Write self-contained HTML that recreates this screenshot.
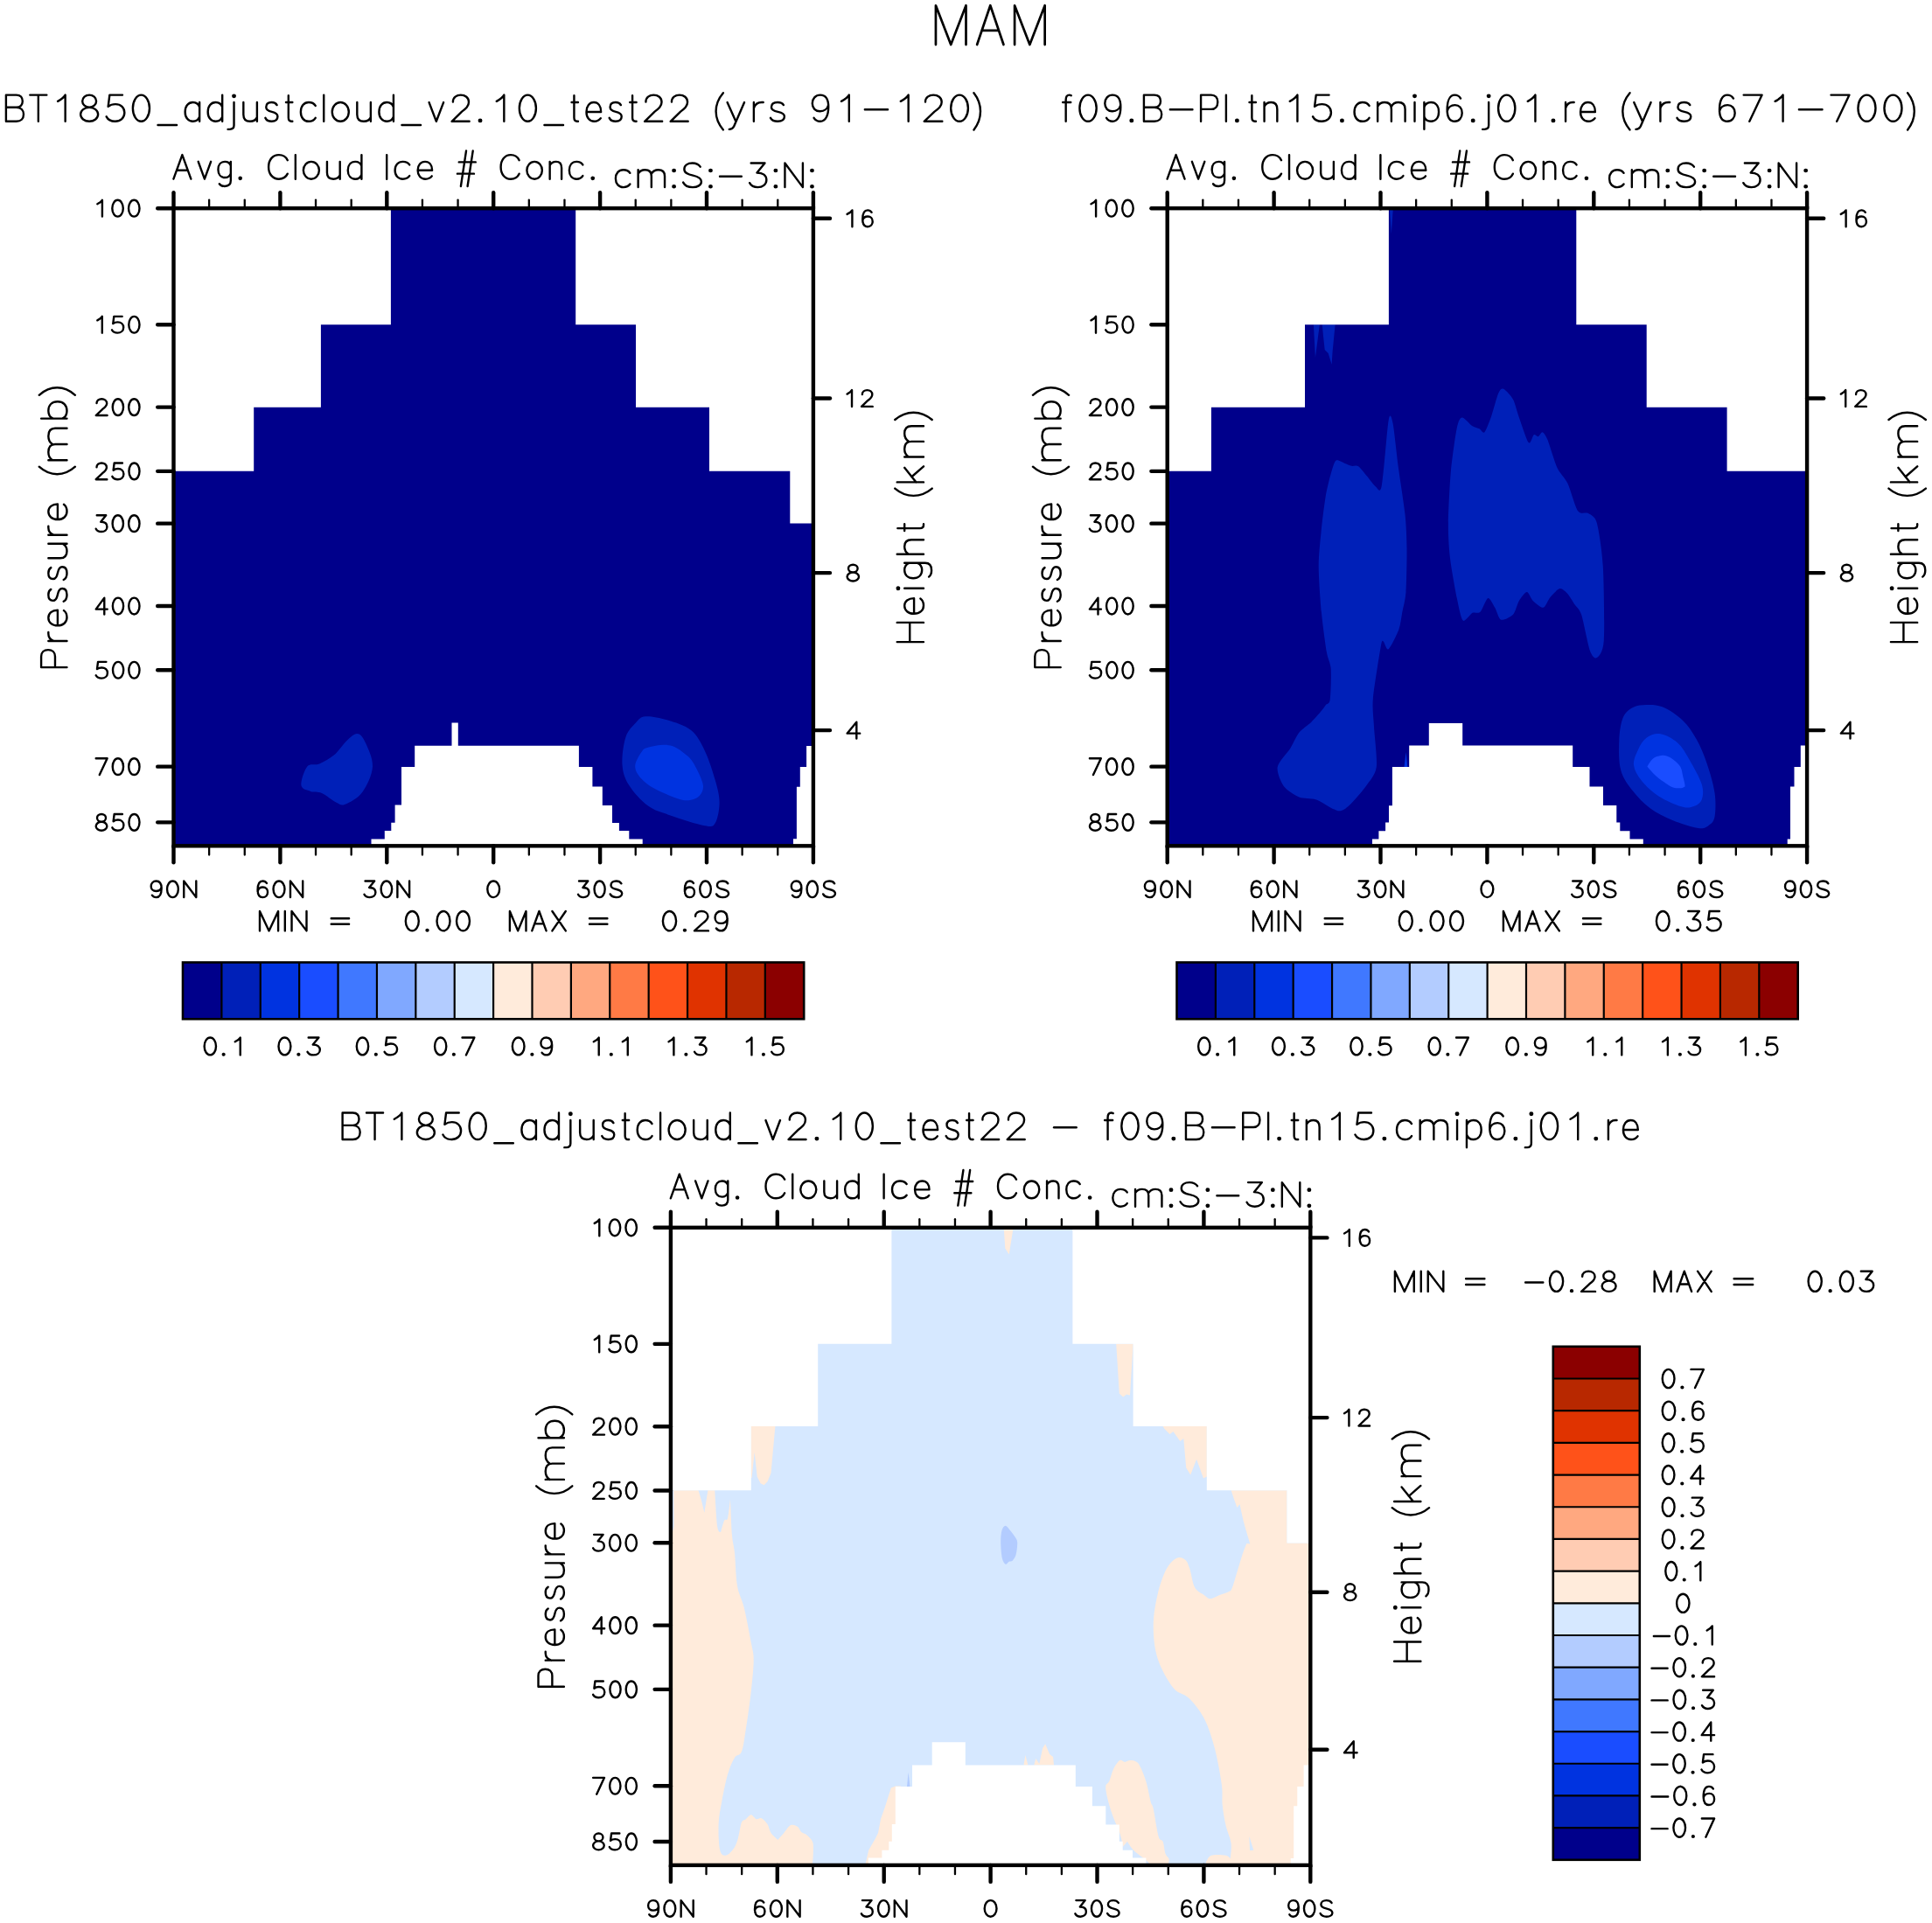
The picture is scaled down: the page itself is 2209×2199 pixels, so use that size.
<!DOCTYPE html>
<html><head><meta charset="utf-8"><style>
html,body{margin:0;padding:0;background:#fff;overflow:hidden}
svg{display:block}
path[stroke-width]{fill:none;stroke:#000;stroke-linecap:round;stroke-linejoin:round}
text{font-family:"Liberation Sans",sans-serif;font-kerning:none;fill:#000;stroke:#fff;stroke-linejoin:round;paint-order:normal}
</style></head><body>
<svg width="2209" height="2199" viewBox="0 0 2209 2199">
<rect width="2209" height="2199" fill="#fff"/>
<rect x="198.5" y="238.2" width="731.4" height="729.1" fill="#00008B"/>
<path d="M344.4 898 C343.75 893.25 347.85 880.5 351.3 876.4 C354.75 872.3 360.02 875.53 365.1 873.4 C370.18 871.27 376.57 868.02 381.8 863.6 C387.03 859.18 392.08 851 396.5 846.9 C400.92 842.8 404.85 838.83 408.3 839 C411.75 839.17 414.25 841.67 417.2 847.9 C420.15 854.13 426.5 866.73 426 876.4 C425.5 886.07 419.43 898.68 414.2 905.9 C408.97 913.12 399.52 917.73 394.6 919.7 C389.68 921.67 389.13 919.83 384.7 917.7 C380.27 915.57 372.92 909.03 368 906.9 C363.08 904.77 359.13 906.38 355.2 904.9 C351.27 903.42 345.05 902.75 344.4 898 Z" fill="#0020B8"/>
<path d="M738 819.3 C743.9 818.82 753.92 820.67 762.6 823.3 C771.28 825.93 782.88 829.2 790.1 835.1 C797.32 841 801.3 849.2 805.9 858.7 C810.5 868.2 814.92 882.27 817.7 892.1 C820.48 901.93 822.6 909.5 822.6 917.7 C822.6 925.9 820.48 936.88 817.7 941.3 C814.92 945.72 814.43 945.68 805.9 944.2 C797.37 942.72 777.32 936.17 766.5 932.4 C755.68 928.63 748.87 927.33 741 921.6 C733.13 915.87 724.22 905.87 719.3 898 C714.38 890.13 712.15 883.58 711.5 874.4 C710.85 865.22 712.78 850.93 715.4 842.9 C718.02 834.87 723.43 830.13 727.2 826.2 C730.97 822.27 732.1 819.78 738 819.3 Z" fill="#0020B8"/>
<path d="M741 854.7 C746.57 853.33 758.97 850.75 766.5 852.4 C774.03 854.05 781.28 860.28 786.2 864.6 C791.12 868.92 793.05 872.73 796 878.3 C798.95 883.87 803.23 892.75 803.9 898 C804.57 903.25 802.3 907.02 800 909.8 C797.7 912.58 794.03 914.03 790.1 914.7 C786.17 915.37 783.28 915.92 776.4 913.8 C769.52 911.68 756.02 905.93 748.8 902 C741.58 898.07 736.87 894.47 733.1 890.2 C729.33 885.93 726.2 881.33 726.2 876.4 C726.2 871.47 730.63 864.22 733.1 860.6 C735.57 856.98 735.43 856.07 741 854.7 Z" fill="#0033E0"/>
<path d="M198.5 238.2 L446.9 238.2 L446.9 371.3 L366.9 371.3 L366.9 465.8 L290.2 465.8 L290.2 538.7 L198.5 538.7Z" fill="#FFFFFF"/>
<path d="M658.2 238.2 L929.9 238.2 L929.9 598.6 L903.3 598.6 L903.3 538.7 L811 538.7 L811 465.8 L727 465.8 L727 371.3 L658.2 371.3Z" fill="#FFFFFF"/>
<path d="M424.5 967.3 L424.5 959.4 L439.8 959.4 L439.8 950.1 L447.3 950.1 L447.3 940.7 L451.6 940.7 L451.6 920.6 L459 920.6 L459 877 L474.2 877 L474.2 852.8 L516.5 852.8 L516.5 826.6 L523.8 826.6 L523.8 852.8 L661.9 852.8 L661.9 877 L677.4 877 L677.4 899.6 L688.8 899.6 L688.8 921 L700 921 L700 940.9 L707.9 940.9 L707.9 950.1 L719.3 950.1 L719.3 959.4 L734.7 959.4 L734.7 967.3Z" fill="#FFFFFF"/>
<path d="M922.1 852.9 L929.9 852.9 L929.9 967.3 L907 967.3 L907 959.2 L910.9 959.2 L910.9 899.7 L914.8 899.7 L914.8 877 L922.1 877Z" fill="#FFFFFF"/>
<g stroke="#000" stroke-linecap="round" fill="none">
<rect x="198.5" y="238.2" width="731.4" height="729.1" stroke-width="4.4" stroke-linejoin="miter"/>
<line x1="198.5" y1="238.2" x2="198.5" y2="220.2" stroke-width="4.4"/>
<line x1="198.5" y1="967.3" x2="198.5" y2="986.3" stroke-width="4.4"/>
<line x1="239.13" y1="238.2" x2="239.13" y2="228.6" stroke-width="2.3"/>
<line x1="239.13" y1="967.3" x2="239.13" y2="977.6" stroke-width="2.3"/>
<line x1="279.77" y1="238.2" x2="279.77" y2="228.6" stroke-width="2.3"/>
<line x1="279.77" y1="967.3" x2="279.77" y2="977.6" stroke-width="2.3"/>
<line x1="320.4" y1="238.2" x2="320.4" y2="220.2" stroke-width="4.4"/>
<line x1="320.4" y1="967.3" x2="320.4" y2="986.3" stroke-width="4.4"/>
<line x1="361.03" y1="238.2" x2="361.03" y2="228.6" stroke-width="2.3"/>
<line x1="361.03" y1="967.3" x2="361.03" y2="977.6" stroke-width="2.3"/>
<line x1="401.67" y1="238.2" x2="401.67" y2="228.6" stroke-width="2.3"/>
<line x1="401.67" y1="967.3" x2="401.67" y2="977.6" stroke-width="2.3"/>
<line x1="442.3" y1="238.2" x2="442.3" y2="220.2" stroke-width="4.4"/>
<line x1="442.3" y1="967.3" x2="442.3" y2="986.3" stroke-width="4.4"/>
<line x1="482.93" y1="238.2" x2="482.93" y2="228.6" stroke-width="2.3"/>
<line x1="482.93" y1="967.3" x2="482.93" y2="977.6" stroke-width="2.3"/>
<line x1="523.57" y1="238.2" x2="523.57" y2="228.6" stroke-width="2.3"/>
<line x1="523.57" y1="967.3" x2="523.57" y2="977.6" stroke-width="2.3"/>
<line x1="564.2" y1="238.2" x2="564.2" y2="220.2" stroke-width="4.4"/>
<line x1="564.2" y1="967.3" x2="564.2" y2="986.3" stroke-width="4.4"/>
<line x1="604.83" y1="238.2" x2="604.83" y2="228.6" stroke-width="2.3"/>
<line x1="604.83" y1="967.3" x2="604.83" y2="977.6" stroke-width="2.3"/>
<line x1="645.47" y1="238.2" x2="645.47" y2="228.6" stroke-width="2.3"/>
<line x1="645.47" y1="967.3" x2="645.47" y2="977.6" stroke-width="2.3"/>
<line x1="686.1" y1="238.2" x2="686.1" y2="220.2" stroke-width="4.4"/>
<line x1="686.1" y1="967.3" x2="686.1" y2="986.3" stroke-width="4.4"/>
<line x1="726.73" y1="238.2" x2="726.73" y2="228.6" stroke-width="2.3"/>
<line x1="726.73" y1="967.3" x2="726.73" y2="977.6" stroke-width="2.3"/>
<line x1="767.37" y1="238.2" x2="767.37" y2="228.6" stroke-width="2.3"/>
<line x1="767.37" y1="967.3" x2="767.37" y2="977.6" stroke-width="2.3"/>
<line x1="808" y1="238.2" x2="808" y2="220.2" stroke-width="4.4"/>
<line x1="808" y1="967.3" x2="808" y2="986.3" stroke-width="4.4"/>
<line x1="848.63" y1="238.2" x2="848.63" y2="228.6" stroke-width="2.3"/>
<line x1="848.63" y1="967.3" x2="848.63" y2="977.6" stroke-width="2.3"/>
<line x1="889.27" y1="238.2" x2="889.27" y2="228.6" stroke-width="2.3"/>
<line x1="889.27" y1="967.3" x2="889.27" y2="977.6" stroke-width="2.3"/>
<line x1="929.9" y1="238.2" x2="929.9" y2="220.2" stroke-width="4.4"/>
<line x1="929.9" y1="967.3" x2="929.9" y2="986.3" stroke-width="4.4"/>
<line x1="198.5" y1="238.2" x2="180.2" y2="238.2" stroke-width="4.4"/>
<line x1="198.5" y1="371.23" x2="180.2" y2="371.23" stroke-width="4.4"/>
<line x1="198.5" y1="465.62" x2="180.2" y2="465.62" stroke-width="4.4"/>
<line x1="198.5" y1="538.83" x2="180.2" y2="538.83" stroke-width="4.4"/>
<line x1="198.5" y1="598.65" x2="180.2" y2="598.65" stroke-width="4.4"/>
<line x1="198.5" y1="693.04" x2="180.2" y2="693.04" stroke-width="4.4"/>
<line x1="198.5" y1="766.26" x2="180.2" y2="766.26" stroke-width="4.4"/>
<line x1="198.5" y1="876.65" x2="180.2" y2="876.65" stroke-width="4.4"/>
<line x1="198.5" y1="940.36" x2="180.2" y2="940.36" stroke-width="4.4"/>
<line x1="929.9" y1="249.8" x2="949" y2="249.8" stroke-width="4.4"/>
<line x1="929.9" y1="455.5" x2="949" y2="455.5" stroke-width="4.4"/>
<line x1="929.9" y1="655.1" x2="949" y2="655.1" stroke-width="4.4"/>
<line x1="929.9" y1="835.1" x2="949" y2="835.1" stroke-width="4.4"/>
</g>
<path d="M111.3 233.31 C113.79 232 115.87 230.68 116.9 228.8 L116.9 247.6 M134.56 228.8 C138 228.8 140.8 233.01 140.8 238.2 C140.8 243.39 138 247.6 134.56 247.6 C131.11 247.6 128.32 243.39 128.32 238.2 C128.32 233.01 131.11 228.8 134.56 228.8 M153.26 228.8 C156.71 228.8 159.5 233.01 159.5 238.2 C159.5 243.39 156.71 247.6 153.26 247.6 C149.81 247.6 147.02 243.39 147.02 238.2 C147.02 233.01 149.81 228.8 153.26 228.8" stroke-width="2.4"/>
<path d="M111.3 366.35 C113.74 365.03 115.77 363.71 116.79 361.83 L116.79 380.63 M139.69 361.83 L130.31 361.83 L129.24 370.11 C130.95 368.79 132.65 368.41 134.57 368.41 C138.63 368.41 141.19 371.05 141.19 374.43 C141.19 378.19 138.2 380.63 134.36 380.63 C131.37 380.63 129.03 379.32 127.96 377.25 M153.39 361.83 C156.76 361.83 159.5 366.04 159.5 371.23 C159.5 376.42 156.76 380.63 153.39 380.63 C150.02 380.63 147.28 376.42 147.28 371.23 C147.28 366.04 150.02 361.83 153.39 361.83" stroke-width="2.4"/>
<path d="M110.52 461.11 C110.52 457.91 113.18 456.22 116.25 456.22 C119.53 456.22 122.19 458.1 122.19 461.3 C122.19 464.31 119.94 466 117.07 468.07 L109.7 475.02 L122.6 475.02 M134.89 456.22 C138.29 456.22 141.05 460.43 141.05 465.62 C141.05 470.81 138.29 475.02 134.89 475.02 C131.49 475.02 128.74 470.81 128.74 465.62 C128.74 460.43 131.49 456.22 134.89 456.22 M153.34 456.22 C156.74 456.22 159.5 460.43 159.5 465.62 C159.5 470.81 156.74 475.02 153.34 475.02 C149.94 475.02 147.19 470.81 147.19 465.62 C147.19 460.43 149.94 456.22 153.34 456.22" stroke-width="2.4"/>
<path d="M110.5 534.32 C110.5 531.13 113.11 529.43 116.12 529.43 C119.33 529.43 121.94 531.31 121.94 534.51 C121.94 537.52 119.73 539.21 116.92 541.28 L109.7 548.23 L122.34 548.23 M139.94 529.43 L130.67 529.43 L129.62 537.71 C131.31 536.39 132.99 536.01 134.89 536.01 C138.89 536.01 141.42 538.65 141.42 542.03 C141.42 545.79 138.47 548.23 134.68 548.23 C131.73 548.23 129.41 546.92 128.36 544.85 M153.47 529.43 C156.8 529.43 159.5 533.64 159.5 538.83 C159.5 544.03 156.8 548.23 153.47 548.23 C150.14 548.23 147.44 544.03 147.44 538.83 C147.44 533.64 150.14 529.43 153.47 529.43" stroke-width="2.4"/>
<path d="M110.73 589.25 L121.21 589.25 L115.25 596.77 C119.77 596.77 122.44 599.03 122.44 602.41 C122.44 605.8 119.57 608.05 115.87 608.05 C112.99 608.05 110.73 606.74 109.7 604.67 M134.79 589.25 C138.2 589.25 140.97 593.46 140.97 598.65 C140.97 603.85 138.2 608.05 134.79 608.05 C131.38 608.05 128.61 603.85 128.61 598.65 C128.61 593.46 131.38 589.25 134.79 589.25 M153.32 589.25 C156.73 589.25 159.5 593.46 159.5 598.65 C159.5 603.85 156.73 608.05 153.32 608.05 C149.91 608.05 147.14 603.85 147.14 598.65 C147.14 593.46 149.91 589.25 153.32 589.25" stroke-width="2.4"/>
<path d="M119.28 702.44 L119.28 683.64 L109.7 696.62 L122.75 696.62 M134.99 683.64 C138.38 683.64 141.12 687.85 141.12 693.04 C141.12 698.23 138.38 702.44 134.99 702.44 C131.61 702.44 128.86 698.23 128.86 693.04 C128.86 687.85 131.61 683.64 134.99 683.64 M153.37 683.64 C156.76 683.64 159.5 687.85 159.5 693.04 C159.5 698.23 156.76 702.44 153.37 702.44 C149.98 702.44 147.24 698.23 147.24 693.04 C147.24 687.85 149.98 683.64 153.37 683.64" stroke-width="2.4"/>
<path d="M121.42 756.86 L112.04 756.86 L110.98 765.13 C112.68 763.81 114.39 763.44 116.31 763.44 C120.35 763.44 122.91 766.07 122.91 769.45 C122.91 773.21 119.93 775.66 116.09 775.66 C113.11 775.66 110.77 774.34 109.7 772.27 M135.1 756.86 C138.47 756.86 141.21 761.06 141.21 766.26 C141.21 771.45 138.47 775.66 135.1 775.66 C131.73 775.66 129 771.45 129 766.26 C129 761.06 131.73 756.86 135.1 756.86 M153.4 756.86 C156.77 756.86 159.5 761.06 159.5 766.26 C159.5 771.45 156.77 775.66 153.4 775.66 C150.03 775.66 147.29 771.45 147.29 766.26 C147.29 761.06 150.03 756.86 153.4 756.86" stroke-width="2.4"/>
<path d="M109.7 867.25 L122.6 867.25 L113.79 886.05 M134.89 867.25 C138.29 867.25 141.05 871.46 141.05 876.65 C141.05 881.84 138.29 886.05 134.89 886.05 C131.49 886.05 128.74 881.84 128.74 876.65 C128.74 871.46 131.49 867.25 134.89 867.25 M153.34 867.25 C156.74 867.25 159.5 871.46 159.5 876.65 C159.5 881.84 156.74 886.05 153.34 886.05 C149.94 886.05 147.19 881.84 147.19 876.65 C147.19 871.46 149.94 867.25 153.34 867.25" stroke-width="2.4"/>
<path d="M116.02 930.96 C118.79 930.96 121.03 932.93 121.03 935.37 C121.03 937.81 118.79 939.79 116.02 939.79 C113.25 939.79 111 937.81 111 935.37 C111 932.93 113.25 930.96 116.02 930.96 M116.02 939.79 C119.51 939.79 122.34 942.02 122.34 944.77 C122.34 947.53 119.51 949.76 116.02 949.76 C112.53 949.76 109.7 947.53 109.7 944.77 C109.7 942.02 112.53 939.79 116.02 939.79 M139.94 930.96 L130.67 930.96 L129.62 939.23 C131.31 937.91 132.99 937.54 134.89 937.54 C138.89 937.54 141.42 940.17 141.42 943.55 C141.42 947.31 138.47 949.76 134.68 949.76 C131.73 949.76 129.41 948.44 128.36 946.37 M153.47 930.96 C156.8 930.96 159.5 935.16 159.5 940.36 C159.5 945.55 156.8 949.76 153.47 949.76 C150.14 949.76 147.44 945.55 147.44 940.36 C147.44 935.16 150.14 930.96 153.47 930.96" stroke-width="2.4"/>
<path d="M968.6 244.91 C971.19 243.6 973.34 242.28 974.42 240.4 L974.42 259.2 M996.58 242.84 C995.64 241.34 993.95 240.4 992.08 240.4 C988.14 240.4 986.27 244.91 986.27 250.74 C986.27 256.38 988.52 259.2 992.08 259.2 C995.45 259.2 997.7 256.57 997.7 253.18 C997.7 249.8 995.45 247.54 992.26 247.54 C989.08 247.54 986.83 249.61 986.27 252.06" stroke-width="2.4"/>
<path d="M968.6 450.61 C971.01 449.3 973.02 447.98 974.02 446.1 L974.02 464.9 M985.86 450.99 C985.86 447.79 988.47 446.1 991.48 446.1 C994.69 446.1 997.3 447.98 997.3 451.18 C997.3 454.18 995.09 455.88 992.28 457.94 L985.06 464.9 L997.7 464.9" stroke-width="2.4"/>
<path d="M975.3 645.7 C978.24 645.7 980.62 647.68 980.62 650.12 C980.62 652.56 978.24 654.54 975.3 654.54 C972.36 654.54 969.98 652.56 969.98 650.12 C969.98 647.68 972.36 645.7 975.3 645.7 M975.3 654.54 C979 654.54 982 656.77 982 659.52 C982 662.27 979 664.5 975.3 664.5 C971.6 664.5 968.6 662.27 968.6 659.52 C968.6 656.77 971.6 654.54 975.3 654.54" stroke-width="2.4"/>
<path d="M979.32 844.5 L979.32 825.7 L968.6 838.67 L983.2 838.67" stroke-width="2.4"/>
<path d="M173.88 1023.68 C174.86 1025.17 176.62 1026.1 178.58 1026.1 C182.69 1026.1 184.65 1021.64 184.65 1015.87 C184.65 1010.29 182.3 1007.5 178.58 1007.5 C175.05 1007.5 172.7 1010.1 172.7 1013.45 C172.7 1016.8 175.05 1019.03 178.38 1019.03 C181.71 1019.03 184.07 1016.99 184.65 1014.57 M197.45 1007.5 C200.99 1007.5 203.85 1011.66 203.85 1016.8 C203.85 1021.94 200.99 1026.1 197.45 1026.1 C193.91 1026.1 191.04 1021.94 191.04 1016.8 C191.04 1011.66 193.91 1007.5 197.45 1007.5 M210.24 1026.1 L210.24 1007.5 L224.3 1026.1 L224.3 1007.5" stroke-width="2.4"/>
<path d="M304.92 1009.92 C303.98 1008.43 302.29 1007.5 300.42 1007.5 C296.48 1007.5 294.6 1011.96 294.6 1017.73 C294.6 1023.31 296.85 1026.1 300.42 1026.1 C303.8 1026.1 306.05 1023.5 306.05 1020.15 C306.05 1016.8 303.8 1014.57 300.61 1014.57 C297.42 1014.57 295.16 1016.61 294.6 1019.03 M319.01 1007.5 C322.59 1007.5 325.49 1011.66 325.49 1016.8 C325.49 1021.94 322.59 1026.1 319.01 1026.1 C315.42 1026.1 312.52 1021.94 312.52 1016.8 C312.52 1011.66 315.42 1007.5 319.01 1007.5 M331.96 1026.1 L331.96 1007.5 L346.2 1026.1 L346.2 1007.5" stroke-width="2.4"/>
<path d="M417.54 1007.5 L428.15 1007.5 L422.11 1014.94 C426.69 1014.94 429.39 1017.17 429.39 1020.52 C429.39 1023.87 426.48 1026.1 422.74 1026.1 C419.83 1026.1 417.54 1024.8 416.5 1022.75 M441.88 1007.5 C445.34 1007.5 448.14 1011.66 448.14 1016.8 C448.14 1021.94 445.34 1026.1 441.88 1026.1 C438.43 1026.1 435.63 1021.94 435.63 1016.8 C435.63 1011.66 438.43 1007.5 441.88 1007.5 M454.38 1026.1 L454.38 1007.5 L468.1 1026.1 L468.1 1007.5" stroke-width="2.4"/>
<path d="M564.2 1007.5 C568.01 1007.5 571.1 1011.66 571.1 1016.8 C571.1 1021.94 568.01 1026.1 564.2 1026.1 C560.39 1026.1 557.3 1021.94 557.3 1016.8 C557.3 1011.66 560.39 1007.5 564.2 1007.5" stroke-width="2.4"/>
<path d="M662.01 1007.5 L672.28 1007.5 L666.44 1014.94 C670.87 1014.94 673.49 1017.17 673.49 1020.52 C673.49 1023.87 670.67 1026.1 667.04 1026.1 C664.22 1026.1 662.01 1024.8 661 1022.75 M685.6 1007.5 C688.94 1007.5 691.66 1011.66 691.66 1016.8 C691.66 1021.94 688.94 1026.1 685.6 1026.1 C682.25 1026.1 679.54 1021.94 679.54 1016.8 C679.54 1011.66 682.25 1007.5 685.6 1007.5 M710.39 1010.29 C709.19 1008.43 707.17 1007.5 704.55 1007.5 C700.92 1007.5 698.51 1009.36 698.51 1012.15 C698.51 1015.31 701.53 1016.24 704.95 1016.99 C708.98 1017.92 711.2 1019.03 711.2 1021.82 C711.2 1024.43 708.38 1026.1 704.75 1026.1 C701.53 1026.1 698.91 1024.8 697.7 1022.38" stroke-width="2.4"/>
<path d="M792.9 1009.92 C791.99 1008.43 790.35 1007.5 788.54 1007.5 C784.72 1007.5 782.9 1011.96 782.9 1017.73 C782.9 1023.31 785.08 1026.1 788.54 1026.1 C791.81 1026.1 793.99 1023.5 793.99 1020.15 C793.99 1016.8 791.81 1014.57 788.72 1014.57 C785.63 1014.57 783.45 1016.61 782.9 1019.03 M806.54 1007.5 C810.02 1007.5 812.83 1011.66 812.83 1016.8 C812.83 1021.94 810.02 1026.1 806.54 1026.1 C803.07 1026.1 800.26 1021.94 800.26 1016.8 C800.26 1011.66 803.07 1007.5 806.54 1007.5 M832.26 1010.29 C831.01 1008.43 828.92 1007.5 826.2 1007.5 C822.44 1007.5 819.93 1009.36 819.93 1012.15 C819.93 1015.31 823.07 1016.24 826.62 1016.99 C830.8 1017.92 833.1 1019.03 833.1 1021.82 C833.1 1024.43 830.17 1026.1 826.41 1026.1 C823.07 1026.1 820.35 1024.8 819.1 1022.38" stroke-width="2.4"/>
<path d="M905.94 1023.68 C906.89 1025.17 908.6 1026.1 910.5 1026.1 C914.48 1026.1 916.38 1021.64 916.38 1015.87 C916.38 1010.29 914.1 1007.5 910.5 1007.5 C907.08 1007.5 904.8 1010.1 904.8 1013.45 C904.8 1016.8 907.08 1019.03 910.31 1019.03 C913.53 1019.03 915.81 1016.99 916.38 1014.57 M928.78 1007.5 C932.2 1007.5 934.98 1011.66 934.98 1016.8 C934.98 1021.94 932.2 1026.1 928.78 1026.1 C925.35 1026.1 922.57 1021.94 922.57 1016.8 C922.57 1011.66 925.35 1007.5 928.78 1007.5 M954.17 1010.29 C952.94 1008.43 950.87 1007.5 948.19 1007.5 C944.48 1007.5 942 1009.36 942 1012.15 C942 1015.31 945.09 1016.24 948.6 1016.99 C952.73 1017.92 955 1019.03 955 1021.82 C955 1024.43 952.11 1026.1 948.4 1026.1 C945.09 1026.1 942.41 1024.8 941.17 1022.38" stroke-width="2.4"/>
<path d="M76.5 763.1 L47.1 763.1 L47.1 750.74 C47.1 745.74 50.33 743.09 55.04 743.09 C59.74 743.09 62.98 745.74 62.98 750.74 L62.98 763.1 M55.33 733.06 L76.5 733.06 M61.8 733.06 C57.68 731.72 55.33 728.72 55.33 724.7 L55.33 723.03 M65.92 715 L65.92 697.78 C59.45 697.78 55.33 701.22 55.33 706.39 C55.33 711.55 59.45 715.34 65.92 715.34 C72.38 715.34 76.5 711.55 76.5 706.04 C76.5 702.6 75.32 699.84 72.97 698.12 M58.27 673.91 C56.21 675.11 55.33 677.22 55.33 680.22 C55.33 684.14 57.1 686.85 60.62 686.85 C63.86 686.85 65.03 684.14 65.92 679.92 C66.8 675.41 68.27 673 71.21 673 C74.74 673 76.5 676.01 76.5 680.22 C76.5 683.84 75.03 686.54 72.68 687.75 M58.27 649.13 C56.21 650.33 55.33 652.44 55.33 655.45 C55.33 659.36 57.1 662.07 60.62 662.07 C63.86 662.07 65.03 659.36 65.92 655.15 C66.8 650.64 68.27 648.23 71.21 648.23 C74.74 648.23 76.5 651.24 76.5 655.45 C76.5 659.06 75.03 661.77 72.68 662.97 M55.33 638.2 L68.86 638.2 C73.85 638.2 76.5 635.19 76.5 630.17 C76.5 626.16 74.74 623.15 71.8 621.81 M55.33 621.81 L76.5 621.81 M55.33 611.78 L76.5 611.78 M61.8 611.78 C57.68 610.45 55.33 607.44 55.33 603.43 L55.33 601.75 M65.92 593.72 L65.92 576.5 C59.45 576.5 55.33 579.94 55.33 585.11 C55.33 590.28 59.45 594.06 65.92 594.06 C72.38 594.06 76.5 590.28 76.5 584.77 C76.5 581.32 75.32 578.57 72.97 576.84" stroke-width="2.4"/>
<path d="M44.75 533.73 C50.92 539.32 57.98 542.3 65.33 542.3 C72.68 542.3 79.73 539.32 85.91 533.73 M55.33 526.28 L76.5 526.28 M60.04 526.28 C57.1 524.42 55.33 521.44 55.33 516.97 C55.33 511.01 57.98 508.02 62.98 508.02 L76.5 508.02 M60.04 508.02 C57.1 506.16 55.33 503.18 55.33 498.71 C55.33 492.75 57.98 489.77 62.98 489.77 L76.5 489.77 M47.1 478.59 L76.5 478.59 M60.62 478.59 C57.1 477.1 55.33 474.12 55.33 469.65 C55.33 463.32 59.45 459.22 65.92 459.22 C72.38 459.22 76.5 463.32 76.5 469.65 C76.5 474.12 74.74 477.1 71.21 478.59 M44.75 451.77 C50.92 446.18 57.98 443.2 65.33 443.2 C72.68 443.2 79.73 446.18 85.91 451.77" stroke-width="2.4"/>
<path d="M1025.7 734.1 L1056 734.1 M1025.7 711.9 L1056 711.9 M1040.24 734.1 L1040.24 711.9 M1045.09 701.46 L1045.09 684.14 C1038.43 684.14 1034.18 687.61 1034.18 692.8 C1034.18 698 1038.43 701.81 1045.09 701.81 C1051.76 701.81 1056 698 1056 692.46 C1056 688.99 1054.79 686.22 1052.36 684.49 M1034.18 672.71 L1056 672.71 M1025.7 672.71 C1025.7 671.96 1026.24 671.36 1026.91 671.36 C1027.58 671.36 1028.12 671.96 1028.12 672.71 C1028.12 673.45 1027.58 674.05 1026.91 674.05 C1026.24 674.05 1025.7 673.45 1025.7 672.71 M1034.18 643.78 L1057.82 643.78 C1062.67 643.78 1065.09 646.81 1065.09 652.19 C1065.09 655.55 1063.88 658.24 1062.06 659.59 M1039.34 643.78 C1036 645.13 1034.18 647.82 1034.18 651.85 C1034.18 657.57 1038.12 661.27 1044.18 661.27 C1050.24 661.27 1054.18 657.57 1054.18 651.85 C1054.18 647.82 1052.36 645.13 1049.03 643.78 M1025.7 633.69 L1056 633.69 M1039.03 633.69 C1036 632.01 1034.18 628.98 1034.18 624.95 C1034.18 619.9 1036.91 617.21 1042.06 617.21 L1056 617.21 M1026.31 604.09 L1051.76 604.09 C1054.79 604.09 1056 602.83 1056 600.56 L1056 599.3 M1034.18 607.12 L1034.18 599.3" stroke-width="2.4"/>
<path d="M1023.28 558.61 C1029.64 564.02 1036.91 566.9 1044.49 566.9 C1052.06 566.9 1059.33 564.02 1065.7 558.61 M1025.7 551.39 L1056 551.39 M1034.18 534.81 L1047.52 551.39 M1042.37 545.26 L1056 533.36 M1034.18 522.55 L1056 522.55 M1039.03 522.55 C1036 520.74 1034.18 517.86 1034.18 513.53 C1034.18 507.76 1036.91 504.88 1042.06 504.88 L1056 504.88 M1039.03 504.88 C1036 503.07 1034.18 500.19 1034.18 495.86 C1034.18 490.09 1036.91 487.21 1042.06 487.21 L1056 487.21 M1023.28 479.99 C1029.64 474.58 1036.91 471.7 1044.49 471.7 C1052.06 471.7 1059.33 474.58 1065.7 479.99" stroke-width="2.4"/>
<path d="M198.4 204.7 L208.39 177.1 L218.37 204.7 M202.01 194.76 L214.77 194.76 M226.7 184.83 L233.91 204.7 L241.12 184.83 M263.87 184.83 L263.87 206.36 C263.87 210.77 261.37 212.98 256.94 212.98 C254.16 212.98 251.94 211.88 250.83 210.22 M263.87 189.52 C262.76 186.48 260.54 184.83 257.21 184.83 C252.5 184.83 249.45 188.42 249.45 193.94 C249.45 199.46 252.5 203.04 257.21 203.04 C260.54 203.04 262.76 201.39 263.87 198.35 M274.69 202.77 C275.3 202.77 275.8 203.26 275.8 203.87 C275.8 204.48 275.3 204.98 274.69 204.98 C274.08 204.98 273.58 204.48 273.58 203.87 C273.58 203.26 274.08 202.77 274.69 202.77" stroke-width="2.4"/>
<path d="M328.79 183.17 C326.98 179.31 323.37 177.1 318.85 177.1 C311.92 177.1 307.1 182.62 307.1 190.9 C307.1 199.18 311.92 204.7 318.85 204.7 C323.37 204.7 326.98 202.49 328.79 198.63 M337.83 177.1 L337.83 204.7 M355.88 184.83 C360.86 184.83 364.9 189.28 364.9 194.76 C364.9 200.25 360.86 204.7 355.88 204.7 C350.9 204.7 346.86 200.25 346.86 194.76 C346.86 189.28 350.9 184.83 355.88 184.83 M373.94 184.83 L373.94 197.52 C373.94 202.22 376.65 204.7 381.17 204.7 C384.78 204.7 387.49 203.04 388.7 200.28 M388.7 184.83 L388.7 204.7 M413.4 177.1 L413.4 204.7 M413.4 189.8 C412.2 186.48 409.79 184.83 406.19 184.83 C401.18 184.83 397.74 188.69 397.74 194.76 C397.74 200.84 401.18 204.7 406.19 204.7 C409.79 204.7 412.2 203.04 413.4 199.73" stroke-width="2.4"/>
<path d="M442.2 177.1 L442.2 204.7 M468.22 188.42 C466.56 185.93 463.9 184.83 460.58 184.83 C455.26 184.83 451.61 188.69 451.61 194.76 C451.61 200.84 455.26 204.7 460.58 204.7 C463.9 204.7 466.56 203.6 468.22 201.11 M477.95 194.76 L494.1 194.76 C494.1 188.69 490.87 184.83 486.03 184.83 C481.18 184.83 477.63 188.69 477.63 194.76 C477.63 200.84 481.18 204.7 486.35 204.7 C489.58 204.7 492.16 203.6 493.78 201.39" stroke-width="2.4"/>
<path d="M533.04 172.41 L526.9 212.98 M540.73 172.41 L534.58 212.98 M524.74 185.38 L543.8 185.38 M522.9 198.63 L541.96 198.63" stroke-width="2.4"/>
<path d="M593.63 183.17 C591.88 179.31 588.37 177.1 583.99 177.1 C577.27 177.1 572.6 182.62 572.6 190.9 C572.6 199.18 577.27 204.7 583.99 204.7 C588.37 204.7 591.88 202.49 593.63 198.63 M611.14 184.83 C615.97 184.83 619.88 189.28 619.88 194.76 C619.88 200.25 615.97 204.7 611.14 204.7 C606.31 204.7 602.39 200.25 602.39 194.76 C602.39 189.28 606.31 184.83 611.14 184.83 M628.65 184.83 L628.65 204.7 M628.65 189.24 C630.02 186.48 632.49 184.83 635.78 184.83 C639.9 184.83 642.1 187.31 642.1 192 L642.1 204.7 M666.34 188.42 C664.79 185.93 662.32 184.83 659.22 184.83 C654.27 184.83 650.86 188.69 650.86 194.76 C650.86 200.84 654.27 204.7 659.22 204.7 C662.32 204.7 664.79 203.6 666.34 201.11 M677.73 202.77 C678.38 202.77 678.9 203.26 678.9 203.87 C678.9 204.48 678.38 204.98 677.73 204.98 C677.09 204.98 676.56 204.48 676.56 203.87 C676.56 203.26 677.09 202.77 677.73 202.77" stroke-width="2.4"/>
<path d="M720.34 197.82 C718.69 195.33 716.06 194.23 712.78 194.23 C707.52 194.23 703.9 198.09 703.9 204.16 C703.9 210.24 707.52 214.1 712.78 214.1 C716.06 214.1 718.69 213 720.34 210.51 M729.64 194.23 L729.64 214.1 M729.64 198.64 C731.19 195.88 733.68 194.23 737.4 194.23 C742.36 194.23 744.84 196.71 744.84 201.4 L744.84 214.1 M744.84 198.64 C746.39 195.88 748.87 194.23 752.6 194.23 C757.56 194.23 760.04 196.71 760.04 201.4 L760.04 214.1 M770.59 193.95 C771.27 193.95 771.83 194.45 771.83 195.06 C771.83 195.67 771.27 196.16 770.59 196.16 C769.9 196.16 769.34 195.67 769.34 195.06 C769.34 194.45 769.9 193.95 770.59 193.95 M770.59 212.17 C771.27 212.17 771.83 212.66 771.83 213.27 C771.83 213.88 771.27 214.38 770.59 214.38 C769.9 214.38 769.34 213.88 769.34 213.27 C769.34 212.66 769.9 212.17 770.59 212.17 M800.67 190.64 C798.81 187.88 795.71 186.5 791.68 186.5 C786.09 186.5 782.37 189.26 782.37 193.4 C782.37 198.09 787.02 199.47 792.3 200.58 C798.5 201.96 801.91 203.61 801.91 207.75 C801.91 211.62 797.57 214.1 791.99 214.1 C787.02 214.1 782.99 212.17 781.13 208.58 M812.46 193.95 C813.14 193.95 813.7 194.45 813.7 195.06 C813.7 195.67 813.14 196.16 812.46 196.16 C811.77 196.16 811.22 195.67 811.22 195.06 C811.22 194.45 811.77 193.95 812.46 193.95 M812.46 212.17 C813.14 212.17 813.7 212.66 813.7 213.27 C813.7 213.88 813.14 214.38 812.46 214.38 C811.77 214.38 811.22 213.88 811.22 213.27 C811.22 212.66 811.77 212.17 812.46 212.17 M823 201.68 L847.82 201.68 M858.67 186.5 L874.49 186.5 L865.5 197.54 C872.32 197.54 876.35 200.85 876.35 205.82 C876.35 210.79 872.01 214.1 866.43 214.1 C862.08 214.1 858.67 212.17 857.12 209.13 M886.9 193.95 C887.58 193.95 888.14 194.45 888.14 195.06 C888.14 195.67 887.58 196.16 886.9 196.16 C886.21 196.16 885.66 195.67 885.66 195.06 C885.66 194.45 886.21 193.95 886.9 193.95 M886.9 212.17 C887.58 212.17 888.14 212.66 888.14 213.27 C888.14 213.88 887.58 214.38 886.9 214.38 C886.21 214.38 885.66 213.88 885.66 213.27 C885.66 212.66 886.21 212.17 886.9 212.17 M897.44 214.1 L897.44 186.5 L917.91 214.1 L917.91 186.5 M928.46 193.95 C929.14 193.95 929.7 194.45 929.7 195.06 C929.7 195.67 929.14 196.16 928.46 196.16 C927.77 196.16 927.22 195.67 927.22 195.06 C927.22 194.45 927.77 193.95 928.46 193.95 M928.46 212.17 C929.14 212.17 929.7 212.66 929.7 213.27 C929.7 213.88 929.14 214.38 928.46 214.38 C927.77 214.38 927.22 213.88 927.22 213.27 C927.22 212.66 927.77 212.17 928.46 212.17" stroke-width="2.4"/>
<rect x="1334.7" y="238.2" width="731.4" height="729.1" fill="#00008B"/>
<path d="M1527.4 526.8 C1529.51 525.09 1534.93 529 1537.3 529.8 C1539.67 530.6 1543.09 532.35 1545.2 532.8 C1547.31 533.25 1550.73 531.63 1553.1 533.2 C1555.47 534.77 1560.36 541.49 1563 544.6 C1565.64 547.71 1570.66 555.05 1572.9 556.5 C1575.14 557.95 1577.83 565.65 1579.8 555.5 C1581.77 545.35 1585.99 489.89 1587.7 480.4 C1589.41 470.91 1591.15 477.31 1592.6 484.3 C1594.05 491.29 1596.75 518.96 1598.6 532.8 C1600.45 546.64 1605.18 575.46 1606.5 588.1 C1607.82 600.74 1608.37 615.75 1608.5 627.6 C1608.63 639.45 1608.19 667.35 1607.5 677 C1606.81 686.65 1604.38 694.31 1603.3 700 C1602.22 705.69 1601.49 714.06 1599.4 719.7 C1597.31 725.34 1589.96 740.47 1587.6 742.3 C1585.24 744.13 1582.87 733.8 1581.7 733.4 C1580.53 733 1580.37 730.65 1578.8 739.3 C1577.23 747.95 1570.95 786.23 1569.9 798.3 C1568.85 810.37 1570.38 819.31 1570.9 829.8 C1571.42 840.29 1574.99 867.81 1573.8 877 C1572.61 886.19 1566.19 892.79 1562 898.7 C1557.81 904.61 1546.72 917.5 1542.4 921.3 C1538.08 925.1 1534.59 928.12 1529.6 927.2 C1524.61 926.28 1510.91 916.51 1505 914.4 C1499.09 912.29 1490.29 913.49 1485.3 911.4 C1480.31 909.31 1470.88 903.29 1467.6 898.7 C1464.32 894.11 1459.65 882.77 1460.7 877 C1461.75 871.23 1472.22 860.64 1475.5 855.4 C1478.78 850.16 1482.15 841.63 1485.3 837.7 C1488.45 833.77 1495.82 829.05 1499.1 825.9 C1502.38 822.75 1507.67 816.73 1509.9 814.1 C1512.13 811.47 1514.36 808.04 1515.8 806.2 C1517.24 804.36 1519.91 805.81 1520.7 800.3 C1521.49 794.79 1522.22 772.25 1521.7 764.9 C1521.18 757.55 1518.24 753.85 1516.8 745.2 C1515.36 736.55 1512.11 713.04 1510.9 700 C1509.69 686.96 1507.74 659.68 1507.7 647.4 C1507.66 635.12 1509.55 618.45 1510.6 607.9 C1511.65 597.35 1514.15 577.01 1515.6 568.3 C1517.05 559.59 1519.93 548.13 1521.5 542.6 C1523.07 537.07 1525.29 528.51 1527.4 526.8 Z" fill="#0020B8"/>
<path d="M1671.7 477.4 C1674.07 477.13 1680.96 485.58 1683.6 487.3 C1686.24 489.02 1689.66 489.38 1691.5 490.3 C1693.34 491.22 1695.56 496.17 1697.4 494.2 C1699.24 492.23 1703.19 481.42 1705.3 475.5 C1707.41 469.58 1711.36 453.89 1713.2 449.8 C1715.04 445.71 1716.86 443.88 1719.1 444.8 C1721.34 445.72 1727.63 452.35 1730 456.7 C1732.37 461.05 1734.53 470.81 1736.9 477.4 C1739.27 483.99 1745.56 503.46 1747.8 506.1 C1750.04 508.74 1752.25 498.12 1753.7 497.2 C1755.15 496.28 1757.38 499.6 1758.7 499.2 C1760.02 498.8 1762.16 493.68 1763.6 494.2 C1765.04 494.72 1767.26 497.7 1769.5 503.1 C1771.74 508.5 1777.36 528.11 1780.4 534.7 C1783.44 541.29 1789.14 545.9 1792.3 552.5 C1795.46 559.1 1800.94 579.59 1804.1 584.2 C1807.26 588.81 1813.11 585.26 1816 587.1 C1818.89 588.94 1823.56 589.96 1825.8 598 C1828.04 606.04 1831.73 629.48 1832.8 647.4 C1833.87 665.32 1834.73 718.44 1833.8 732.4 C1832.87 746.36 1827.91 750.53 1825.8 752.1 C1823.69 753.67 1820.36 750.79 1818 744.2 C1815.64 737.61 1810.47 709.81 1808.1 702.7 C1805.73 695.59 1802.31 694.06 1800.2 690.9 C1798.09 687.74 1794.54 681.37 1792.3 679 C1790.06 676.63 1786.04 672.57 1783.4 673.1 C1780.76 673.63 1775.01 680.11 1772.5 683 C1769.99 685.89 1767.24 694.28 1764.6 694.8 C1761.96 695.32 1755.21 689.27 1752.7 686.9 C1750.19 684.53 1747.91 677 1745.8 677 C1743.69 677 1739.01 683.47 1736.9 686.9 C1734.79 690.33 1732.76 699.79 1730 702.7 C1727.24 705.61 1718.97 709.75 1716.2 708.7 C1713.43 707.65 1711.19 698.09 1709.2 694.8 C1707.21 691.51 1703.53 683.33 1701.3 684 C1699.07 684.67 1694.86 697.56 1692.5 699.8 C1690.14 702.04 1686.24 699.49 1683.6 700.8 C1680.96 702.11 1675.07 711.84 1672.7 709.6 C1670.33 707.36 1667.77 693.61 1665.8 684 C1663.83 674.39 1659.22 648.97 1657.9 637.5 C1656.58 626.03 1655.77 611.17 1655.9 598 C1656.03 584.83 1657.58 553.19 1658.9 538.7 C1660.22 524.21 1664.09 497.47 1665.8 489.3 C1667.51 481.13 1669.33 477.67 1671.7 477.4 Z" fill="#0020B8"/>
<path d="M1501.9 371.3 L1508.8 371.3 L1503.9 408.9Z" fill="#0020B8"/>
<path d="M1511.8 371.3 L1526.6 371.3 L1523.6 401.9 L1522.6 416.8 L1518.7 403.9 L1514.7 400 L1512.8 382.2Z" fill="#0020B8"/>
<path d="M1588.8 238.2 L1592.8 238.2 L1590.8 267.5Z" fill="#0020B8"/>
<path d="M1605.5 877 L1609.3 877 L1607.6 860Z" fill="#0033E0"/>
<path d="M1878.8 806.2 C1884.7 805.88 1892.95 805.25 1900.5 808.2 C1908.05 811.15 1917.55 817.67 1924.1 823.9 C1930.65 830.13 1935.22 837.4 1939.8 845.6 C1944.38 853.8 1948.15 862.95 1951.6 873.1 C1955.05 883.25 1959.02 896.33 1960.5 906.5 C1961.98 916.67 1961.65 927.87 1960.5 934.1 C1959.35 940.33 1956.72 941.77 1953.6 943.9 C1950.48 946.03 1948.68 947.88 1941.8 946.9 C1934.92 945.92 1921.48 941.78 1912.3 938 C1903.12 934.22 1894.25 929.77 1886.7 924.2 C1879.15 918.63 1872.57 911.8 1867 904.6 C1861.43 897.4 1855.92 890.52 1853.3 881 C1850.68 871.48 1850.98 857.33 1851.3 847.5 C1851.62 837.67 1852.9 828.23 1855.2 822 C1857.5 815.77 1861.17 812.73 1865.1 810.1 C1869.03 807.47 1872.9 806.52 1878.8 806.2 Z" fill="#0020B8"/>
<path d="M1898.5 839.3 C1904.4 840.28 1912.63 844.52 1918.2 849.5 C1923.77 854.48 1927.32 861.33 1931.9 869.2 C1936.48 877.07 1943.4 889.17 1945.7 896.7 C1948 904.23 1947.33 910.13 1945.7 914.4 C1944.07 918.67 1939.83 920.98 1935.9 922.3 C1931.97 923.62 1928.67 924.27 1922.1 922.3 C1915.53 920.33 1904.03 915.42 1896.5 910.5 C1888.97 905.58 1881.65 898.7 1876.9 892.8 C1872.15 886.9 1868.67 881 1868 875.1 C1867.33 869.2 1870.43 862.65 1872.9 857.4 C1875.37 852.15 1878.53 846.62 1882.8 843.6 C1887.07 840.58 1892.6 838.32 1898.5 839.3 Z" fill="#0033E0"/>
<path d="M1883.4 876.5 C1883.4 876.5 1887.4 869.57 1890 867.5 C1892.6 865.43 1896.5 864.63 1899 864.1 C1901.5 863.57 1902.67 863.57 1905 864.3 C1907.33 865.03 1910.28 866.42 1913 868.5 C1915.72 870.58 1919.42 873.55 1921.3 876.8 C1923.18 880.05 1923.47 884.72 1924.3 888 C1925.13 891.28 1925.93 894.58 1926.3 896.5 C1926.67 898.42 1926.5 899.5 1926.5 899.5 C1926.5 899.5 1924.25 901.13 1922 901.3 C1919.75 901.47 1915.83 901.38 1913 900.5 C1910.17 899.62 1908.33 898.25 1905 896 C1901.67 893.75 1896.6 890.25 1893 887 C1889.4 883.75 1883.4 876.5 1883.4 876.5 Z" fill="#1A4DFF"/>
<path d="M1334.7 238.2 L1587.9 238.2 L1587.9 371.3 L1492 371.3 L1492 465.8 L1384.9 465.8 L1384.9 538.7 L1334.7 538.7Z" fill="#FFFFFF"/>
<path d="M1802.3 238.2 L2066.1 238.2 L2066.1 538.7 L1974.6 538.7 L1974.6 465.8 L1882.7 465.8 L1882.7 371.3 L1802.3 371.3Z" fill="#FFFFFF"/>
<path d="M1569 967.3 L1569 959.6 L1576.4 959.6 L1576.4 950.2 L1584.1 950.2 L1584.1 940.4 L1588 940.4 L1588 921.3 L1591.9 921.3 L1591.9 877 L1611.2 877 L1611.2 852.4 L1633.8 852.4 L1633.8 826.9 L1672.2 826.9 L1672.2 852.4 L1798.2 852.4 L1798.2 877 L1817.5 877 L1817.5 899.6 L1833 899.6 L1833 920.9 L1848.3 920.9 L1848.3 940.4 L1852.3 940.4 L1852.3 950.2 L1863.5 950.2 L1863.5 959.6 L1878.8 959.6 L1878.8 967.3Z" fill="#FFFFFF"/>
<path d="M2058.8 852.4 L2066.1 852.4 L2066.1 967.3 L2043.7 967.3 L2043.7 959.6 L2047 959.6 L2047 899.6 L2051.5 899.6 L2051.5 877 L2058.8 877Z" fill="#FFFFFF"/>
<g stroke="#000" stroke-linecap="round" fill="none">
<rect x="1334.7" y="238.2" width="731.4" height="729.1" stroke-width="4.4" stroke-linejoin="miter"/>
<line x1="1334.7" y1="238.2" x2="1334.7" y2="220.2" stroke-width="4.4"/>
<line x1="1334.7" y1="967.3" x2="1334.7" y2="986.3" stroke-width="4.4"/>
<line x1="1375.33" y1="238.2" x2="1375.33" y2="228.6" stroke-width="2.3"/>
<line x1="1375.33" y1="967.3" x2="1375.33" y2="977.6" stroke-width="2.3"/>
<line x1="1415.97" y1="238.2" x2="1415.97" y2="228.6" stroke-width="2.3"/>
<line x1="1415.97" y1="967.3" x2="1415.97" y2="977.6" stroke-width="2.3"/>
<line x1="1456.6" y1="238.2" x2="1456.6" y2="220.2" stroke-width="4.4"/>
<line x1="1456.6" y1="967.3" x2="1456.6" y2="986.3" stroke-width="4.4"/>
<line x1="1497.23" y1="238.2" x2="1497.23" y2="228.6" stroke-width="2.3"/>
<line x1="1497.23" y1="967.3" x2="1497.23" y2="977.6" stroke-width="2.3"/>
<line x1="1537.87" y1="238.2" x2="1537.87" y2="228.6" stroke-width="2.3"/>
<line x1="1537.87" y1="967.3" x2="1537.87" y2="977.6" stroke-width="2.3"/>
<line x1="1578.5" y1="238.2" x2="1578.5" y2="220.2" stroke-width="4.4"/>
<line x1="1578.5" y1="967.3" x2="1578.5" y2="986.3" stroke-width="4.4"/>
<line x1="1619.13" y1="238.2" x2="1619.13" y2="228.6" stroke-width="2.3"/>
<line x1="1619.13" y1="967.3" x2="1619.13" y2="977.6" stroke-width="2.3"/>
<line x1="1659.77" y1="238.2" x2="1659.77" y2="228.6" stroke-width="2.3"/>
<line x1="1659.77" y1="967.3" x2="1659.77" y2="977.6" stroke-width="2.3"/>
<line x1="1700.4" y1="238.2" x2="1700.4" y2="220.2" stroke-width="4.4"/>
<line x1="1700.4" y1="967.3" x2="1700.4" y2="986.3" stroke-width="4.4"/>
<line x1="1741.03" y1="238.2" x2="1741.03" y2="228.6" stroke-width="2.3"/>
<line x1="1741.03" y1="967.3" x2="1741.03" y2="977.6" stroke-width="2.3"/>
<line x1="1781.67" y1="238.2" x2="1781.67" y2="228.6" stroke-width="2.3"/>
<line x1="1781.67" y1="967.3" x2="1781.67" y2="977.6" stroke-width="2.3"/>
<line x1="1822.3" y1="238.2" x2="1822.3" y2="220.2" stroke-width="4.4"/>
<line x1="1822.3" y1="967.3" x2="1822.3" y2="986.3" stroke-width="4.4"/>
<line x1="1862.93" y1="238.2" x2="1862.93" y2="228.6" stroke-width="2.3"/>
<line x1="1862.93" y1="967.3" x2="1862.93" y2="977.6" stroke-width="2.3"/>
<line x1="1903.57" y1="238.2" x2="1903.57" y2="228.6" stroke-width="2.3"/>
<line x1="1903.57" y1="967.3" x2="1903.57" y2="977.6" stroke-width="2.3"/>
<line x1="1944.2" y1="238.2" x2="1944.2" y2="220.2" stroke-width="4.4"/>
<line x1="1944.2" y1="967.3" x2="1944.2" y2="986.3" stroke-width="4.4"/>
<line x1="1984.83" y1="238.2" x2="1984.83" y2="228.6" stroke-width="2.3"/>
<line x1="1984.83" y1="967.3" x2="1984.83" y2="977.6" stroke-width="2.3"/>
<line x1="2025.47" y1="238.2" x2="2025.47" y2="228.6" stroke-width="2.3"/>
<line x1="2025.47" y1="967.3" x2="2025.47" y2="977.6" stroke-width="2.3"/>
<line x1="2066.1" y1="238.2" x2="2066.1" y2="220.2" stroke-width="4.4"/>
<line x1="2066.1" y1="967.3" x2="2066.1" y2="986.3" stroke-width="4.4"/>
<line x1="1334.7" y1="238.2" x2="1316.4" y2="238.2" stroke-width="4.4"/>
<line x1="1334.7" y1="371.23" x2="1316.4" y2="371.23" stroke-width="4.4"/>
<line x1="1334.7" y1="465.62" x2="1316.4" y2="465.62" stroke-width="4.4"/>
<line x1="1334.7" y1="538.83" x2="1316.4" y2="538.83" stroke-width="4.4"/>
<line x1="1334.7" y1="598.65" x2="1316.4" y2="598.65" stroke-width="4.4"/>
<line x1="1334.7" y1="693.04" x2="1316.4" y2="693.04" stroke-width="4.4"/>
<line x1="1334.7" y1="766.26" x2="1316.4" y2="766.26" stroke-width="4.4"/>
<line x1="1334.7" y1="876.65" x2="1316.4" y2="876.65" stroke-width="4.4"/>
<line x1="1334.7" y1="940.36" x2="1316.4" y2="940.36" stroke-width="4.4"/>
<line x1="2066.1" y1="249.8" x2="2085.2" y2="249.8" stroke-width="4.4"/>
<line x1="2066.1" y1="455.5" x2="2085.2" y2="455.5" stroke-width="4.4"/>
<line x1="2066.1" y1="655.1" x2="2085.2" y2="655.1" stroke-width="4.4"/>
<line x1="2066.1" y1="835.1" x2="2085.2" y2="835.1" stroke-width="4.4"/>
</g>
<path d="M1247.5 233.31 C1249.99 232 1252.07 230.68 1253.1 228.8 L1253.1 247.6 M1270.76 228.8 C1274.2 228.8 1277 233.01 1277 238.2 C1277 243.39 1274.2 247.6 1270.76 247.6 C1267.31 247.6 1264.52 243.39 1264.52 238.2 C1264.52 233.01 1267.31 228.8 1270.76 228.8 M1289.46 228.8 C1292.91 228.8 1295.7 233.01 1295.7 238.2 C1295.7 243.39 1292.91 247.6 1289.46 247.6 C1286.01 247.6 1283.22 243.39 1283.22 238.2 C1283.22 233.01 1286.01 228.8 1289.46 228.8" stroke-width="2.4"/>
<path d="M1247.5 366.35 C1249.94 365.03 1251.97 363.71 1252.99 361.83 L1252.99 380.63 M1275.89 361.83 L1266.51 361.83 L1265.44 370.11 C1267.15 368.79 1268.85 368.41 1270.77 368.41 C1274.83 368.41 1277.39 371.05 1277.39 374.43 C1277.39 378.19 1274.4 380.63 1270.56 380.63 C1267.57 380.63 1265.23 379.32 1264.16 377.25 M1289.59 361.83 C1292.96 361.83 1295.7 366.04 1295.7 371.23 C1295.7 376.42 1292.96 380.63 1289.59 380.63 C1286.22 380.63 1283.48 376.42 1283.48 371.23 C1283.48 366.04 1286.22 361.83 1289.59 361.83" stroke-width="2.4"/>
<path d="M1246.72 461.11 C1246.72 457.91 1249.38 456.22 1252.45 456.22 C1255.73 456.22 1258.39 458.1 1258.39 461.3 C1258.39 464.31 1256.14 466 1253.27 468.07 L1245.9 475.02 L1258.8 475.02 M1271.09 456.22 C1274.49 456.22 1277.25 460.43 1277.25 465.62 C1277.25 470.81 1274.49 475.02 1271.09 475.02 C1267.69 475.02 1264.94 470.81 1264.94 465.62 C1264.94 460.43 1267.69 456.22 1271.09 456.22 M1289.54 456.22 C1292.94 456.22 1295.7 460.43 1295.7 465.62 C1295.7 470.81 1292.94 475.02 1289.54 475.02 C1286.14 475.02 1283.39 470.81 1283.39 465.62 C1283.39 460.43 1286.14 456.22 1289.54 456.22" stroke-width="2.4"/>
<path d="M1246.7 534.32 C1246.7 531.13 1249.31 529.43 1252.32 529.43 C1255.53 529.43 1258.14 531.31 1258.14 534.51 C1258.14 537.52 1255.93 539.21 1253.12 541.28 L1245.9 548.23 L1258.54 548.23 M1276.14 529.43 L1266.87 529.43 L1265.82 537.71 C1267.51 536.39 1269.19 536.01 1271.09 536.01 C1275.09 536.01 1277.62 538.65 1277.62 542.03 C1277.62 545.79 1274.67 548.23 1270.88 548.23 C1267.93 548.23 1265.61 546.92 1264.56 544.85 M1289.67 529.43 C1293 529.43 1295.7 533.64 1295.7 538.83 C1295.7 544.03 1293 548.23 1289.67 548.23 C1286.34 548.23 1283.64 544.03 1283.64 538.83 C1283.64 533.64 1286.34 529.43 1289.67 529.43" stroke-width="2.4"/>
<path d="M1246.93 589.25 L1257.41 589.25 L1251.45 596.77 C1255.97 596.77 1258.64 599.03 1258.64 602.41 C1258.64 605.8 1255.77 608.05 1252.07 608.05 C1249.19 608.05 1246.93 606.74 1245.9 604.67 M1270.99 589.25 C1274.4 589.25 1277.17 593.46 1277.17 598.65 C1277.17 603.85 1274.4 608.05 1270.99 608.05 C1267.58 608.05 1264.81 603.85 1264.81 598.65 C1264.81 593.46 1267.58 589.25 1270.99 589.25 M1289.52 589.25 C1292.93 589.25 1295.7 593.46 1295.7 598.65 C1295.7 603.85 1292.93 608.05 1289.52 608.05 C1286.11 608.05 1283.34 603.85 1283.34 598.65 C1283.34 593.46 1286.11 589.25 1289.52 589.25" stroke-width="2.4"/>
<path d="M1255.48 702.44 L1255.48 683.64 L1245.9 696.62 L1258.95 696.62 M1271.19 683.64 C1274.58 683.64 1277.32 687.85 1277.32 693.04 C1277.32 698.23 1274.58 702.44 1271.19 702.44 C1267.81 702.44 1265.06 698.23 1265.06 693.04 C1265.06 687.85 1267.81 683.64 1271.19 683.64 M1289.57 683.64 C1292.96 683.64 1295.7 687.85 1295.7 693.04 C1295.7 698.23 1292.96 702.44 1289.57 702.44 C1286.18 702.44 1283.44 698.23 1283.44 693.04 C1283.44 687.85 1286.18 683.64 1289.57 683.64" stroke-width="2.4"/>
<path d="M1257.62 756.86 L1248.24 756.86 L1247.18 765.13 C1248.88 763.81 1250.59 763.44 1252.51 763.44 C1256.55 763.44 1259.11 766.07 1259.11 769.45 C1259.11 773.21 1256.13 775.66 1252.29 775.66 C1249.31 775.66 1246.97 774.34 1245.9 772.27 M1271.3 756.86 C1274.67 756.86 1277.41 761.06 1277.41 766.26 C1277.41 771.45 1274.67 775.66 1271.3 775.66 C1267.93 775.66 1265.2 771.45 1265.2 766.26 C1265.2 761.06 1267.93 756.86 1271.3 756.86 M1289.6 756.86 C1292.97 756.86 1295.7 761.06 1295.7 766.26 C1295.7 771.45 1292.97 775.66 1289.6 775.66 C1286.23 775.66 1283.49 771.45 1283.49 766.26 C1283.49 761.06 1286.23 756.86 1289.6 756.86" stroke-width="2.4"/>
<path d="M1245.9 867.25 L1258.8 867.25 L1249.99 886.05 M1271.09 867.25 C1274.49 867.25 1277.25 871.46 1277.25 876.65 C1277.25 881.84 1274.49 886.05 1271.09 886.05 C1267.69 886.05 1264.94 881.84 1264.94 876.65 C1264.94 871.46 1267.69 867.25 1271.09 867.25 M1289.54 867.25 C1292.94 867.25 1295.7 871.46 1295.7 876.65 C1295.7 881.84 1292.94 886.05 1289.54 886.05 C1286.14 886.05 1283.39 881.84 1283.39 876.65 C1283.39 871.46 1286.14 867.25 1289.54 867.25" stroke-width="2.4"/>
<path d="M1252.22 930.96 C1254.99 930.96 1257.23 932.93 1257.23 935.37 C1257.23 937.81 1254.99 939.79 1252.22 939.79 C1249.45 939.79 1247.2 937.81 1247.2 935.37 C1247.2 932.93 1249.45 930.96 1252.22 930.96 M1252.22 939.79 C1255.71 939.79 1258.54 942.02 1258.54 944.77 C1258.54 947.53 1255.71 949.76 1252.22 949.76 C1248.73 949.76 1245.9 947.53 1245.9 944.77 C1245.9 942.02 1248.73 939.79 1252.22 939.79 M1276.14 930.96 L1266.87 930.96 L1265.82 939.23 C1267.51 937.91 1269.19 937.54 1271.09 937.54 C1275.09 937.54 1277.62 940.17 1277.62 943.55 C1277.62 947.31 1274.67 949.76 1270.88 949.76 C1267.93 949.76 1265.61 948.44 1264.56 946.37 M1289.67 930.96 C1293 930.96 1295.7 935.16 1295.7 940.36 C1295.7 945.55 1293 949.76 1289.67 949.76 C1286.34 949.76 1283.64 945.55 1283.64 940.36 C1283.64 935.16 1286.34 930.96 1289.67 930.96" stroke-width="2.4"/>
<path d="M2104.8 244.91 C2107.39 243.6 2109.54 242.28 2110.62 240.4 L2110.62 259.2 M2132.78 242.84 C2131.84 241.34 2130.15 240.4 2128.28 240.4 C2124.34 240.4 2122.47 244.91 2122.47 250.74 C2122.47 256.38 2124.72 259.2 2128.28 259.2 C2131.65 259.2 2133.9 256.57 2133.9 253.18 C2133.9 249.8 2131.65 247.54 2128.46 247.54 C2125.28 247.54 2123.03 249.61 2122.47 252.06" stroke-width="2.4"/>
<path d="M2104.8 450.61 C2107.21 449.3 2109.22 447.98 2110.22 446.1 L2110.22 464.9 M2122.06 450.99 C2122.06 447.79 2124.67 446.1 2127.68 446.1 C2130.89 446.1 2133.5 447.98 2133.5 451.18 C2133.5 454.18 2131.29 455.88 2128.48 457.94 L2121.26 464.9 L2133.9 464.9" stroke-width="2.4"/>
<path d="M2111.5 645.7 C2114.44 645.7 2116.82 647.68 2116.82 650.12 C2116.82 652.56 2114.44 654.54 2111.5 654.54 C2108.56 654.54 2106.18 652.56 2106.18 650.12 C2106.18 647.68 2108.56 645.7 2111.5 645.7 M2111.5 654.54 C2115.2 654.54 2118.2 656.77 2118.2 659.52 C2118.2 662.27 2115.2 664.5 2111.5 664.5 C2107.8 664.5 2104.8 662.27 2104.8 659.52 C2104.8 656.77 2107.8 654.54 2111.5 654.54" stroke-width="2.4"/>
<path d="M2115.52 844.5 L2115.52 825.7 L2104.8 838.67 L2119.4 838.67" stroke-width="2.4"/>
<path d="M1310.08 1023.68 C1311.06 1025.17 1312.82 1026.1 1314.78 1026.1 C1318.89 1026.1 1320.85 1021.64 1320.85 1015.87 C1320.85 1010.29 1318.5 1007.5 1314.78 1007.5 C1311.25 1007.5 1308.9 1010.1 1308.9 1013.45 C1308.9 1016.8 1311.25 1019.03 1314.58 1019.03 C1317.91 1019.03 1320.27 1016.99 1320.85 1014.57 M1333.65 1007.5 C1337.19 1007.5 1340.05 1011.66 1340.05 1016.8 C1340.05 1021.94 1337.19 1026.1 1333.65 1026.1 C1330.11 1026.1 1327.24 1021.94 1327.24 1016.8 C1327.24 1011.66 1330.11 1007.5 1333.65 1007.5 M1346.44 1026.1 L1346.44 1007.5 L1360.5 1026.1 L1360.5 1007.5" stroke-width="2.4"/>
<path d="M1441.12 1009.92 C1440.18 1008.43 1438.49 1007.5 1436.62 1007.5 C1432.68 1007.5 1430.8 1011.96 1430.8 1017.73 C1430.8 1023.31 1433.05 1026.1 1436.62 1026.1 C1440 1026.1 1442.25 1023.5 1442.25 1020.15 C1442.25 1016.8 1440 1014.57 1436.81 1014.57 C1433.62 1014.57 1431.36 1016.61 1430.8 1019.03 M1455.21 1007.5 C1458.79 1007.5 1461.69 1011.66 1461.69 1016.8 C1461.69 1021.94 1458.79 1026.1 1455.21 1026.1 C1451.62 1026.1 1448.72 1021.94 1448.72 1016.8 C1448.72 1011.66 1451.62 1007.5 1455.21 1007.5 M1468.16 1026.1 L1468.16 1007.5 L1482.4 1026.1 L1482.4 1007.5" stroke-width="2.4"/>
<path d="M1553.74 1007.5 L1564.35 1007.5 L1558.31 1014.94 C1562.89 1014.94 1565.59 1017.17 1565.59 1020.52 C1565.59 1023.87 1562.68 1026.1 1558.94 1026.1 C1556.03 1026.1 1553.74 1024.8 1552.7 1022.75 M1578.08 1007.5 C1581.54 1007.5 1584.34 1011.66 1584.34 1016.8 C1584.34 1021.94 1581.54 1026.1 1578.08 1026.1 C1574.63 1026.1 1571.83 1021.94 1571.83 1016.8 C1571.83 1011.66 1574.63 1007.5 1578.08 1007.5 M1590.58 1026.1 L1590.58 1007.5 L1604.3 1026.1 L1604.3 1007.5" stroke-width="2.4"/>
<path d="M1700.4 1007.5 C1704.21 1007.5 1707.3 1011.66 1707.3 1016.8 C1707.3 1021.94 1704.21 1026.1 1700.4 1026.1 C1696.59 1026.1 1693.5 1021.94 1693.5 1016.8 C1693.5 1011.66 1696.59 1007.5 1700.4 1007.5" stroke-width="2.4"/>
<path d="M1798.21 1007.5 L1808.48 1007.5 L1802.64 1014.94 C1807.07 1014.94 1809.69 1017.17 1809.69 1020.52 C1809.69 1023.87 1806.87 1026.1 1803.24 1026.1 C1800.42 1026.1 1798.21 1024.8 1797.2 1022.75 M1821.8 1007.5 C1825.14 1007.5 1827.86 1011.66 1827.86 1016.8 C1827.86 1021.94 1825.14 1026.1 1821.8 1026.1 C1818.45 1026.1 1815.74 1021.94 1815.74 1016.8 C1815.74 1011.66 1818.45 1007.5 1821.8 1007.5 M1846.59 1010.29 C1845.39 1008.43 1843.37 1007.5 1840.75 1007.5 C1837.12 1007.5 1834.71 1009.36 1834.71 1012.15 C1834.71 1015.31 1837.73 1016.24 1841.15 1016.99 C1845.18 1017.92 1847.4 1019.03 1847.4 1021.82 C1847.4 1024.43 1844.58 1026.1 1840.95 1026.1 C1837.73 1026.1 1835.11 1024.8 1833.9 1022.38" stroke-width="2.4"/>
<path d="M1929.1 1009.92 C1928.19 1008.43 1926.55 1007.5 1924.74 1007.5 C1920.92 1007.5 1919.1 1011.96 1919.1 1017.73 C1919.1 1023.31 1921.28 1026.1 1924.74 1026.1 C1928.01 1026.1 1930.19 1023.5 1930.19 1020.15 C1930.19 1016.8 1928.01 1014.57 1924.92 1014.57 C1921.83 1014.57 1919.65 1016.61 1919.1 1019.03 M1942.74 1007.5 C1946.22 1007.5 1949.03 1011.66 1949.03 1016.8 C1949.03 1021.94 1946.22 1026.1 1942.74 1026.1 C1939.27 1026.1 1936.46 1021.94 1936.46 1016.8 C1936.46 1011.66 1939.27 1007.5 1942.74 1007.5 M1968.46 1010.29 C1967.21 1008.43 1965.12 1007.5 1962.4 1007.5 C1958.64 1007.5 1956.13 1009.36 1956.13 1012.15 C1956.13 1015.31 1959.27 1016.24 1962.82 1016.99 C1967 1017.92 1969.3 1019.03 1969.3 1021.82 C1969.3 1024.43 1966.37 1026.1 1962.61 1026.1 C1959.27 1026.1 1956.55 1024.8 1955.3 1022.38" stroke-width="2.4"/>
<path d="M2042.14 1023.68 C2043.09 1025.17 2044.8 1026.1 2046.7 1026.1 C2050.68 1026.1 2052.58 1021.64 2052.58 1015.87 C2052.58 1010.29 2050.3 1007.5 2046.7 1007.5 C2043.28 1007.5 2041 1010.1 2041 1013.45 C2041 1016.8 2043.28 1019.03 2046.51 1019.03 C2049.73 1019.03 2052.01 1016.99 2052.58 1014.57 M2064.98 1007.5 C2068.4 1007.5 2071.18 1011.66 2071.18 1016.8 C2071.18 1021.94 2068.4 1026.1 2064.98 1026.1 C2061.55 1026.1 2058.77 1021.94 2058.77 1016.8 C2058.77 1011.66 2061.55 1007.5 2064.98 1007.5 M2090.37 1010.29 C2089.14 1008.43 2087.07 1007.5 2084.39 1007.5 C2080.68 1007.5 2078.2 1009.36 2078.2 1012.15 C2078.2 1015.31 2081.29 1016.24 2084.8 1016.99 C2088.93 1017.92 2091.2 1019.03 2091.2 1021.82 C2091.2 1024.43 2088.31 1026.1 2084.6 1026.1 C2081.29 1026.1 2078.61 1024.8 2077.37 1022.38" stroke-width="2.4"/>
<path d="M1212.7 763.1 L1183.3 763.1 L1183.3 750.74 C1183.3 745.74 1186.53 743.09 1191.24 743.09 C1195.94 743.09 1199.18 745.74 1199.18 750.74 L1199.18 763.1 M1191.53 733.06 L1212.7 733.06 M1198 733.06 C1193.88 731.72 1191.53 728.72 1191.53 724.7 L1191.53 723.03 M1202.12 715 L1202.12 697.78 C1195.65 697.78 1191.53 701.22 1191.53 706.39 C1191.53 711.55 1195.65 715.34 1202.12 715.34 C1208.58 715.34 1212.7 711.55 1212.7 706.04 C1212.7 702.6 1211.52 699.84 1209.17 698.12 M1194.47 673.91 C1192.41 675.11 1191.53 677.22 1191.53 680.22 C1191.53 684.14 1193.3 686.85 1196.82 686.85 C1200.06 686.85 1201.23 684.14 1202.12 679.92 C1203 675.41 1204.47 673 1207.41 673 C1210.94 673 1212.7 676.01 1212.7 680.22 C1212.7 683.84 1211.23 686.54 1208.88 687.75 M1194.47 649.13 C1192.41 650.33 1191.53 652.44 1191.53 655.45 C1191.53 659.36 1193.3 662.07 1196.82 662.07 C1200.06 662.07 1201.23 659.36 1202.12 655.15 C1203 650.64 1204.47 648.23 1207.41 648.23 C1210.94 648.23 1212.7 651.24 1212.7 655.45 C1212.7 659.06 1211.23 661.77 1208.88 662.97 M1191.53 638.2 L1205.06 638.2 C1210.05 638.2 1212.7 635.19 1212.7 630.17 C1212.7 626.16 1210.94 623.15 1208 621.81 M1191.53 621.81 L1212.7 621.81 M1191.53 611.78 L1212.7 611.78 M1198 611.78 C1193.88 610.45 1191.53 607.44 1191.53 603.43 L1191.53 601.75 M1202.12 593.72 L1202.12 576.5 C1195.65 576.5 1191.53 579.94 1191.53 585.11 C1191.53 590.28 1195.65 594.06 1202.12 594.06 C1208.58 594.06 1212.7 590.28 1212.7 584.77 C1212.7 581.32 1211.52 578.57 1209.17 576.84" stroke-width="2.4"/>
<path d="M1180.95 533.73 C1187.12 539.32 1194.18 542.3 1201.53 542.3 C1208.88 542.3 1215.93 539.32 1222.11 533.73 M1191.53 526.28 L1212.7 526.28 M1196.24 526.28 C1193.3 524.42 1191.53 521.44 1191.53 516.97 C1191.53 511.01 1194.18 508.02 1199.18 508.02 L1212.7 508.02 M1196.24 508.02 C1193.3 506.16 1191.53 503.18 1191.53 498.71 C1191.53 492.75 1194.18 489.77 1199.18 489.77 L1212.7 489.77 M1183.3 478.59 L1212.7 478.59 M1196.82 478.59 C1193.3 477.1 1191.53 474.12 1191.53 469.65 C1191.53 463.32 1195.65 459.22 1202.12 459.22 C1208.58 459.22 1212.7 463.32 1212.7 469.65 C1212.7 474.12 1210.94 477.1 1207.41 478.59 M1180.95 451.77 C1187.12 446.18 1194.18 443.2 1201.53 443.2 C1208.88 443.2 1215.93 446.18 1222.11 451.77" stroke-width="2.4"/>
<path d="M2161.9 734.1 L2192.2 734.1 M2161.9 711.9 L2192.2 711.9 M2176.44 734.1 L2176.44 711.9 M2181.29 701.46 L2181.29 684.14 C2174.63 684.14 2170.38 687.61 2170.38 692.8 C2170.38 698 2174.63 701.81 2181.29 701.81 C2187.96 701.81 2192.2 698 2192.2 692.46 C2192.2 688.99 2190.99 686.22 2188.56 684.49 M2170.38 672.71 L2192.2 672.71 M2161.9 672.71 C2161.9 671.96 2162.44 671.36 2163.11 671.36 C2163.78 671.36 2164.32 671.96 2164.32 672.71 C2164.32 673.45 2163.78 674.05 2163.11 674.05 C2162.44 674.05 2161.9 673.45 2161.9 672.71 M2170.38 643.78 L2194.02 643.78 C2198.87 643.78 2201.29 646.81 2201.29 652.19 C2201.29 655.55 2200.08 658.24 2198.26 659.59 M2175.53 643.78 C2172.2 645.13 2170.38 647.82 2170.38 651.85 C2170.38 657.57 2174.32 661.27 2180.38 661.27 C2186.44 661.27 2190.38 657.57 2190.38 651.85 C2190.38 647.82 2188.56 645.13 2185.23 643.78 M2161.9 633.69 L2192.2 633.69 M2175.23 633.69 C2172.2 632.01 2170.38 628.98 2170.38 624.95 C2170.38 619.9 2173.11 617.21 2178.26 617.21 L2192.2 617.21 M2162.51 604.09 L2187.96 604.09 C2190.99 604.09 2192.2 602.83 2192.2 600.56 L2192.2 599.3 M2170.38 607.12 L2170.38 599.3" stroke-width="2.4"/>
<path d="M2159.48 558.61 C2165.84 564.02 2173.11 566.9 2180.69 566.9 C2188.26 566.9 2195.53 564.02 2201.9 558.61 M2161.9 551.39 L2192.2 551.39 M2170.38 534.81 L2183.72 551.39 M2178.57 545.26 L2192.2 533.36 M2170.38 522.55 L2192.2 522.55 M2175.23 522.55 C2172.2 520.74 2170.38 517.86 2170.38 513.53 C2170.38 507.76 2173.11 504.88 2178.26 504.88 L2192.2 504.88 M2175.23 504.88 C2172.2 503.07 2170.38 500.19 2170.38 495.86 C2170.38 490.09 2173.11 487.21 2178.26 487.21 L2192.2 487.21 M2159.48 479.99 C2165.84 474.58 2173.11 471.7 2180.69 471.7 C2188.26 471.7 2195.53 474.58 2201.9 479.99" stroke-width="2.4"/>
<path d="M1334.6 204.7 L1344.59 177.1 L1354.57 204.7 M1338.21 194.76 L1350.97 194.76 M1362.9 184.83 L1370.11 204.7 L1377.32 184.83 M1400.07 184.83 L1400.07 206.36 C1400.07 210.77 1397.57 212.98 1393.14 212.98 C1390.36 212.98 1388.14 211.88 1387.03 210.22 M1400.07 189.52 C1398.96 186.48 1396.74 184.83 1393.41 184.83 C1388.7 184.83 1385.65 188.42 1385.65 193.94 C1385.65 199.46 1388.7 203.04 1393.41 203.04 C1396.74 203.04 1398.96 201.39 1400.07 198.35 M1410.89 202.77 C1411.5 202.77 1412 203.26 1412 203.87 C1412 204.48 1411.5 204.98 1410.89 204.98 C1410.28 204.98 1409.78 204.48 1409.78 203.87 C1409.78 203.26 1410.28 202.77 1410.89 202.77" stroke-width="2.4"/>
<path d="M1464.99 183.17 C1463.18 179.31 1459.57 177.1 1455.05 177.1 C1448.12 177.1 1443.3 182.62 1443.3 190.9 C1443.3 199.18 1448.12 204.7 1455.05 204.7 C1459.57 204.7 1463.18 202.49 1464.99 198.63 M1474.03 177.1 L1474.03 204.7 M1492.08 184.83 C1497.06 184.83 1501.1 189.28 1501.1 194.76 C1501.1 200.25 1497.06 204.7 1492.08 204.7 C1487.1 204.7 1483.06 200.25 1483.06 194.76 C1483.06 189.28 1487.1 184.83 1492.08 184.83 M1510.14 184.83 L1510.14 197.52 C1510.14 202.22 1512.85 204.7 1517.37 204.7 C1520.98 204.7 1523.69 203.04 1524.9 200.28 M1524.9 184.83 L1524.9 204.7 M1549.6 177.1 L1549.6 204.7 M1549.6 189.8 C1548.4 186.48 1545.99 184.83 1542.39 184.83 C1537.38 184.83 1533.94 188.69 1533.94 194.76 C1533.94 200.84 1537.38 204.7 1542.39 204.7 C1545.99 204.7 1548.4 203.04 1549.6 199.73" stroke-width="2.4"/>
<path d="M1578.4 177.1 L1578.4 204.7 M1604.42 188.42 C1602.76 185.93 1600.1 184.83 1596.78 184.83 C1591.46 184.83 1587.81 188.69 1587.81 194.76 C1587.81 200.84 1591.46 204.7 1596.78 204.7 C1600.1 204.7 1602.76 203.6 1604.42 201.11 M1614.15 194.76 L1630.3 194.76 C1630.3 188.69 1627.07 184.83 1622.23 184.83 C1617.38 184.83 1613.83 188.69 1613.83 194.76 C1613.83 200.84 1617.38 204.7 1622.55 204.7 C1625.78 204.7 1628.36 203.6 1629.98 201.39" stroke-width="2.4"/>
<path d="M1669.24 172.41 L1663.1 212.98 M1676.93 172.41 L1670.78 212.98 M1660.94 185.38 L1680 185.38 M1659.1 198.63 L1678.16 198.63" stroke-width="2.4"/>
<path d="M1729.83 183.17 C1728.08 179.31 1724.57 177.1 1720.19 177.1 C1713.47 177.1 1708.8 182.62 1708.8 190.9 C1708.8 199.18 1713.47 204.7 1720.19 204.7 C1724.57 204.7 1728.08 202.49 1729.83 198.63 M1747.34 184.83 C1752.17 184.83 1756.08 189.28 1756.08 194.76 C1756.08 200.25 1752.17 204.7 1747.34 204.7 C1742.51 204.7 1738.59 200.25 1738.59 194.76 C1738.59 189.28 1742.51 184.83 1747.34 184.83 M1764.85 184.83 L1764.85 204.7 M1764.85 189.24 C1766.22 186.48 1768.69 184.83 1771.98 184.83 C1776.1 184.83 1778.3 187.31 1778.3 192 L1778.3 204.7 M1802.54 188.42 C1800.99 185.93 1798.52 184.83 1795.42 184.83 C1790.47 184.83 1787.06 188.69 1787.06 194.76 C1787.06 200.84 1790.47 204.7 1795.42 204.7 C1798.52 204.7 1800.99 203.6 1802.54 201.11 M1813.93 202.77 C1814.58 202.77 1815.1 203.26 1815.1 203.87 C1815.1 204.48 1814.58 204.98 1813.93 204.98 C1813.29 204.98 1812.76 204.48 1812.76 203.87 C1812.76 203.26 1813.29 202.77 1813.93 202.77" stroke-width="2.4"/>
<path d="M1856.54 197.82 C1854.89 195.33 1852.26 194.23 1848.98 194.23 C1843.72 194.23 1840.1 198.09 1840.1 204.16 C1840.1 210.24 1843.72 214.1 1848.98 214.1 C1852.26 214.1 1854.89 213 1856.54 210.51 M1865.84 194.23 L1865.84 214.1 M1865.84 198.64 C1867.39 195.88 1869.88 194.23 1873.6 194.23 C1878.56 194.23 1881.04 196.71 1881.04 201.4 L1881.04 214.1 M1881.04 198.64 C1882.59 195.88 1885.07 194.23 1888.8 194.23 C1893.76 194.23 1896.24 196.71 1896.24 201.4 L1896.24 214.1 M1906.79 193.95 C1907.47 193.95 1908.03 194.45 1908.03 195.06 C1908.03 195.67 1907.47 196.16 1906.79 196.16 C1906.1 196.16 1905.54 195.67 1905.54 195.06 C1905.54 194.45 1906.1 193.95 1906.79 193.95 M1906.79 212.17 C1907.47 212.17 1908.03 212.66 1908.03 213.27 C1908.03 213.88 1907.47 214.38 1906.79 214.38 C1906.1 214.38 1905.54 213.88 1905.54 213.27 C1905.54 212.66 1906.1 212.17 1906.79 212.17 M1936.87 190.64 C1935.01 187.88 1931.91 186.5 1927.88 186.5 C1922.29 186.5 1918.57 189.26 1918.57 193.4 C1918.57 198.09 1923.22 199.47 1928.5 200.58 C1934.7 201.96 1938.11 203.61 1938.11 207.75 C1938.11 211.62 1933.77 214.1 1928.19 214.1 C1923.22 214.1 1919.19 212.17 1917.33 208.58 M1948.66 193.95 C1949.34 193.95 1949.9 194.45 1949.9 195.06 C1949.9 195.67 1949.34 196.16 1948.66 196.16 C1947.97 196.16 1947.42 195.67 1947.42 195.06 C1947.42 194.45 1947.97 193.95 1948.66 193.95 M1948.66 212.17 C1949.34 212.17 1949.9 212.66 1949.9 213.27 C1949.9 213.88 1949.34 214.38 1948.66 214.38 C1947.97 214.38 1947.42 213.88 1947.42 213.27 C1947.42 212.66 1947.97 212.17 1948.66 212.17 M1959.2 201.68 L1984.02 201.68 M1994.87 186.5 L2010.69 186.5 L2001.7 197.54 C2008.52 197.54 2012.55 200.85 2012.55 205.82 C2012.55 210.79 2008.21 214.1 2002.63 214.1 C1998.28 214.1 1994.87 212.17 1993.32 209.13 M2023.1 193.95 C2023.78 193.95 2024.34 194.45 2024.34 195.06 C2024.34 195.67 2023.78 196.16 2023.1 196.16 C2022.41 196.16 2021.86 195.67 2021.86 195.06 C2021.86 194.45 2022.41 193.95 2023.1 193.95 M2023.1 212.17 C2023.78 212.17 2024.34 212.66 2024.34 213.27 C2024.34 213.88 2023.78 214.38 2023.1 214.38 C2022.41 214.38 2021.86 213.88 2021.86 213.27 C2021.86 212.66 2022.41 212.17 2023.1 212.17 M2033.64 214.1 L2033.64 186.5 L2054.11 214.1 L2054.11 186.5 M2064.66 193.95 C2065.34 193.95 2065.9 194.45 2065.9 195.06 C2065.9 195.67 2065.34 196.16 2064.66 196.16 C2063.97 196.16 2063.42 195.67 2063.42 195.06 C2063.42 194.45 2063.97 193.95 2064.66 193.95 M2064.66 212.17 C2065.34 212.17 2065.9 212.66 2065.9 213.27 C2065.9 213.88 2065.34 214.38 2064.66 214.38 C2063.97 214.38 2063.42 213.88 2063.42 213.27 C2063.42 212.66 2063.97 212.17 2064.66 212.17" stroke-width="2.4"/>
<rect x="766.9" y="1403.8" width="731.4" height="729.1" fill="#D6E8FF"/>
<path d="M858.8 1631.1 L886.4 1631.1 L883.5 1662.7 L881.5 1684.5 L877.5 1694.3 L873.6 1698.3 L869.6 1696.3 L865.7 1688.4 L862.7 1660.7 L859.5 1690 L858.8 1690Z" fill="#FFEBDB"/>
<path d="M766.9 1704.2 C766.9 1704.2 798.5 1704.2 798.5 1704.2 C798.5 1704.2 800.35 1709.8 801.5 1714.1 C802.65 1718.4 805.4 1730 805.4 1730 C805.4 1730 809.4 1704.2 809.4 1704.2 C809.4 1704.2 817.3 1704.2 817.3 1704.2 C817.3 1704.2 819.05 1737.78 820.2 1745.7 C821.35 1753.62 824.2 1751.7 824.2 1751.7 C824.2 1751.7 826.78 1741.43 828.1 1738.8 C829.42 1736.17 830.95 1740.02 832.1 1735.9 C833.25 1731.78 835 1714.1 835 1714.1 C835 1714.1 836.17 1745.32 837 1755.6 C837.83 1765.88 839 1766.17 840 1775.8 C841 1785.43 841.18 1802.87 843 1813.4 C844.82 1823.93 848.27 1828.13 850.9 1839 C853.53 1849.87 857 1868.72 858.8 1878.6 C860.6 1888.48 861.7 1889.08 861.7 1898.3 C861.7 1907.52 860.28 1920.72 858.8 1933.9 C857.32 1947.08 854.62 1965.87 852.8 1977.4 C850.98 1988.93 850.03 1997.67 847.9 2003.1 C845.77 2008.53 842.63 2005.72 840 2010 C837.37 2014.28 834.57 2020.4 832.1 2028.8 C829.63 2037.2 826.95 2050.85 825.2 2060.4 C823.45 2069.95 821.93 2076.88 821.6 2086.1 C821.27 2095.32 821.78 2109.77 823.2 2115.7 C824.62 2121.63 827.47 2122.02 830.1 2121.7 C832.73 2121.38 836.7 2117.1 839 2113.8 C841.3 2110.5 842.42 2106.85 843.9 2101.9 C845.38 2096.95 846.42 2087.72 847.9 2084.1 C849.38 2080.48 850.98 2081.68 852.8 2080.2 C854.62 2078.72 856.82 2075.2 858.8 2075.2 C860.78 2075.2 862.73 2079.53 864.7 2080.2 C866.67 2080.87 868.47 2078.22 870.6 2079.2 C872.73 2080.18 875.68 2083.3 877.5 2086.1 C879.32 2088.9 879.52 2093.03 881.5 2096 C883.48 2098.97 889.4 2103.9 889.4 2103.9 C889.4 2103.9 893.83 2098.8 896.3 2096 C898.77 2093.2 901.57 2088.27 904.2 2087.1 C906.83 2085.93 910.12 2087.68 912.1 2089 C914.08 2090.32 914.45 2093.5 916.1 2095 C917.75 2096.5 919.87 2096.2 922 2098 C924.13 2099.8 927.58 2102.85 928.9 2105.8 C930.22 2108.75 929.88 2111.18 929.9 2115.7 C929.92 2120.22 929 2132.9 929 2132.9 C929 2132.9 766.9 2132.9 766.9 2132.9 C766.9 2132.9 766.9 1704.2 766.9 1704.2 Z" fill="#FFEBDB"/>
<path d="M766.9 1704.2 L770.2 1704.2 L770.6 1745 L766.9 1760Z" fill="#D6E8FF"/>
<path d="M1037 2043 C1037 2043 1038.6 2026.8 1038.6 2026.8 C1038.6 2026.8 1040.5 2043 1040.5 2043 C1040.5 2043 1037 2043 1037 2043 Z" fill="#B3CCFF"/>
<path d="M989.2 2132.9 L993.2 2115.7 L1001.1 2101.9 L1004 2096 L1007 2080.2 L1011.9 2066.3 L1018.8 2044.6 L1023.8 2042.6 L1030 2042.6 L1030 2132.9Z" fill="#FFEBDB"/>
<path d="M1147.7 1403.8 L1158.6 1403.8 L1153.7 1434.5 L1149.3 1427.5Z" fill="#FFEBDB"/>
<path d="M1276.2 1536.8 L1295.6 1536.8 L1292 1595.5 L1288 1594.5 L1284.1 1597.5 L1279.8 1593.6 L1278.2 1567.9Z" fill="#FFEBDB"/>
<path d="M1329.6 1631.1 L1379.8 1631.1 L1379.8 1688.4 L1376 1690.4 L1368.1 1668.7 L1361.2 1686.4 L1356.2 1678.5 L1353.3 1644.9 L1349.3 1647.9 L1341.4 1637 L1337.5 1640 L1331.5 1634.1Z" fill="#FFEBDB"/>
<path d="M1407.6 1704.2 C1407.6 1704.2 1471.5 1704.2 1471.5 1704.2 C1471.5 1704.2 1471.5 1764.5 1471.5 1764.5 C1471.5 1764.5 1498.3 1764.5 1498.3 1764.5 C1498.3 1764.5 1498.3 2132.9 1498.3 2132.9 C1498.3 2132.9 1379 2132.9 1379 2132.9 C1379 2132.9 1379 2129.6 1379 2129.6 C1379 2129.6 1381.12 2123.02 1384.9 2121.7 C1388.68 2120.38 1398.08 2121.05 1401.7 2121.7 C1405.32 2122.35 1406.6 2125.6 1406.6 2125.6 C1406.6 2125.6 1408.42 2114.05 1407.6 2107.8 C1406.78 2101.55 1403.35 2095.35 1401.7 2088.1 C1400.05 2080.85 1398.52 2072.22 1397.7 2064.3 C1396.88 2056.38 1398.28 2051.47 1396.8 2040.6 C1395.32 2029.73 1392.1 2011.62 1388.8 1999.1 C1385.5 1986.58 1381.93 1975.05 1377 1965.5 C1372.07 1955.95 1365.13 1947.72 1359.2 1941.8 C1353.27 1935.88 1347.33 1937.57 1341.4 1930 C1335.47 1922.43 1327.38 1908.27 1323.6 1896.4 C1319.82 1884.53 1318.7 1871 1318.7 1858.8 C1318.7 1846.6 1321.13 1833.9 1323.6 1823.2 C1326.07 1812.5 1329.87 1801.52 1333.5 1794.6 C1337.13 1787.68 1341.78 1783.52 1345.4 1781.7 C1349.02 1779.88 1352.73 1781.72 1355.2 1783.7 C1357.67 1785.68 1358.38 1788.33 1360.2 1793.6 C1362.02 1798.87 1363.3 1810.2 1366.1 1815.3 C1368.9 1820.4 1374.03 1822.05 1377 1824.2 C1379.97 1826.35 1381.1 1828.2 1383.9 1828.2 C1386.7 1828.2 1390.33 1825.52 1393.8 1824.2 C1397.27 1822.88 1402.23 1821.62 1404.7 1820.3 C1407.17 1818.98 1406.97 1820.1 1408.6 1816.3 C1410.23 1812.5 1412.52 1803.92 1414.5 1797.5 C1416.48 1791.08 1418.68 1783.22 1420.5 1777.8 C1422.32 1772.38 1425.4 1765 1425.4 1765 C1425.4 1765 1429.4 1765.5 1429.4 1765.5 C1429.4 1765.5 1424.38 1749.38 1422.4 1741.8 C1420.42 1734.22 1417.5 1720 1417.5 1720 C1417.5 1720 1414.5 1724 1414.5 1724 C1414.5 1724 1411.6 1716.1 1411.6 1716.1 C1411.6 1716.1 1407.6 1704.2 1407.6 1704.2 Z" fill="#FFEBDB"/>
<path d="M1428.4 2100 C1428.4 2100 1433.3 2115.7 1433.3 2115.7 C1433.3 2115.7 1429 2116 1429 2116 C1429 2116 1428.4 2100 1428.4 2100 Z" fill="#D6E8FF"/>
<path d="M1264.3 2042.6 C1264.63 2039.32 1266.82 2040 1268.3 2036.7 C1269.78 2033.4 1271.22 2026.75 1273.2 2022.8 C1275.18 2018.85 1278.05 2014.32 1280.2 2013 C1282.35 2011.68 1284.13 2014.9 1286.1 2014.9 C1288.07 2014.9 1289.7 2013 1292 2013 C1294.3 2013 1297.75 2013.27 1299.9 2014.9 C1302.05 2016.53 1303.08 2018.83 1304.9 2022.8 C1306.72 2026.77 1309 2032.43 1310.8 2038.7 C1312.6 2044.97 1314.38 2055.47 1315.7 2060.4 C1317.02 2065.33 1317.22 2061.72 1318.7 2068.3 C1320.18 2074.88 1322.78 2093.65 1324.6 2099.9 C1326.42 2106.15 1328.28 2102.5 1329.6 2105.8 C1330.92 2109.1 1331.35 2116.4 1332.5 2119.7 C1333.65 2123 1336 2123.4 1336.5 2125.6 C1337 2127.8 1335.5 2132.9 1335.5 2132.9 C1335.5 2132.9 1315.7 2132.9 1315.7 2132.9 C1315.7 2132.9 1314.08 2130.47 1310.8 2127.6 C1307.52 2124.73 1299.63 2119.33 1296 2115.7 C1292.37 2112.07 1289 2105.8 1289 2105.8 C1289 2105.8 1284.1 2111.7 1284.1 2111.7 C1284.1 2111.7 1282.18 2101.92 1280.2 2096 C1278.22 2090.08 1274.52 2082.8 1272.2 2076.2 C1269.88 2069.6 1267.62 2062 1266.3 2056.4 C1264.98 2050.8 1263.97 2045.88 1264.3 2042.6 Z" fill="#FFEBDB"/>
<path d="M1170.5 2018.5 L1172.4 2007 L1175.4 2018.5 L1182.3 2018.5 L1184.3 2011 L1188.3 2017 L1192.2 1999 L1195.2 1994.2 L1200.1 2006 L1204.1 2009 L1205 2018.5Z" fill="#FFEBDB"/>
<path d="M1149.7 1744.7 C1151.38 1744.82 1153.78 1748.55 1155.6 1750.7 C1157.42 1752.85 1159.33 1755.38 1160.6 1757.6 C1161.87 1759.82 1163.03 1760.63 1163.2 1764 C1163.37 1767.37 1162.53 1774.35 1161.6 1777.8 C1160.67 1781.25 1158.92 1783.38 1157.6 1784.7 C1156.28 1786.02 1155.02 1785.03 1153.7 1785.7 C1152.38 1786.37 1151.02 1789.37 1149.7 1788.7 C1148.38 1788.03 1146.72 1785.82 1145.8 1781.7 C1144.88 1777.58 1144.25 1769.28 1144.2 1764 C1144.15 1758.72 1144.58 1753.22 1145.5 1750 C1146.42 1746.78 1148.02 1744.58 1149.7 1744.7 Z" fill="#B3CCFF"/>
<path d="M766.9 1403.8 L1019.4 1403.8 L1019.4 1536.8 L935.2 1536.8 L935.2 1631.1 L858.8 1631.1 L858.8 1704.2 L766.9 1704.2Z" fill="#FFFFFF"/>
<path d="M1226.4 1403.8 L1498.3 1403.8 L1498.3 1764.5 L1471.5 1764.5 L1471.5 1704.2 L1379.8 1704.2 L1379.8 1631.1 L1295.6 1631.1 L1295.6 1536.8 L1226.4 1536.8Z" fill="#FFFFFF"/>
<path d="M992.8 2132.9 L992.8 2124.6 L1008.4 2124.6 L1008.4 2115.7 L1016.3 2115.7 L1016.3 2105.8 L1019.8 2105.8 L1019.8 2086.1 L1023.8 2086.1 L1023.8 2043 L1043 2043 L1043 2018.5 L1065.7 2018.5 L1065.7 1992.2 L1103.8 1992.2 L1103.8 2018.5 L1229.8 2018.5 L1229.8 2043 L1248.9 2043 L1248.9 2065.3 L1264.3 2065.3 L1264.3 2086.5 L1279.8 2086.5 L1279.8 2105.8 L1283.7 2105.8 L1283.7 2115.7 L1295 2115.7 L1295 2124.6 L1310.4 2124.6 L1310.4 2132.9Z" fill="#FFFFFF"/>
<path d="M1490.6 2018.5 L1498.3 2018.5 L1498.3 2132.9 L1475.7 2132.9 L1475.7 2125 L1479.2 2125 L1479.2 2065.3 L1483.3 2065.3 L1483.3 2043 L1490.6 2043Z" fill="#FFFFFF"/>
<g stroke="#000" stroke-linecap="round" fill="none">
<rect x="766.9" y="1403.8" width="731.4" height="729.1" stroke-width="4.4" stroke-linejoin="miter"/>
<line x1="766.9" y1="1403.8" x2="766.9" y2="1385.8" stroke-width="4.4"/>
<line x1="766.9" y1="2132.9" x2="766.9" y2="2151.9" stroke-width="4.4"/>
<line x1="807.53" y1="1403.8" x2="807.53" y2="1394.2" stroke-width="2.3"/>
<line x1="807.53" y1="2132.9" x2="807.53" y2="2143.2" stroke-width="2.3"/>
<line x1="848.17" y1="1403.8" x2="848.17" y2="1394.2" stroke-width="2.3"/>
<line x1="848.17" y1="2132.9" x2="848.17" y2="2143.2" stroke-width="2.3"/>
<line x1="888.8" y1="1403.8" x2="888.8" y2="1385.8" stroke-width="4.4"/>
<line x1="888.8" y1="2132.9" x2="888.8" y2="2151.9" stroke-width="4.4"/>
<line x1="929.43" y1="1403.8" x2="929.43" y2="1394.2" stroke-width="2.3"/>
<line x1="929.43" y1="2132.9" x2="929.43" y2="2143.2" stroke-width="2.3"/>
<line x1="970.07" y1="1403.8" x2="970.07" y2="1394.2" stroke-width="2.3"/>
<line x1="970.07" y1="2132.9" x2="970.07" y2="2143.2" stroke-width="2.3"/>
<line x1="1010.7" y1="1403.8" x2="1010.7" y2="1385.8" stroke-width="4.4"/>
<line x1="1010.7" y1="2132.9" x2="1010.7" y2="2151.9" stroke-width="4.4"/>
<line x1="1051.33" y1="1403.8" x2="1051.33" y2="1394.2" stroke-width="2.3"/>
<line x1="1051.33" y1="2132.9" x2="1051.33" y2="2143.2" stroke-width="2.3"/>
<line x1="1091.97" y1="1403.8" x2="1091.97" y2="1394.2" stroke-width="2.3"/>
<line x1="1091.97" y1="2132.9" x2="1091.97" y2="2143.2" stroke-width="2.3"/>
<line x1="1132.6" y1="1403.8" x2="1132.6" y2="1385.8" stroke-width="4.4"/>
<line x1="1132.6" y1="2132.9" x2="1132.6" y2="2151.9" stroke-width="4.4"/>
<line x1="1173.23" y1="1403.8" x2="1173.23" y2="1394.2" stroke-width="2.3"/>
<line x1="1173.23" y1="2132.9" x2="1173.23" y2="2143.2" stroke-width="2.3"/>
<line x1="1213.87" y1="1403.8" x2="1213.87" y2="1394.2" stroke-width="2.3"/>
<line x1="1213.87" y1="2132.9" x2="1213.87" y2="2143.2" stroke-width="2.3"/>
<line x1="1254.5" y1="1403.8" x2="1254.5" y2="1385.8" stroke-width="4.4"/>
<line x1="1254.5" y1="2132.9" x2="1254.5" y2="2151.9" stroke-width="4.4"/>
<line x1="1295.13" y1="1403.8" x2="1295.13" y2="1394.2" stroke-width="2.3"/>
<line x1="1295.13" y1="2132.9" x2="1295.13" y2="2143.2" stroke-width="2.3"/>
<line x1="1335.77" y1="1403.8" x2="1335.77" y2="1394.2" stroke-width="2.3"/>
<line x1="1335.77" y1="2132.9" x2="1335.77" y2="2143.2" stroke-width="2.3"/>
<line x1="1376.4" y1="1403.8" x2="1376.4" y2="1385.8" stroke-width="4.4"/>
<line x1="1376.4" y1="2132.9" x2="1376.4" y2="2151.9" stroke-width="4.4"/>
<line x1="1417.03" y1="1403.8" x2="1417.03" y2="1394.2" stroke-width="2.3"/>
<line x1="1417.03" y1="2132.9" x2="1417.03" y2="2143.2" stroke-width="2.3"/>
<line x1="1457.67" y1="1403.8" x2="1457.67" y2="1394.2" stroke-width="2.3"/>
<line x1="1457.67" y1="2132.9" x2="1457.67" y2="2143.2" stroke-width="2.3"/>
<line x1="1498.3" y1="1403.8" x2="1498.3" y2="1385.8" stroke-width="4.4"/>
<line x1="1498.3" y1="2132.9" x2="1498.3" y2="2151.9" stroke-width="4.4"/>
<line x1="766.9" y1="1403.8" x2="748.6" y2="1403.8" stroke-width="4.4"/>
<line x1="766.9" y1="1536.83" x2="748.6" y2="1536.83" stroke-width="4.4"/>
<line x1="766.9" y1="1631.22" x2="748.6" y2="1631.22" stroke-width="4.4"/>
<line x1="766.9" y1="1704.43" x2="748.6" y2="1704.43" stroke-width="4.4"/>
<line x1="766.9" y1="1764.25" x2="748.6" y2="1764.25" stroke-width="4.4"/>
<line x1="766.9" y1="1858.64" x2="748.6" y2="1858.64" stroke-width="4.4"/>
<line x1="766.9" y1="1931.86" x2="748.6" y2="1931.86" stroke-width="4.4"/>
<line x1="766.9" y1="2042.25" x2="748.6" y2="2042.25" stroke-width="4.4"/>
<line x1="766.9" y1="2105.96" x2="748.6" y2="2105.96" stroke-width="4.4"/>
<line x1="1498.3" y1="1415.4" x2="1517.4" y2="1415.4" stroke-width="4.4"/>
<line x1="1498.3" y1="1621.1" x2="1517.4" y2="1621.1" stroke-width="4.4"/>
<line x1="1498.3" y1="1820.7" x2="1517.4" y2="1820.7" stroke-width="4.4"/>
<line x1="1498.3" y1="2000.7" x2="1517.4" y2="2000.7" stroke-width="4.4"/>
</g>
<path d="M679.7 1398.91 C682.19 1397.6 684.27 1396.28 685.3 1394.4 L685.3 1413.2 M702.96 1394.4 C706.4 1394.4 709.2 1398.61 709.2 1403.8 C709.2 1408.99 706.4 1413.2 702.96 1413.2 C699.51 1413.2 696.72 1408.99 696.72 1403.8 C696.72 1398.61 699.51 1394.4 702.96 1394.4 M721.66 1394.4 C725.11 1394.4 727.9 1398.61 727.9 1403.8 C727.9 1408.99 725.11 1413.2 721.66 1413.2 C718.21 1413.2 715.42 1408.99 715.42 1403.8 C715.42 1398.61 718.21 1394.4 721.66 1394.4" stroke-width="2.4"/>
<path d="M679.7 1531.95 C682.14 1530.63 684.17 1529.31 685.19 1527.43 L685.19 1546.23 M708.09 1527.43 L698.71 1527.43 L697.64 1535.71 C699.35 1534.39 701.05 1534.01 702.97 1534.01 C707.03 1534.01 709.59 1536.65 709.59 1540.03 C709.59 1543.79 706.6 1546.23 702.76 1546.23 C699.77 1546.23 697.43 1544.92 696.36 1542.85 M721.79 1527.43 C725.16 1527.43 727.9 1531.64 727.9 1536.83 C727.9 1542.02 725.16 1546.23 721.79 1546.23 C718.42 1546.23 715.68 1542.02 715.68 1536.83 C715.68 1531.64 718.42 1527.43 721.79 1527.43" stroke-width="2.4"/>
<path d="M678.92 1626.71 C678.92 1623.51 681.58 1621.82 684.65 1621.82 C687.93 1621.82 690.59 1623.7 690.59 1626.9 C690.59 1629.91 688.34 1631.6 685.47 1633.67 L678.1 1640.62 L691 1640.62 M703.29 1621.82 C706.69 1621.82 709.45 1626.03 709.45 1631.22 C709.45 1636.41 706.69 1640.62 703.29 1640.62 C699.89 1640.62 697.14 1636.41 697.14 1631.22 C697.14 1626.03 699.89 1621.82 703.29 1621.82 M721.74 1621.82 C725.14 1621.82 727.9 1626.03 727.9 1631.22 C727.9 1636.41 725.14 1640.62 721.74 1640.62 C718.34 1640.62 715.59 1636.41 715.59 1631.22 C715.59 1626.03 718.34 1621.82 721.74 1621.82" stroke-width="2.4"/>
<path d="M678.9 1699.92 C678.9 1696.73 681.51 1695.03 684.52 1695.03 C687.73 1695.03 690.34 1696.91 690.34 1700.11 C690.34 1703.12 688.13 1704.81 685.32 1706.88 L678.1 1713.83 L690.74 1713.83 M708.34 1695.03 L699.07 1695.03 L698.02 1703.31 C699.71 1701.99 701.39 1701.61 703.29 1701.61 C707.29 1701.61 709.82 1704.25 709.82 1707.63 C709.82 1711.39 706.87 1713.83 703.08 1713.83 C700.13 1713.83 697.81 1712.52 696.76 1710.45 M721.87 1695.03 C725.2 1695.03 727.9 1699.24 727.9 1704.43 C727.9 1709.63 725.2 1713.83 721.87 1713.83 C718.54 1713.83 715.84 1709.63 715.84 1704.43 C715.84 1699.24 718.54 1695.03 721.87 1695.03" stroke-width="2.4"/>
<path d="M679.13 1754.85 L689.61 1754.85 L683.65 1762.37 C688.17 1762.37 690.84 1764.63 690.84 1768.01 C690.84 1771.4 687.97 1773.65 684.27 1773.65 C681.39 1773.65 679.13 1772.34 678.1 1770.27 M703.19 1754.85 C706.6 1754.85 709.37 1759.06 709.37 1764.25 C709.37 1769.45 706.6 1773.65 703.19 1773.65 C699.78 1773.65 697.01 1769.45 697.01 1764.25 C697.01 1759.06 699.78 1754.85 703.19 1754.85 M721.72 1754.85 C725.13 1754.85 727.9 1759.06 727.9 1764.25 C727.9 1769.45 725.13 1773.65 721.72 1773.65 C718.31 1773.65 715.54 1769.45 715.54 1764.25 C715.54 1759.06 718.31 1754.85 721.72 1754.85" stroke-width="2.4"/>
<path d="M687.68 1868.04 L687.68 1849.24 L678.1 1862.22 L691.15 1862.22 M703.39 1849.24 C706.78 1849.24 709.52 1853.45 709.52 1858.64 C709.52 1863.83 706.78 1868.04 703.39 1868.04 C700.01 1868.04 697.26 1863.83 697.26 1858.64 C697.26 1853.45 700.01 1849.24 703.39 1849.24 M721.77 1849.24 C725.16 1849.24 727.9 1853.45 727.9 1858.64 C727.9 1863.83 725.16 1868.04 721.77 1868.04 C718.38 1868.04 715.64 1863.83 715.64 1858.64 C715.64 1853.45 718.38 1849.24 721.77 1849.24" stroke-width="2.4"/>
<path d="M689.82 1922.46 L680.44 1922.46 L679.38 1930.73 C681.08 1929.41 682.79 1929.04 684.71 1929.04 C688.75 1929.04 691.31 1931.67 691.31 1935.05 C691.31 1938.81 688.33 1941.26 684.49 1941.26 C681.51 1941.26 679.17 1939.94 678.1 1937.87 M703.5 1922.46 C706.87 1922.46 709.61 1926.66 709.61 1931.86 C709.61 1937.05 706.87 1941.26 703.5 1941.26 C700.13 1941.26 697.4 1937.05 697.4 1931.86 C697.4 1926.66 700.13 1922.46 703.5 1922.46 M721.8 1922.46 C725.17 1922.46 727.9 1926.66 727.9 1931.86 C727.9 1937.05 725.17 1941.26 721.8 1941.26 C718.43 1941.26 715.69 1937.05 715.69 1931.86 C715.69 1926.66 718.43 1922.46 721.8 1922.46" stroke-width="2.4"/>
<path d="M678.1 2032.85 L691 2032.85 L682.19 2051.65 M703.29 2032.85 C706.69 2032.85 709.45 2037.06 709.45 2042.25 C709.45 2047.44 706.69 2051.65 703.29 2051.65 C699.89 2051.65 697.14 2047.44 697.14 2042.25 C697.14 2037.06 699.89 2032.85 703.29 2032.85 M721.74 2032.85 C725.14 2032.85 727.9 2037.06 727.9 2042.25 C727.9 2047.44 725.14 2051.65 721.74 2051.65 C718.34 2051.65 715.59 2047.44 715.59 2042.25 C715.59 2037.06 718.34 2032.85 721.74 2032.85" stroke-width="2.4"/>
<path d="M684.42 2096.56 C687.19 2096.56 689.43 2098.53 689.43 2100.97 C689.43 2103.41 687.19 2105.39 684.42 2105.39 C681.65 2105.39 679.4 2103.41 679.4 2100.97 C679.4 2098.53 681.65 2096.56 684.42 2096.56 M684.42 2105.39 C687.91 2105.39 690.74 2107.62 690.74 2110.37 C690.74 2113.13 687.91 2115.36 684.42 2115.36 C680.93 2115.36 678.1 2113.13 678.1 2110.37 C678.1 2107.62 680.93 2105.39 684.42 2105.39 M708.34 2096.56 L699.07 2096.56 L698.02 2104.83 C699.71 2103.51 701.39 2103.14 703.29 2103.14 C707.29 2103.14 709.82 2105.77 709.82 2109.15 C709.82 2112.91 706.87 2115.36 703.08 2115.36 C700.13 2115.36 697.81 2114.04 696.76 2111.97 M721.87 2096.56 C725.2 2096.56 727.9 2100.76 727.9 2105.96 C727.9 2111.15 725.2 2115.36 721.87 2115.36 C718.54 2115.36 715.84 2111.15 715.84 2105.96 C715.84 2100.76 718.54 2096.56 721.87 2096.56" stroke-width="2.4"/>
<path d="M1537 1410.51 C1539.59 1409.2 1541.74 1407.88 1542.82 1406 L1542.82 1424.8 M1564.98 1408.44 C1564.04 1406.94 1562.35 1406 1560.48 1406 C1556.54 1406 1554.67 1410.51 1554.67 1416.34 C1554.67 1421.98 1556.92 1424.8 1560.48 1424.8 C1563.85 1424.8 1566.1 1422.17 1566.1 1418.78 C1566.1 1415.4 1563.85 1413.14 1560.66 1413.14 C1557.48 1413.14 1555.23 1415.21 1554.67 1417.66" stroke-width="2.4"/>
<path d="M1537 1616.21 C1539.41 1614.9 1541.42 1613.58 1542.42 1611.7 L1542.42 1630.5 M1554.26 1616.59 C1554.26 1613.39 1556.87 1611.7 1559.88 1611.7 C1563.09 1611.7 1565.7 1613.58 1565.7 1616.78 C1565.7 1619.78 1563.49 1621.48 1560.68 1623.54 L1553.46 1630.5 L1566.1 1630.5" stroke-width="2.4"/>
<path d="M1543.7 1811.3 C1546.64 1811.3 1549.02 1813.28 1549.02 1815.72 C1549.02 1818.16 1546.64 1820.14 1543.7 1820.14 C1540.76 1820.14 1538.38 1818.16 1538.38 1815.72 C1538.38 1813.28 1540.76 1811.3 1543.7 1811.3 M1543.7 1820.14 C1547.4 1820.14 1550.4 1822.37 1550.4 1825.12 C1550.4 1827.87 1547.4 1830.1 1543.7 1830.1 C1540 1830.1 1537 1827.87 1537 1825.12 C1537 1822.37 1540 1820.14 1543.7 1820.14" stroke-width="2.4"/>
<path d="M1547.72 2010.1 L1547.72 1991.3 L1537 2004.27 L1551.6 2004.27" stroke-width="2.4"/>
<path d="M742.28 2189.28 C743.26 2190.77 745.02 2191.7 746.98 2191.7 C751.09 2191.7 753.05 2187.24 753.05 2181.47 C753.05 2175.89 750.7 2173.1 746.98 2173.1 C743.45 2173.1 741.1 2175.7 741.1 2179.05 C741.1 2182.4 743.45 2184.63 746.78 2184.63 C750.11 2184.63 752.47 2182.59 753.05 2180.17 M765.85 2173.1 C769.39 2173.1 772.25 2177.26 772.25 2182.4 C772.25 2187.54 769.39 2191.7 765.85 2191.7 C762.31 2191.7 759.44 2187.54 759.44 2182.4 C759.44 2177.26 762.31 2173.1 765.85 2173.1 M778.64 2191.7 L778.64 2173.1 L792.7 2191.7 L792.7 2173.1" stroke-width="2.4"/>
<path d="M873.32 2175.52 C872.38 2174.03 870.69 2173.1 868.82 2173.1 C864.88 2173.1 863 2177.56 863 2183.33 C863 2188.91 865.25 2191.7 868.82 2191.7 C872.2 2191.7 874.45 2189.1 874.45 2185.75 C874.45 2182.4 872.2 2180.17 869.01 2180.17 C865.82 2180.17 863.56 2182.21 863 2184.63 M887.41 2173.1 C890.99 2173.1 893.89 2177.26 893.89 2182.4 C893.89 2187.54 890.99 2191.7 887.41 2191.7 C883.82 2191.7 880.92 2187.54 880.92 2182.4 C880.92 2177.26 883.82 2173.1 887.41 2173.1 M900.36 2191.7 L900.36 2173.1 L914.6 2191.7 L914.6 2173.1" stroke-width="2.4"/>
<path d="M985.94 2173.1 L996.55 2173.1 L990.51 2180.54 C995.09 2180.54 997.79 2182.77 997.79 2186.12 C997.79 2189.47 994.88 2191.7 991.14 2191.7 C988.23 2191.7 985.94 2190.4 984.9 2188.35 M1010.28 2173.1 C1013.74 2173.1 1016.54 2177.26 1016.54 2182.4 C1016.54 2187.54 1013.74 2191.7 1010.28 2191.7 C1006.83 2191.7 1004.03 2187.54 1004.03 2182.4 C1004.03 2177.26 1006.83 2173.1 1010.28 2173.1 M1022.78 2191.7 L1022.78 2173.1 L1036.5 2191.7 L1036.5 2173.1" stroke-width="2.4"/>
<path d="M1132.6 2173.1 C1136.41 2173.1 1139.5 2177.26 1139.5 2182.4 C1139.5 2187.54 1136.41 2191.7 1132.6 2191.7 C1128.79 2191.7 1125.7 2187.54 1125.7 2182.4 C1125.7 2177.26 1128.79 2173.1 1132.6 2173.1" stroke-width="2.4"/>
<path d="M1230.41 2173.1 L1240.68 2173.1 L1234.84 2180.54 C1239.27 2180.54 1241.89 2182.77 1241.89 2186.12 C1241.89 2189.47 1239.07 2191.7 1235.44 2191.7 C1232.62 2191.7 1230.41 2190.4 1229.4 2188.35 M1254 2173.1 C1257.34 2173.1 1260.06 2177.26 1260.06 2182.4 C1260.06 2187.54 1257.34 2191.7 1254 2191.7 C1250.65 2191.7 1247.94 2187.54 1247.94 2182.4 C1247.94 2177.26 1250.65 2173.1 1254 2173.1 M1278.79 2175.89 C1277.59 2174.03 1275.57 2173.1 1272.95 2173.1 C1269.32 2173.1 1266.91 2174.96 1266.91 2177.75 C1266.91 2180.91 1269.93 2181.84 1273.35 2182.59 C1277.38 2183.52 1279.6 2184.63 1279.6 2187.42 C1279.6 2190.03 1276.78 2191.7 1273.15 2191.7 C1269.93 2191.7 1267.31 2190.4 1266.1 2187.98" stroke-width="2.4"/>
<path d="M1361.3 2175.52 C1360.39 2174.03 1358.75 2173.1 1356.94 2173.1 C1353.12 2173.1 1351.3 2177.56 1351.3 2183.33 C1351.3 2188.91 1353.48 2191.7 1356.94 2191.7 C1360.21 2191.7 1362.39 2189.1 1362.39 2185.75 C1362.39 2182.4 1360.21 2180.17 1357.12 2180.17 C1354.03 2180.17 1351.85 2182.21 1351.3 2184.63 M1374.94 2173.1 C1378.42 2173.1 1381.23 2177.26 1381.23 2182.4 C1381.23 2187.54 1378.42 2191.7 1374.94 2191.7 C1371.47 2191.7 1368.66 2187.54 1368.66 2182.4 C1368.66 2177.26 1371.47 2173.1 1374.94 2173.1 M1400.66 2175.89 C1399.41 2174.03 1397.32 2173.1 1394.6 2173.1 C1390.84 2173.1 1388.33 2174.96 1388.33 2177.75 C1388.33 2180.91 1391.47 2181.84 1395.02 2182.59 C1399.2 2183.52 1401.5 2184.63 1401.5 2187.42 C1401.5 2190.03 1398.57 2191.7 1394.81 2191.7 C1391.47 2191.7 1388.75 2190.4 1387.5 2187.98" stroke-width="2.4"/>
<path d="M1474.34 2189.28 C1475.29 2190.77 1477 2191.7 1478.9 2191.7 C1482.88 2191.7 1484.78 2187.24 1484.78 2181.47 C1484.78 2175.89 1482.5 2173.1 1478.9 2173.1 C1475.48 2173.1 1473.2 2175.7 1473.2 2179.05 C1473.2 2182.4 1475.48 2184.63 1478.71 2184.63 C1481.93 2184.63 1484.21 2182.59 1484.78 2180.17 M1497.18 2173.1 C1500.6 2173.1 1503.38 2177.26 1503.38 2182.4 C1503.38 2187.54 1500.6 2191.7 1497.18 2191.7 C1493.75 2191.7 1490.97 2187.54 1490.97 2182.4 C1490.97 2177.26 1493.75 2173.1 1497.18 2173.1 M1522.57 2175.89 C1521.34 2174.03 1519.27 2173.1 1516.59 2173.1 C1512.88 2173.1 1510.4 2174.96 1510.4 2177.75 C1510.4 2180.91 1513.49 2181.84 1517 2182.59 C1521.13 2183.52 1523.4 2184.63 1523.4 2187.42 C1523.4 2190.03 1520.51 2191.7 1516.8 2191.7 C1513.49 2191.7 1510.81 2190.4 1509.57 2187.98" stroke-width="2.4"/>
<path d="M644.9 1928.7 L615.5 1928.7 L615.5 1916.34 C615.5 1911.34 618.73 1908.69 623.44 1908.69 C628.14 1908.69 631.38 1911.34 631.38 1916.34 L631.38 1928.7 M623.73 1898.66 L644.9 1898.66 M630.2 1898.66 C626.08 1897.32 623.73 1894.32 623.73 1890.3 L623.73 1888.63 M634.32 1880.6 L634.32 1863.38 C627.85 1863.38 623.73 1866.82 623.73 1871.99 C623.73 1877.15 627.85 1880.94 634.32 1880.94 C640.78 1880.94 644.9 1877.15 644.9 1871.64 C644.9 1868.2 643.72 1865.44 641.37 1863.72 M626.67 1839.51 C624.61 1840.71 623.73 1842.82 623.73 1845.82 C623.73 1849.74 625.5 1852.45 629.02 1852.45 C632.26 1852.45 633.43 1849.74 634.32 1845.52 C635.2 1841.01 636.67 1838.6 639.61 1838.6 C643.14 1838.6 644.9 1841.61 644.9 1845.82 C644.9 1849.44 643.43 1852.14 641.08 1853.35 M626.67 1814.73 C624.61 1815.93 623.73 1818.04 623.73 1821.05 C623.73 1824.96 625.5 1827.67 629.02 1827.67 C632.26 1827.67 633.43 1824.96 634.32 1820.75 C635.2 1816.24 636.67 1813.83 639.61 1813.83 C643.14 1813.83 644.9 1816.84 644.9 1821.05 C644.9 1824.66 643.43 1827.37 641.08 1828.57 M623.73 1803.8 L637.26 1803.8 C642.25 1803.8 644.9 1800.79 644.9 1795.77 C644.9 1791.76 643.14 1788.75 640.2 1787.41 M623.73 1787.41 L644.9 1787.41 M623.73 1777.38 L644.9 1777.38 M630.2 1777.38 C626.08 1776.05 623.73 1773.04 623.73 1769.03 L623.73 1767.35 M634.32 1759.32 L634.32 1742.1 C627.85 1742.1 623.73 1745.54 623.73 1750.71 C623.73 1755.88 627.85 1759.66 634.32 1759.66 C640.78 1759.66 644.9 1755.88 644.9 1750.37 C644.9 1746.92 643.72 1744.17 641.37 1742.44" stroke-width="2.4"/>
<path d="M613.15 1699.33 C619.32 1704.92 626.38 1707.9 633.73 1707.9 C641.08 1707.9 648.13 1704.92 654.31 1699.33 M623.73 1691.88 L644.9 1691.88 M628.44 1691.88 C625.5 1690.02 623.73 1687.04 623.73 1682.57 C623.73 1676.61 626.38 1673.62 631.38 1673.62 L644.9 1673.62 M628.44 1673.62 C625.5 1671.76 623.73 1668.78 623.73 1664.31 C623.73 1658.35 626.38 1655.37 631.38 1655.37 L644.9 1655.37 M615.5 1644.19 L644.9 1644.19 M629.02 1644.19 C625.5 1642.7 623.73 1639.72 623.73 1635.25 C623.73 1628.92 627.85 1624.82 634.32 1624.82 C640.78 1624.82 644.9 1628.92 644.9 1635.25 C644.9 1639.72 643.14 1642.7 639.61 1644.19 M613.15 1617.37 C619.32 1611.78 626.38 1608.8 633.73 1608.8 C641.08 1608.8 648.13 1611.78 654.31 1617.37" stroke-width="2.4"/>
<path d="M1594.1 1899.7 L1624.4 1899.7 M1594.1 1877.5 L1624.4 1877.5 M1608.64 1899.7 L1608.64 1877.5 M1613.49 1867.06 L1613.49 1849.74 C1606.83 1849.74 1602.58 1853.21 1602.58 1858.4 C1602.58 1863.6 1606.83 1867.41 1613.49 1867.41 C1620.16 1867.41 1624.4 1863.6 1624.4 1858.06 C1624.4 1854.59 1623.19 1851.82 1620.76 1850.09 M1602.58 1838.31 L1624.4 1838.31 M1594.1 1838.31 C1594.1 1837.56 1594.64 1836.96 1595.31 1836.96 C1595.98 1836.96 1596.52 1837.56 1596.52 1838.31 C1596.52 1839.05 1595.98 1839.65 1595.31 1839.65 C1594.64 1839.65 1594.1 1839.05 1594.1 1838.31 M1602.58 1809.38 L1626.22 1809.38 C1631.07 1809.38 1633.49 1812.41 1633.49 1817.79 C1633.49 1821.15 1632.28 1823.84 1630.46 1825.19 M1607.73 1809.38 C1604.4 1810.73 1602.58 1813.42 1602.58 1817.45 C1602.58 1823.17 1606.52 1826.87 1612.58 1826.87 C1618.64 1826.87 1622.58 1823.17 1622.58 1817.45 C1622.58 1813.42 1620.76 1810.73 1617.43 1809.38 M1594.1 1799.29 L1624.4 1799.29 M1607.43 1799.29 C1604.4 1797.61 1602.58 1794.58 1602.58 1790.55 C1602.58 1785.5 1605.31 1782.81 1610.46 1782.81 L1624.4 1782.81 M1594.71 1769.69 L1620.16 1769.69 C1623.19 1769.69 1624.4 1768.43 1624.4 1766.16 L1624.4 1764.9 M1602.58 1772.72 L1602.58 1764.9" stroke-width="2.4"/>
<path d="M1591.68 1724.21 C1598.04 1729.62 1605.31 1732.5 1612.89 1732.5 C1620.46 1732.5 1627.73 1729.62 1634.1 1724.21 M1594.1 1716.99 L1624.4 1716.99 M1602.58 1700.41 L1615.92 1716.99 M1610.76 1710.86 L1624.4 1698.96 M1602.58 1688.15 L1624.4 1688.15 M1607.43 1688.15 C1604.4 1686.34 1602.58 1683.46 1602.58 1679.13 C1602.58 1673.36 1605.31 1670.48 1610.46 1670.48 L1624.4 1670.48 M1607.43 1670.48 C1604.4 1668.67 1602.58 1665.79 1602.58 1661.46 C1602.58 1655.69 1605.31 1652.81 1610.46 1652.81 L1624.4 1652.81 M1591.68 1645.59 C1598.04 1640.18 1605.31 1637.3 1612.89 1637.3 C1620.46 1637.3 1627.73 1640.18 1634.1 1645.59" stroke-width="2.4"/>
<path d="M766.8 1370.3 L776.79 1342.7 L786.77 1370.3 M770.41 1360.36 L783.17 1360.36 M795.1 1350.43 L802.31 1370.3 L809.52 1350.43 M832.27 1350.43 L832.27 1371.96 C832.27 1376.37 829.77 1378.58 825.34 1378.58 C822.56 1378.58 820.34 1377.48 819.23 1375.82 M832.27 1355.12 C831.16 1352.08 828.94 1350.43 825.61 1350.43 C820.9 1350.43 817.85 1354.02 817.85 1359.54 C817.85 1365.06 820.9 1368.64 825.61 1368.64 C828.94 1368.64 831.16 1366.99 832.27 1363.95 M843.09 1368.37 C843.7 1368.37 844.2 1368.86 844.2 1369.47 C844.2 1370.08 843.7 1370.58 843.09 1370.58 C842.48 1370.58 841.98 1370.08 841.98 1369.47 C841.98 1368.86 842.48 1368.37 843.09 1368.37" stroke-width="2.4"/>
<path d="M897.19 1348.77 C895.38 1344.91 891.77 1342.7 887.25 1342.7 C880.32 1342.7 875.5 1348.22 875.5 1356.5 C875.5 1364.78 880.32 1370.3 887.25 1370.3 C891.77 1370.3 895.38 1368.09 897.19 1364.23 M906.23 1342.7 L906.23 1370.3 M924.28 1350.43 C929.26 1350.43 933.3 1354.88 933.3 1360.36 C933.3 1365.85 929.26 1370.3 924.28 1370.3 C919.3 1370.3 915.26 1365.85 915.26 1360.36 C915.26 1354.88 919.3 1350.43 924.28 1350.43 M942.34 1350.43 L942.34 1363.12 C942.34 1367.82 945.05 1370.3 949.57 1370.3 C953.18 1370.3 955.89 1368.64 957.1 1365.88 M957.1 1350.43 L957.1 1370.3 M981.8 1342.7 L981.8 1370.3 M981.8 1355.4 C980.6 1352.08 978.19 1350.43 974.59 1350.43 C969.58 1350.43 966.14 1354.29 966.14 1360.36 C966.14 1366.44 969.58 1370.3 974.59 1370.3 C978.19 1370.3 980.6 1368.64 981.8 1365.33" stroke-width="2.4"/>
<path d="M1010.6 1342.7 L1010.6 1370.3 M1036.62 1354.02 C1034.96 1351.53 1032.3 1350.43 1028.98 1350.43 C1023.66 1350.43 1020.01 1354.29 1020.01 1360.36 C1020.01 1366.44 1023.66 1370.3 1028.98 1370.3 C1032.3 1370.3 1034.96 1369.2 1036.62 1366.71 M1046.35 1360.36 L1062.5 1360.36 C1062.5 1354.29 1059.27 1350.43 1054.43 1350.43 C1049.58 1350.43 1046.03 1354.29 1046.03 1360.36 C1046.03 1366.44 1049.58 1370.3 1054.75 1370.3 C1057.98 1370.3 1060.56 1369.2 1062.18 1366.99" stroke-width="2.4"/>
<path d="M1101.44 1338.01 L1095.3 1378.58 M1109.13 1338.01 L1102.98 1378.58 M1093.14 1350.98 L1112.2 1350.98 M1091.3 1364.23 L1110.36 1364.23" stroke-width="2.4"/>
<path d="M1162.03 1348.77 C1160.28 1344.91 1156.77 1342.7 1152.39 1342.7 C1145.67 1342.7 1141 1348.22 1141 1356.5 C1141 1364.78 1145.67 1370.3 1152.39 1370.3 C1156.77 1370.3 1160.28 1368.09 1162.03 1364.23 M1179.54 1350.43 C1184.37 1350.43 1188.28 1354.88 1188.28 1360.36 C1188.28 1365.85 1184.37 1370.3 1179.54 1370.3 C1174.71 1370.3 1170.79 1365.85 1170.79 1360.36 C1170.79 1354.88 1174.71 1350.43 1179.54 1350.43 M1197.05 1350.43 L1197.05 1370.3 M1197.05 1354.84 C1198.42 1352.08 1200.89 1350.43 1204.18 1350.43 C1208.3 1350.43 1210.5 1352.91 1210.5 1357.6 L1210.5 1370.3 M1234.74 1354.02 C1233.19 1351.53 1230.72 1350.43 1227.62 1350.43 C1222.67 1350.43 1219.26 1354.29 1219.26 1360.36 C1219.26 1366.44 1222.67 1370.3 1227.62 1370.3 C1230.72 1370.3 1233.19 1369.2 1234.74 1366.71 M1246.13 1368.37 C1246.78 1368.37 1247.3 1368.86 1247.3 1369.47 C1247.3 1370.08 1246.78 1370.58 1246.13 1370.58 C1245.49 1370.58 1244.96 1370.08 1244.96 1369.47 C1244.96 1368.86 1245.49 1368.37 1246.13 1368.37" stroke-width="2.4"/>
<path d="M1288.74 1363.42 C1287.09 1360.93 1284.46 1359.83 1281.18 1359.83 C1275.92 1359.83 1272.3 1363.69 1272.3 1369.76 C1272.3 1375.84 1275.92 1379.7 1281.18 1379.7 C1284.46 1379.7 1287.09 1378.6 1288.74 1376.11 M1298.04 1359.83 L1298.04 1379.7 M1298.04 1364.24 C1299.59 1361.48 1302.08 1359.83 1305.8 1359.83 C1310.76 1359.83 1313.24 1362.31 1313.24 1367 L1313.24 1379.7 M1313.24 1364.24 C1314.79 1361.48 1317.27 1359.83 1321 1359.83 C1325.96 1359.83 1328.44 1362.31 1328.44 1367 L1328.44 1379.7 M1338.99 1359.55 C1339.67 1359.55 1340.23 1360.05 1340.23 1360.66 C1340.23 1361.27 1339.67 1361.76 1338.99 1361.76 C1338.3 1361.76 1337.74 1361.27 1337.74 1360.66 C1337.74 1360.05 1338.3 1359.55 1338.99 1359.55 M1338.99 1377.77 C1339.67 1377.77 1340.23 1378.26 1340.23 1378.87 C1340.23 1379.48 1339.67 1379.98 1338.99 1379.98 C1338.3 1379.98 1337.74 1379.48 1337.74 1378.87 C1337.74 1378.26 1338.3 1377.77 1338.99 1377.77 M1369.07 1356.24 C1367.21 1353.48 1364.11 1352.1 1360.08 1352.1 C1354.49 1352.1 1350.77 1354.86 1350.77 1359 C1350.77 1363.69 1355.42 1365.07 1360.7 1366.18 C1366.9 1367.56 1370.31 1369.21 1370.31 1373.35 C1370.31 1377.22 1365.97 1379.7 1360.39 1379.7 C1355.42 1379.7 1351.39 1377.77 1349.53 1374.18 M1380.86 1359.55 C1381.54 1359.55 1382.1 1360.05 1382.1 1360.66 C1382.1 1361.27 1381.54 1361.76 1380.86 1361.76 C1380.17 1361.76 1379.62 1361.27 1379.62 1360.66 C1379.62 1360.05 1380.17 1359.55 1380.86 1359.55 M1380.86 1377.77 C1381.54 1377.77 1382.1 1378.26 1382.1 1378.87 C1382.1 1379.48 1381.54 1379.98 1380.86 1379.98 C1380.17 1379.98 1379.62 1379.48 1379.62 1378.87 C1379.62 1378.26 1380.17 1377.77 1380.86 1377.77 M1391.4 1367.28 L1416.22 1367.28 M1427.07 1352.1 L1442.89 1352.1 L1433.9 1363.14 C1440.72 1363.14 1444.75 1366.45 1444.75 1371.42 C1444.75 1376.39 1440.41 1379.7 1434.83 1379.7 C1430.48 1379.7 1427.07 1377.77 1425.52 1374.73 M1455.3 1359.55 C1455.98 1359.55 1456.54 1360.05 1456.54 1360.66 C1456.54 1361.27 1455.98 1361.76 1455.3 1361.76 C1454.61 1361.76 1454.06 1361.27 1454.06 1360.66 C1454.06 1360.05 1454.61 1359.55 1455.3 1359.55 M1455.3 1377.77 C1455.98 1377.77 1456.54 1378.26 1456.54 1378.87 C1456.54 1379.48 1455.98 1379.98 1455.3 1379.98 C1454.61 1379.98 1454.06 1379.48 1454.06 1378.87 C1454.06 1378.26 1454.61 1377.77 1455.3 1377.77 M1465.84 1379.7 L1465.84 1352.1 L1486.31 1379.7 L1486.31 1352.1 M1496.86 1359.55 C1497.54 1359.55 1498.1 1360.05 1498.1 1360.66 C1498.1 1361.27 1497.54 1361.76 1496.86 1361.76 C1496.17 1361.76 1495.62 1361.27 1495.62 1360.66 C1495.62 1360.05 1496.17 1359.55 1496.86 1359.55 M1496.86 1377.77 C1497.54 1377.77 1498.1 1378.26 1498.1 1378.87 C1498.1 1379.48 1497.54 1379.98 1496.86 1379.98 C1496.17 1379.98 1495.62 1379.48 1495.62 1378.87 C1495.62 1378.26 1496.17 1377.77 1496.86 1377.77" stroke-width="2.4"/>
<path d="M1069.95 51.05 L1069.95 6.25 L1087.22 51.05 L1104.5 6.25 L1104.5 51.05 M1117.13 51.05 L1132.3 6.25 L1147.47 51.05 M1122.61 34.92 L1141.99 34.92 M1160.1 51.05 L1160.1 6.25 L1177.38 51.05 L1194.65 6.25 L1194.65 51.05" stroke-width="2.7"/>
<path d="M6.9 138.8 L6.9 108.6 L18.72 108.6 C23.44 108.6 25.81 111.62 25.81 115.85 C25.81 120.08 23.15 122.79 18.72 122.79 L6.9 122.79 M18.72 122.79 C24.03 122.79 26.99 126.12 26.99 130.65 C26.99 135.78 23.74 138.8 18.72 138.8 L6.9 138.8 M34.29 108.6 L53.37 108.6 M43.83 108.6 L43.83 138.8 M66.07 115.85 C69.89 113.73 73.06 111.62 74.65 108.6 L74.65 138.8 M102.13 108.6 C106.51 108.6 110.07 111.78 110.07 115.7 C110.07 119.62 106.51 122.79 102.13 122.79 C97.74 122.79 94.19 119.62 94.19 115.7 C94.19 111.78 97.74 108.6 102.13 108.6 M102.13 122.79 C107.65 122.79 112.13 126.38 112.13 130.8 C112.13 135.22 107.65 138.8 102.13 138.8 C96.6 138.8 92.12 135.22 92.12 130.8 C92.12 126.38 96.6 122.79 102.13 122.79 M140 108.6 L125.33 108.6 L123.66 121.89 C126.33 119.77 129 119.17 132 119.17 C138.34 119.17 142.34 123.4 142.34 128.83 C142.34 134.87 137.67 138.8 131.67 138.8 C127 138.8 123.33 136.69 121.66 133.36 M161.42 108.6 C166.69 108.6 170.97 115.36 170.97 123.7 C170.97 132.04 166.69 138.8 161.42 138.8 C156.14 138.8 151.87 132.04 151.87 123.7 C151.87 115.36 156.14 108.6 161.42 108.6 M180.5 143.03 L202.1 143.03 M228.14 117.06 L228.14 138.8 M228.14 122.49 C226.87 118.87 224.33 117.06 220.54 117.06 C215.26 117.06 211.63 121.28 211.63 127.93 C211.63 134.57 215.26 138.8 220.54 138.8 C224.33 138.8 226.87 136.99 228.14 133.36 M254.19 108.6 L254.19 138.8 M254.19 122.49 C252.92 118.87 250.38 117.06 246.59 117.06 C241.31 117.06 237.67 121.28 237.67 127.93 C237.67 134.57 241.31 138.8 246.59 138.8 C250.38 138.8 252.92 136.99 254.19 133.36 M267.53 117.06 L267.53 143.33 C267.53 146.35 265.62 147.86 262.76 147.86 L260.54 147.86 M267.53 108.6 C268.23 108.6 268.8 109.14 268.8 109.81 C268.8 110.48 268.23 111.02 267.53 111.02 C266.83 111.02 266.26 110.48 266.26 109.81 C266.26 109.14 266.83 108.6 267.53 108.6 M278.33 117.06 L278.33 130.95 C278.33 136.08 281.19 138.8 285.95 138.8 C289.76 138.8 292.62 136.99 293.89 133.97 M293.89 117.06 L293.89 138.8 M316.57 120.08 C315.43 117.96 313.43 117.06 310.57 117.06 C306.85 117.06 304.28 118.87 304.28 122.49 C304.28 125.81 306.85 127.02 310.85 127.93 C315.14 128.83 317.43 130.34 317.43 133.36 C317.43 136.99 314.57 138.8 310.57 138.8 C307.14 138.8 304.56 137.29 303.42 134.87 M329.82 109.2 L329.82 134.57 C329.82 137.59 331.01 138.8 333.15 138.8 L334.34 138.8 M326.96 117.06 L334.34 117.06 M360.71 120.98 C359.02 118.26 356.33 117.06 352.96 117.06 C347.58 117.06 343.87 121.28 343.87 127.93 C343.87 134.57 347.58 138.8 352.96 138.8 C356.33 138.8 359.02 137.59 360.71 134.87 M370.23 108.6 L370.23 138.8 M389.28 117.06 C394.53 117.06 398.79 121.92 398.79 127.93 C398.79 133.93 394.53 138.8 389.28 138.8 C384.02 138.8 379.76 133.93 379.76 127.93 C379.76 121.92 384.02 117.06 389.28 117.06 M408.32 117.06 L408.32 130.95 C408.32 136.08 411.17 138.8 415.94 138.8 C419.75 138.8 422.61 136.99 423.88 133.97 M423.88 117.06 L423.88 138.8 M449.93 108.6 L449.93 138.8 M449.93 122.49 C448.65 118.87 446.11 117.06 442.33 117.06 C437.04 117.06 433.41 121.28 433.41 127.93 C433.41 134.57 437.04 138.8 442.33 138.8 C446.11 138.8 448.65 136.99 449.93 133.36 M459.45 143.03 L481.05 143.03 M490.58 117.06 L498.84 138.8 L507.1 117.06 M517.9 116.45 C517.9 111.32 522.03 108.6 526.79 108.6 C531.87 108.6 536 111.62 536 116.75 C536 121.59 532.51 124.3 528.06 127.63 L516.63 138.8 L536.64 138.8 M549.03 136.69 C549.73 136.69 550.3 137.23 550.3 137.89 C550.3 138.56 549.73 139.1 549.03 139.1 C548.32 139.1 547.76 138.56 547.76 137.89 C547.76 137.23 548.32 136.69 549.03 136.69 M567.77 115.85 C571.58 113.73 574.75 111.62 576.34 108.6 L576.34 138.8 M603.36 108.6 C608.64 108.6 612.91 115.36 612.91 123.7 C612.91 132.04 608.64 138.8 603.36 138.8 C598.09 138.8 593.81 132.04 593.81 123.7 C593.81 115.36 598.09 108.6 603.36 108.6 M622.44 143.03 L644.04 143.03 M656.43 109.2 L656.43 134.57 C656.43 137.59 657.62 138.8 659.77 138.8 L660.96 138.8 M653.57 117.06 L660.96 117.06 M670.81 127.93 L687.17 127.93 C687.17 121.28 683.9 117.06 678.99 117.06 C674.08 117.06 670.49 121.28 670.49 127.93 C670.49 134.57 674.08 138.8 679.32 138.8 C682.59 138.8 685.21 137.59 686.84 135.18 M709.85 120.08 C708.71 117.96 706.7 117.06 703.85 117.06 C700.13 117.06 697.56 118.87 697.56 122.49 C697.56 125.81 700.13 127.02 704.13 127.93 C708.42 128.83 710.71 130.34 710.71 133.36 C710.71 136.99 707.85 138.8 703.85 138.8 C700.42 138.8 697.84 137.29 696.7 134.87 M723.09 109.2 L723.09 134.57 C723.09 137.59 724.29 138.8 726.43 138.8 L727.62 138.8 M720.24 117.06 L727.62 117.06 M738.42 116.45 C738.42 111.32 742.55 108.6 747.31 108.6 C752.4 108.6 756.53 111.62 756.53 116.75 C756.53 121.59 753.03 124.3 748.58 127.63 L737.15 138.8 L757.16 138.8 M767.96 116.45 C767.96 111.32 772.09 108.6 776.85 108.6 C781.94 108.6 786.06 111.62 786.06 116.75 C786.06 121.59 782.57 124.3 778.12 127.63 L766.69 138.8 L786.7 138.8" stroke-width="2.4"/>
<path d="M826.9 106.18 C821.49 112.53 818.6 119.77 818.6 127.32 C818.6 134.87 821.49 142.12 826.9 148.46 M831.58 117.06 L841.32 138.8 M851.06 117.06 L839.16 144.54 C838.08 146.65 836.27 147.86 833.75 147.86 M861.88 117.06 L861.88 138.8 M861.88 123.7 C863.32 119.47 866.57 117.06 870.9 117.06 L872.7 117.06 M895.93 120.08 C894.63 117.96 892.36 117.06 889.11 117.06 C884.89 117.06 881.97 118.87 881.97 122.49 C881.97 125.81 884.89 127.02 889.43 127.93 C894.3 128.83 896.9 130.34 896.9 133.36 C896.9 136.99 893.65 138.8 889.11 138.8 C885.21 138.8 882.29 137.29 880.99 134.87" stroke-width="2.4"/>
<path d="M930.61 134.87 C932.12 137.29 934.83 138.8 937.85 138.8 C944.18 138.8 947.2 131.55 947.2 122.19 C947.2 113.13 943.58 108.6 937.85 108.6 C932.42 108.6 928.8 112.83 928.8 118.26 C928.8 123.7 932.42 127.32 937.55 127.32 C942.67 127.32 946.29 124 947.2 120.08 M961.95 115.85 C965.89 113.73 969.16 111.62 970.8 108.6 L970.8 138.8 M988.83 125.21 L1015.06 125.21 M1029.81 115.85 C1033.75 113.73 1037.03 111.62 1038.67 108.6 L1038.67 138.8 M1058.01 116.45 C1058.01 111.32 1062.27 108.6 1067.19 108.6 C1072.43 108.6 1076.7 111.62 1076.7 116.75 C1076.7 121.59 1073.09 124.3 1068.5 127.63 L1056.7 138.8 L1077.35 138.8 M1097.04 108.6 C1102.49 108.6 1106.9 115.36 1106.9 123.7 C1106.9 132.04 1102.49 138.8 1097.04 138.8 C1091.6 138.8 1087.19 132.04 1087.19 123.7 C1087.19 115.36 1091.6 108.6 1097.04 108.6 M1113.46 106.18 C1118.38 112.53 1121 119.77 1121 127.32 C1121 134.87 1118.38 142.12 1113.46 148.46" stroke-width="2.4"/>
<path d="M1224.78 109.2 C1223.98 108.75 1223.45 108.6 1222.65 108.6 C1219.99 108.6 1218.66 110.41 1218.66 114.04 L1218.66 138.8 M1215.2 117.06 L1224.25 117.06 M1244.04 108.6 C1249.37 108.6 1253.68 115.36 1253.68 123.7 C1253.68 132.04 1249.37 138.8 1244.04 138.8 C1238.72 138.8 1234.4 132.04 1234.4 123.7 C1234.4 115.36 1238.72 108.6 1244.04 108.6 M1265.07 134.87 C1266.55 137.29 1269.2 138.8 1272.15 138.8 C1278.35 138.8 1281.3 131.55 1281.3 122.19 C1281.3 113.13 1277.76 108.6 1272.15 108.6 C1266.84 108.6 1263.3 112.83 1263.3 118.26 C1263.3 123.7 1266.84 127.32 1271.86 127.32 C1276.87 127.32 1280.41 124 1281.3 120.08 M1293.8 136.69 C1294.51 136.69 1295.09 137.23 1295.09 137.89 C1295.09 138.56 1294.51 139.1 1293.8 139.1 C1293.09 139.1 1292.52 138.56 1292.52 137.89 C1292.52 137.23 1293.09 136.69 1293.8 136.69 M1307.91 138.8 L1307.91 108.6 L1319.84 108.6 C1324.61 108.6 1327 111.62 1327 115.85 C1327 120.08 1324.31 122.79 1319.84 122.79 L1307.91 122.79 M1319.84 122.79 C1325.21 122.79 1328.19 126.12 1328.19 130.65 C1328.19 135.78 1324.91 138.8 1319.84 138.8 L1307.91 138.8 M1337.81 125.21 L1363.46 125.21 M1373.08 138.8 L1373.08 108.6 L1384.93 108.6 C1389.73 108.6 1392.27 111.92 1392.27 116.75 C1392.27 121.59 1389.73 124.91 1384.93 124.91 L1373.08 124.91 M1401.89 108.6 L1401.89 138.8 M1414.39 136.69 C1415.1 136.69 1415.67 137.23 1415.67 137.89 C1415.67 138.56 1415.1 139.1 1414.39 139.1 C1413.68 139.1 1413.11 138.56 1413.11 137.89 C1413.11 137.23 1413.68 136.69 1414.39 136.69 M1431.38 109.2 L1431.38 134.57 C1431.38 137.59 1432.59 138.8 1434.75 138.8 L1435.95 138.8 M1428.5 117.06 L1435.95 117.06 M1445.57 117.06 L1445.57 138.8 M1445.57 121.89 C1447.08 118.87 1449.79 117.06 1453.41 117.06 C1457.93 117.06 1460.34 119.77 1460.34 124.91 L1460.34 138.8 M1474.77 115.85 C1478.62 113.73 1481.82 111.62 1483.43 108.6 L1483.43 138.8 M1519.58 108.6 L1504.77 108.6 L1503.08 121.89 C1505.78 119.77 1508.47 119.17 1511.5 119.17 C1517.9 119.17 1521.94 123.4 1521.94 128.83 C1521.94 134.87 1517.22 138.8 1511.16 138.8 C1506.45 138.8 1502.75 136.69 1501.06 133.36 M1534.44 136.69 C1535.15 136.69 1535.72 137.23 1535.72 137.89 C1535.72 138.56 1535.15 139.1 1534.44 139.1 C1533.73 139.1 1533.16 138.56 1533.16 137.89 C1533.16 137.23 1533.73 136.69 1534.44 136.69 M1565.54 120.98 C1563.85 118.26 1561.13 117.06 1557.73 117.06 C1552.29 117.06 1548.55 121.28 1548.55 127.93 C1548.55 134.57 1552.29 138.8 1557.73 138.8 C1561.13 138.8 1563.85 137.59 1565.54 134.87 M1575.16 117.06 L1575.16 138.8 M1575.16 121.89 C1576.77 118.87 1579.33 117.06 1583.18 117.06 C1588.31 117.06 1590.88 119.77 1590.88 124.91 L1590.88 138.8 M1590.88 121.89 C1592.48 118.87 1595.04 117.06 1598.89 117.06 C1604.02 117.06 1606.59 119.77 1606.59 124.91 L1606.59 138.8 M1617.49 117.06 L1617.49 138.8 M1617.49 108.6 C1618.2 108.6 1618.77 109.14 1618.77 109.81 C1618.77 110.48 1618.2 111.02 1617.49 111.02 C1616.78 111.02 1616.21 110.48 1616.21 109.81 C1616.21 109.14 1616.78 108.6 1617.49 108.6 M1628.39 117.06 L1628.39 147.86 M1628.39 122.49 C1629.67 118.87 1632.24 117.06 1636.09 117.06 C1641.54 117.06 1645.06 121.28 1645.06 127.93 C1645.06 134.57 1641.54 138.8 1636.09 138.8 C1632.24 138.8 1629.67 136.99 1628.39 133.36 M1670.03 112.53 C1668.63 110.11 1666.12 108.6 1663.33 108.6 C1657.47 108.6 1654.68 115.85 1654.68 125.21 C1654.68 134.27 1658.03 138.8 1663.33 138.8 C1668.35 138.8 1671.7 134.57 1671.7 129.14 C1671.7 123.7 1668.35 120.08 1663.61 120.08 C1658.87 120.08 1655.52 123.4 1654.68 127.32 M1684.21 136.69 C1684.91 136.69 1685.49 137.23 1685.49 137.89 C1685.49 138.56 1684.91 139.1 1684.21 139.1 C1683.5 139.1 1682.92 138.56 1682.92 137.89 C1682.92 137.23 1683.5 136.69 1684.21 136.69 M1702.16 117.06 L1702.16 143.33 C1702.16 146.35 1700.24 147.86 1697.35 147.86 L1695.11 147.86 M1702.16 108.6 C1702.87 108.6 1703.44 109.14 1703.44 109.81 C1703.44 110.48 1702.87 111.02 1702.16 111.02 C1701.45 111.02 1700.88 110.48 1700.88 109.81 C1700.88 109.14 1701.45 108.6 1702.16 108.6 M1722.7 108.6 C1728.03 108.6 1732.35 115.36 1732.35 123.7 C1732.35 132.04 1728.03 138.8 1722.7 138.8 C1717.38 138.8 1713.06 132.04 1713.06 123.7 C1713.06 115.36 1717.38 108.6 1722.7 108.6 M1746.78 115.85 C1750.62 113.73 1753.83 111.62 1755.43 108.6 L1755.43 138.8 M1775.95 136.69 C1776.66 136.69 1777.24 137.23 1777.24 137.89 C1777.24 138.56 1776.66 139.1 1775.95 139.1 C1775.25 139.1 1774.67 138.56 1774.67 137.89 C1774.67 137.23 1775.25 136.69 1775.95 136.69 M1790.06 117.06 L1790.06 138.8 M1790.06 123.7 C1791.35 119.47 1794.23 117.06 1798.08 117.06 L1799.68 117.06 M1807.39 127.93 L1823.9 127.93 C1823.9 121.28 1820.6 117.06 1815.64 117.06 C1810.69 117.06 1807.06 121.28 1807.06 127.93 C1807.06 134.57 1810.69 138.8 1815.97 138.8 C1819.28 138.8 1821.92 137.59 1823.57 135.18" stroke-width="2.4"/>
<path d="M1863.56 106.18 C1858.17 112.53 1855.3 119.77 1855.3 127.32 C1855.3 134.87 1858.17 142.12 1863.56 148.46 M1868.23 117.06 L1877.93 138.8 M1887.64 117.06 L1875.78 144.54 C1874.7 146.65 1872.9 147.86 1870.39 147.86 M1898.41 117.06 L1898.41 138.8 M1898.41 123.7 C1899.85 119.47 1903.08 117.06 1907.4 117.06 L1909.19 117.06 M1932.33 120.08 C1931.04 117.96 1928.77 117.06 1925.54 117.06 C1921.34 117.06 1918.43 118.87 1918.43 122.49 C1918.43 125.81 1921.34 127.02 1925.86 127.93 C1930.71 128.83 1933.3 130.34 1933.3 133.36 C1933.3 136.99 1930.07 138.8 1925.54 138.8 C1921.66 138.8 1918.75 137.29 1917.46 134.87" stroke-width="2.4"/>
<path d="M1981.93 112.53 C1980.48 110.11 1977.87 108.6 1974.98 108.6 C1968.9 108.6 1966 115.85 1966 125.21 C1966 134.27 1969.48 138.8 1974.98 138.8 C1980.19 138.8 1983.66 134.57 1983.66 129.14 C1983.66 123.7 1980.19 120.08 1975.27 120.08 C1970.34 120.08 1966.87 123.4 1966 127.32 M1993.65 108.6 L2014.62 108.6 L2000.31 138.8 M2029.6 115.85 C2033.59 113.73 2036.92 111.62 2038.59 108.6 L2038.59 138.8 M2056.89 125.21 L2083.52 125.21 M2093.51 108.6 L2114.48 108.6 L2100.17 138.8 M2134.47 108.6 C2140 108.6 2144.48 115.36 2144.48 123.7 C2144.48 132.04 2140 138.8 2134.47 138.8 C2128.95 138.8 2124.46 132.04 2124.46 123.7 C2124.46 115.36 2128.95 108.6 2134.47 108.6 M2164.48 108.6 C2170.01 108.6 2174.49 115.36 2174.49 123.7 C2174.49 132.04 2170.01 138.8 2164.48 138.8 C2158.95 138.8 2154.47 132.04 2154.47 123.7 C2154.47 115.36 2158.95 108.6 2164.48 108.6 M2181.14 106.18 C2186.14 112.53 2188.8 119.77 2188.8 127.32 C2188.8 134.87 2186.14 142.12 2181.14 148.46" stroke-width="2.4"/>
<path d="M391.6 1303 L391.6 1272.5 L403.42 1272.5 C408.15 1272.5 410.51 1275.55 410.51 1279.82 C410.51 1284.09 407.85 1286.84 403.42 1286.84 L391.6 1286.84 M403.42 1286.84 C408.74 1286.84 411.69 1290.19 411.69 1294.77 C411.69 1299.95 408.44 1303 403.42 1303 L391.6 1303 M419 1272.5 L438.09 1272.5 M428.55 1272.5 L428.55 1303 M450.8 1279.82 C454.61 1277.68 457.79 1275.55 459.38 1272.5 L459.38 1303 M486.86 1272.5 C491.25 1272.5 494.81 1275.71 494.81 1279.67 C494.81 1283.63 491.25 1286.84 486.86 1286.84 C482.48 1286.84 478.92 1283.63 478.92 1279.67 C478.92 1275.71 482.48 1272.5 486.86 1272.5 M486.86 1286.84 C492.39 1286.84 496.87 1290.45 496.87 1294.92 C496.87 1299.38 492.39 1303 486.86 1303 C481.33 1303 476.85 1299.38 476.85 1294.92 C476.85 1290.45 481.33 1286.84 486.86 1286.84 M524.75 1272.5 L510.07 1272.5 L508.41 1285.92 C511.08 1283.79 513.74 1283.17 516.75 1283.17 C523.09 1283.17 527.09 1287.44 527.09 1292.93 C527.09 1299.04 522.42 1303 516.41 1303 C511.74 1303 508.07 1300.87 506.4 1297.51 M546.18 1272.5 C551.45 1272.5 555.73 1279.33 555.73 1287.75 C555.73 1296.17 551.45 1303 546.18 1303 C540.9 1303 536.62 1296.17 536.62 1287.75 C536.62 1279.33 540.9 1272.5 546.18 1272.5 M565.26 1307.27 L586.87 1307.27 M612.93 1281.04 L612.93 1303 M612.93 1286.53 C611.66 1282.87 609.11 1281.04 605.33 1281.04 C600.04 1281.04 596.4 1285.31 596.4 1292.02 C596.4 1298.73 600.04 1303 605.33 1303 C609.11 1303 611.66 1301.17 612.93 1297.51 M638.98 1272.5 L638.98 1303 M638.98 1286.53 C637.71 1282.87 635.17 1281.04 631.38 1281.04 C626.1 1281.04 622.46 1285.31 622.46 1292.02 C622.46 1298.73 626.1 1303 631.38 1303 C635.17 1303 637.71 1301.17 638.98 1297.51 M652.33 1281.04 L652.33 1307.58 C652.33 1310.62 650.42 1312.15 647.56 1312.15 L645.34 1312.15 M652.33 1272.5 C653.03 1272.5 653.6 1273.05 653.6 1273.72 C653.6 1274.39 653.03 1274.94 652.33 1274.94 C651.63 1274.94 651.06 1274.39 651.06 1273.72 C651.06 1273.05 651.63 1272.5 652.33 1272.5 M663.13 1281.04 L663.13 1295.07 C663.13 1300.26 665.99 1303 670.76 1303 C674.57 1303 677.43 1301.17 678.7 1298.12 M678.7 1281.04 L678.7 1303 M701.39 1284.09 C700.25 1281.95 698.24 1281.04 695.38 1281.04 C691.67 1281.04 689.09 1282.87 689.09 1286.53 C689.09 1289.88 691.67 1291.11 695.67 1292.02 C699.96 1292.93 702.25 1294.46 702.25 1297.51 C702.25 1301.17 699.39 1303 695.38 1303 C691.95 1303 689.38 1301.47 688.24 1299.04 M714.64 1273.11 L714.64 1298.73 C714.64 1301.78 715.83 1303 717.98 1303 L719.17 1303 M711.78 1281.04 L719.17 1281.04 M745.54 1285.01 C743.86 1282.26 741.16 1281.04 737.8 1281.04 C732.41 1281.04 728.7 1285.31 728.7 1292.02 C728.7 1298.73 732.41 1303 737.8 1303 C741.16 1303 743.86 1301.78 745.54 1299.04 M755.07 1272.5 L755.07 1303 M774.12 1281.04 C779.38 1281.04 783.64 1285.96 783.64 1292.02 C783.64 1298.08 779.38 1303 774.12 1303 C768.87 1303 764.61 1298.08 764.61 1292.02 C764.61 1285.96 768.87 1281.04 774.12 1281.04 M793.17 1281.04 L793.17 1295.07 C793.17 1300.26 796.03 1303 800.8 1303 C804.61 1303 807.47 1301.17 808.74 1298.12 M808.74 1281.04 L808.74 1303 M834.8 1272.5 L834.8 1303 M834.8 1286.53 C833.52 1282.87 830.98 1281.04 827.2 1281.04 C821.91 1281.04 818.27 1285.31 818.27 1292.02 C818.27 1298.73 821.91 1303 827.2 1303 C830.98 1303 833.52 1301.17 834.8 1297.51 M844.33 1307.27 L865.94 1307.27 M875.47 1281.04 L883.73 1303 L891.99 1281.04 M902.79 1280.43 C902.79 1275.24 906.93 1272.5 911.69 1272.5 C916.78 1272.5 920.91 1275.55 920.91 1280.73 C920.91 1285.62 917.41 1288.36 912.96 1291.71 L901.52 1303 L921.54 1303 M933.93 1300.87 C934.64 1300.87 935.21 1301.41 935.21 1302.09 C935.21 1302.76 934.64 1303.31 933.93 1303.31 C933.23 1303.31 932.66 1302.76 932.66 1302.09 C932.66 1301.41 933.23 1300.87 933.93 1300.87 M952.68 1279.82 C956.5 1277.68 959.67 1275.55 961.26 1272.5 L961.26 1303 M988.29 1272.5 C993.57 1272.5 997.85 1279.33 997.85 1287.75 C997.85 1296.17 993.57 1303 988.29 1303 C983.02 1303 978.74 1296.17 978.74 1287.75 C978.74 1279.33 983.02 1272.5 988.29 1272.5 M1007.38 1307.27 L1028.99 1307.27 M1041.38 1273.11 L1041.38 1298.73 C1041.38 1301.78 1042.57 1303 1044.72 1303 L1045.91 1303 M1038.52 1281.04 L1045.91 1281.04 M1055.77 1292.02 L1072.13 1292.02 C1072.13 1285.31 1068.86 1281.04 1063.95 1281.04 C1059.04 1281.04 1055.44 1285.31 1055.44 1292.02 C1055.44 1298.73 1059.04 1303 1064.28 1303 C1067.55 1303 1070.17 1301.78 1071.8 1299.34 M1094.82 1284.09 C1093.68 1281.95 1091.67 1281.04 1088.81 1281.04 C1085.1 1281.04 1082.52 1282.87 1082.52 1286.53 C1082.52 1289.88 1085.1 1291.11 1089.1 1292.02 C1093.39 1292.93 1095.68 1294.46 1095.68 1297.51 C1095.68 1301.17 1092.82 1303 1088.81 1303 C1085.38 1303 1082.81 1301.47 1081.66 1299.04 M1108.07 1273.11 L1108.07 1298.73 C1108.07 1301.78 1109.26 1303 1111.41 1303 L1112.6 1303 M1105.21 1281.04 L1112.6 1281.04 M1123.4 1280.43 C1123.4 1275.24 1127.53 1272.5 1132.3 1272.5 C1137.38 1272.5 1141.51 1275.55 1141.51 1280.73 C1141.51 1285.62 1138.02 1288.36 1133.57 1291.71 L1122.13 1303 L1142.15 1303 M1152.95 1280.43 C1152.95 1275.24 1157.08 1272.5 1161.85 1272.5 C1166.93 1272.5 1171.06 1275.55 1171.06 1280.73 C1171.06 1285.62 1167.57 1288.36 1163.12 1291.71 L1151.68 1303 L1171.7 1303" stroke-width="2.4"/>
<path d="M1205.1 1289.28 L1230.7 1289.28" stroke-width="2.4"/>
<path d="M1272.7 1273.11 C1271.9 1272.65 1271.36 1272.5 1270.56 1272.5 C1267.9 1272.5 1266.57 1274.33 1266.57 1277.99 L1266.57 1303 M1263.1 1281.04 L1272.16 1281.04 M1291.99 1272.5 C1297.32 1272.5 1301.65 1279.33 1301.65 1287.75 C1301.65 1296.17 1297.32 1303 1291.99 1303 C1286.66 1303 1282.33 1296.17 1282.33 1287.75 C1282.33 1279.33 1286.66 1272.5 1291.99 1272.5 M1313.05 1299.04 C1314.53 1301.47 1317.19 1303 1320.15 1303 C1326.35 1303 1329.31 1295.68 1329.31 1286.22 C1329.31 1277.08 1325.76 1272.5 1320.15 1272.5 C1314.83 1272.5 1311.28 1276.77 1311.28 1282.26 C1311.28 1287.75 1314.83 1291.41 1319.85 1291.41 C1324.87 1291.41 1328.42 1288.06 1329.31 1284.09 M1341.83 1300.87 C1342.54 1300.87 1343.12 1301.41 1343.12 1302.09 C1343.12 1302.76 1342.54 1303.31 1341.83 1303.31 C1341.12 1303.31 1340.55 1302.76 1340.55 1302.09 C1340.55 1301.41 1341.12 1300.87 1341.83 1300.87 M1355.96 1303 L1355.96 1272.5 L1367.91 1272.5 C1372.69 1272.5 1375.08 1275.55 1375.08 1279.82 C1375.08 1284.09 1372.39 1286.84 1367.91 1286.84 L1355.96 1286.84 M1367.91 1286.84 C1373.29 1286.84 1376.27 1290.19 1376.27 1294.77 C1376.27 1299.95 1372.99 1303 1367.91 1303 L1355.96 1303 M1385.91 1289.28 L1411.6 1289.28 M1421.24 1303 L1421.24 1272.5 L1433.11 1272.5 C1437.91 1272.5 1440.46 1275.86 1440.46 1280.73 C1440.46 1285.62 1437.91 1288.97 1433.11 1288.97 L1421.24 1288.97 M1450.09 1272.5 L1450.09 1303 M1462.62 1300.87 C1463.33 1300.87 1463.9 1301.41 1463.9 1302.09 C1463.9 1302.76 1463.33 1303.31 1462.62 1303.31 C1461.91 1303.31 1461.33 1302.76 1461.33 1302.09 C1461.33 1301.41 1461.91 1300.87 1462.62 1300.87 M1479.64 1273.11 L1479.64 1298.73 C1479.64 1301.78 1480.84 1303 1483.01 1303 L1484.22 1303 M1476.75 1281.04 L1484.22 1281.04 M1493.85 1281.04 L1493.85 1303 M1493.85 1285.92 C1495.36 1282.87 1498.08 1281.04 1501.7 1281.04 C1506.23 1281.04 1508.64 1283.79 1508.64 1288.97 L1508.64 1303 M1523.1 1279.82 C1526.95 1277.68 1530.16 1275.55 1531.77 1272.5 L1531.77 1303 M1567.98 1272.5 L1553.14 1272.5 L1551.46 1285.92 C1554.15 1283.79 1556.85 1283.17 1559.89 1283.17 C1566.29 1283.17 1570.34 1287.44 1570.34 1292.93 C1570.34 1299.04 1565.62 1303 1559.55 1303 C1554.83 1303 1551.12 1300.87 1549.43 1297.51 M1582.87 1300.87 C1583.58 1300.87 1584.15 1301.41 1584.15 1302.09 C1584.15 1302.76 1583.58 1303.31 1582.87 1303.31 C1582.16 1303.31 1581.58 1302.76 1581.58 1302.09 C1581.58 1301.41 1582.16 1300.87 1582.87 1300.87 M1614.02 1285.01 C1612.32 1282.26 1609.59 1281.04 1606.19 1281.04 C1600.74 1281.04 1597 1285.31 1597 1292.02 C1597 1298.73 1600.74 1303 1606.19 1303 C1609.59 1303 1612.32 1301.78 1614.02 1299.04 M1623.66 1281.04 L1623.66 1303 M1623.66 1285.92 C1625.26 1282.87 1627.83 1281.04 1631.68 1281.04 C1636.82 1281.04 1639.39 1283.79 1639.39 1288.97 L1639.39 1303 M1639.39 1285.92 C1641 1282.87 1643.57 1281.04 1647.42 1281.04 C1652.56 1281.04 1655.13 1283.79 1655.13 1288.97 L1655.13 1303 M1666.05 1281.04 L1666.05 1303 M1666.05 1272.5 C1666.76 1272.5 1667.33 1273.05 1667.33 1273.72 C1667.33 1274.39 1666.76 1274.94 1666.05 1274.94 C1665.34 1274.94 1664.77 1274.39 1664.77 1273.72 C1664.77 1273.05 1665.34 1272.5 1666.05 1272.5 M1676.97 1281.04 L1676.97 1312.15 M1676.97 1286.53 C1678.25 1282.87 1680.82 1281.04 1684.68 1281.04 C1690.14 1281.04 1693.67 1285.31 1693.67 1292.02 C1693.67 1298.73 1690.14 1303 1684.68 1303 C1680.82 1303 1678.25 1301.17 1676.97 1297.51 M1718.67 1276.46 C1717.28 1274.03 1714.76 1272.5 1711.97 1272.5 C1706.1 1272.5 1703.31 1279.82 1703.31 1289.28 C1703.31 1298.42 1706.66 1303 1711.97 1303 C1717 1303 1720.35 1298.73 1720.35 1293.24 C1720.35 1287.75 1717 1284.09 1712.25 1284.09 C1707.5 1284.09 1704.14 1287.44 1703.31 1291.41 M1732.88 1300.87 C1733.59 1300.87 1734.16 1301.41 1734.16 1302.09 C1734.16 1302.76 1733.59 1303.31 1732.88 1303.31 C1732.17 1303.31 1731.59 1302.76 1731.59 1302.09 C1731.59 1301.41 1732.17 1300.87 1732.88 1300.87 M1750.86 1281.04 L1750.86 1307.58 C1750.86 1310.62 1748.93 1312.15 1746.04 1312.15 L1743.8 1312.15 M1750.86 1272.5 C1751.57 1272.5 1752.15 1273.05 1752.15 1273.72 C1752.15 1274.39 1751.57 1274.94 1750.86 1274.94 C1750.15 1274.94 1749.58 1274.39 1749.58 1273.72 C1749.58 1273.05 1750.15 1272.5 1750.86 1272.5 M1771.44 1272.5 C1776.77 1272.5 1781.1 1279.33 1781.1 1287.75 C1781.1 1296.17 1776.77 1303 1771.44 1303 C1766.1 1303 1761.78 1296.17 1761.78 1287.75 C1761.78 1279.33 1766.1 1272.5 1771.44 1272.5 M1795.55 1279.82 C1799.4 1277.68 1802.61 1275.55 1804.22 1272.5 L1804.22 1303 M1824.78 1300.87 C1825.48 1300.87 1826.06 1301.41 1826.06 1302.09 C1826.06 1302.76 1825.48 1303.31 1824.78 1303.31 C1824.07 1303.31 1823.49 1302.76 1823.49 1302.09 C1823.49 1301.41 1824.07 1300.87 1824.78 1300.87 M1838.91 1281.04 L1838.91 1303 M1838.91 1287.75 C1840.19 1283.48 1843.08 1281.04 1846.94 1281.04 L1848.54 1281.04 M1856.26 1292.02 L1872.8 1292.02 C1872.8 1285.31 1869.49 1281.04 1864.53 1281.04 C1859.57 1281.04 1855.93 1285.31 1855.93 1292.02 C1855.93 1298.73 1859.57 1303 1864.86 1303 C1868.17 1303 1870.82 1301.78 1872.47 1299.34" stroke-width="2.4"/>
<path d="M297 1064.4 L297 1042 L307.55 1064.4 L318.09 1042 L318.09 1064.4 M325.81 1042 L325.81 1064.4 M333.52 1064.4 L333.52 1042 L350.5 1064.4 L350.5 1042" stroke-width="2.4"/>
<path d="M378.7 1050.29 L399.1 1050.29 M378.7 1056.78 L399.1 1056.78" stroke-width="2.4"/>
<path d="M471.3 1042 C475.44 1042 478.8 1047.01 478.8 1053.2 C478.8 1059.39 475.44 1064.4 471.3 1064.4 C467.16 1064.4 463.8 1059.39 463.8 1053.2 C463.8 1047.01 467.16 1042 471.3 1042 M488.53 1062.83 C489.08 1062.83 489.53 1063.23 489.53 1063.73 C489.53 1064.22 489.08 1064.62 488.53 1064.62 C487.98 1064.62 487.53 1064.22 487.53 1063.73 C487.53 1063.23 487.98 1062.83 488.53 1062.83 M507.01 1042 C511.15 1042 514.51 1047.01 514.51 1053.2 C514.51 1059.39 511.15 1064.4 507.01 1064.4 C502.87 1064.4 499.51 1059.39 499.51 1053.2 C499.51 1047.01 502.87 1042 507.01 1042 M529.5 1042 C533.64 1042 537 1047.01 537 1053.2 C537 1059.39 533.64 1064.4 529.5 1064.4 C525.36 1064.4 522 1059.39 522 1053.2 C522 1047.01 525.36 1042 529.5 1042" stroke-width="2.4"/>
<path d="M582.9 1064.4 L582.9 1042 L592.19 1064.4 L601.48 1042 L601.48 1064.4 M608.28 1064.4 L616.44 1042 L624.59 1064.4 M611.22 1056.34 L621.65 1056.34 M631.39 1042 L646.8 1064.4 M646.8 1042 L631.39 1064.4" stroke-width="2.4"/>
<path d="M674 1050.29 L694.4 1050.29 M674 1056.78 L694.4 1056.78" stroke-width="2.4"/>
<path d="M765.49 1042 C769.69 1042 773.09 1047.01 773.09 1053.2 C773.09 1059.39 769.69 1064.4 765.49 1064.4 C761.3 1064.4 757.9 1059.39 757.9 1053.2 C757.9 1047.01 761.3 1042 765.49 1042 M782.93 1062.83 C783.49 1062.83 783.94 1063.23 783.94 1063.73 C783.94 1064.22 783.49 1064.62 782.93 1064.62 C782.38 1064.62 781.92 1064.22 781.92 1063.73 C781.92 1063.23 782.38 1062.83 782.93 1062.83 M795.06 1047.82 C795.06 1044.02 798.34 1042 802.13 1042 C806.17 1042 809.45 1044.24 809.45 1048.05 C809.45 1051.63 806.67 1053.65 803.14 1056.11 L794.04 1064.4 L809.95 1064.4 M818.92 1061.49 C820.08 1063.28 822.18 1064.4 824.5 1064.4 C829.38 1064.4 831.7 1059.02 831.7 1052.08 C831.7 1045.36 828.91 1042 824.5 1042 C820.32 1042 817.53 1045.14 817.53 1049.17 C817.53 1053.2 820.32 1055.89 824.27 1055.89 C828.22 1055.89 831 1053.42 831.7 1050.51" stroke-width="2.4"/>
<path d="M1433 1064.4 L1433 1042 L1443.55 1064.4 L1454.09 1042 L1454.09 1064.4 M1461.81 1042 L1461.81 1064.4 M1469.52 1064.4 L1469.52 1042 L1486.5 1064.4 L1486.5 1042" stroke-width="2.4"/>
<path d="M1514.7 1050.29 L1535.1 1050.29 M1514.7 1056.78 L1535.1 1056.78" stroke-width="2.4"/>
<path d="M1607.3 1042 C1611.44 1042 1614.8 1047.01 1614.8 1053.2 C1614.8 1059.39 1611.44 1064.4 1607.3 1064.4 C1603.16 1064.4 1599.8 1059.39 1599.8 1053.2 C1599.8 1047.01 1603.16 1042 1607.3 1042 M1624.53 1062.83 C1625.08 1062.83 1625.53 1063.23 1625.53 1063.73 C1625.53 1064.22 1625.08 1064.62 1624.53 1064.62 C1623.98 1064.62 1623.53 1064.22 1623.53 1063.73 C1623.53 1063.23 1623.98 1062.83 1624.53 1062.83 M1643.01 1042 C1647.15 1042 1650.51 1047.01 1650.51 1053.2 C1650.51 1059.39 1647.15 1064.4 1643.01 1064.4 C1638.87 1064.4 1635.51 1059.39 1635.51 1053.2 C1635.51 1047.01 1638.87 1042 1643.01 1042 M1665.5 1042 C1669.64 1042 1673 1047.01 1673 1053.2 C1673 1059.39 1669.64 1064.4 1665.5 1064.4 C1661.36 1064.4 1658 1059.39 1658 1053.2 C1658 1047.01 1661.36 1042 1665.5 1042" stroke-width="2.4"/>
<path d="M1718.9 1064.4 L1718.9 1042 L1728.19 1064.4 L1737.48 1042 L1737.48 1064.4 M1744.28 1064.4 L1752.44 1042 L1760.59 1064.4 M1747.22 1056.34 L1757.65 1056.34 M1767.39 1042 L1782.8 1064.4 M1782.8 1042 L1767.39 1064.4" stroke-width="2.4"/>
<path d="M1810 1050.29 L1830.4 1050.29 M1810 1056.78 L1830.4 1056.78" stroke-width="2.4"/>
<path d="M1901.29 1042 C1905.37 1042 1908.68 1047.01 1908.68 1053.2 C1908.68 1059.39 1905.37 1064.4 1901.29 1064.4 C1897.21 1064.4 1893.9 1059.39 1893.9 1053.2 C1893.9 1047.01 1897.21 1042 1901.29 1042 M1918.27 1062.83 C1918.81 1062.83 1919.25 1063.23 1919.25 1063.73 C1919.25 1064.22 1918.81 1064.62 1918.27 1064.62 C1917.73 1064.62 1917.29 1064.22 1917.29 1063.73 C1917.29 1063.23 1917.73 1062.83 1918.27 1062.83 M1930.31 1042 L1942.85 1042 L1935.72 1050.96 C1941.13 1050.96 1944.32 1053.65 1944.32 1057.68 C1944.32 1061.71 1940.88 1064.4 1936.46 1064.4 C1933.02 1064.4 1930.31 1062.83 1929.08 1060.37 M1965.89 1042 L1954.54 1042 L1953.25 1051.86 C1955.31 1050.29 1957.38 1049.84 1959.7 1049.84 C1964.6 1049.84 1967.7 1052.98 1967.7 1057.01 C1967.7 1061.49 1964.09 1064.4 1959.44 1064.4 C1955.83 1064.4 1952.99 1062.83 1951.7 1060.37" stroke-width="2.4"/>
<path d="M1594.9 1476.9 L1594.9 1453.7 L1605.82 1476.9 L1616.74 1453.7 L1616.74 1476.9 M1624.73 1453.7 L1624.73 1476.9 M1632.72 1476.9 L1632.72 1453.7 L1650.3 1476.9 L1650.3 1453.7" stroke-width="2.4"/>
<path d="M1676.1 1462.28 L1697.4 1462.28 M1676.1 1469.01 L1697.4 1469.01" stroke-width="2.4"/>
<path d="M1744.1 1466.46 L1764.34 1466.46 M1779.53 1453.7 C1783.73 1453.7 1787.14 1458.89 1787.14 1465.3 C1787.14 1471.71 1783.73 1476.9 1779.53 1476.9 C1775.33 1476.9 1771.93 1471.71 1771.93 1465.3 C1771.93 1458.89 1775.33 1453.7 1779.53 1453.7 M1797.01 1475.28 C1797.56 1475.28 1798.02 1475.69 1798.02 1476.2 C1798.02 1476.72 1797.56 1477.13 1797.01 1477.13 C1796.45 1477.13 1795.99 1476.72 1795.99 1476.2 C1795.99 1475.69 1796.45 1475.28 1797.01 1475.28 M1809.15 1459.73 C1809.15 1455.79 1812.44 1453.7 1816.23 1453.7 C1820.28 1453.7 1823.57 1456.02 1823.57 1459.96 C1823.57 1463.68 1820.79 1465.76 1817.24 1468.32 L1808.14 1476.9 L1824.07 1476.9 M1839.63 1453.7 C1843.12 1453.7 1845.96 1456.14 1845.96 1459.15 C1845.96 1462.16 1843.12 1464.6 1839.63 1464.6 C1836.14 1464.6 1833.31 1462.16 1833.31 1459.15 C1833.31 1456.14 1836.14 1453.7 1839.63 1453.7 M1839.63 1464.6 C1844.03 1464.6 1847.6 1467.36 1847.6 1470.75 C1847.6 1474.15 1844.03 1476.9 1839.63 1476.9 C1835.23 1476.9 1831.66 1474.15 1831.66 1470.75 C1831.66 1467.36 1835.23 1464.6 1839.63 1464.6" stroke-width="2.4"/>
<path d="M1891.7 1476.9 L1891.7 1453.7 L1901.15 1476.9 L1910.6 1453.7 L1910.6 1476.9 M1917.52 1476.9 L1925.81 1453.7 L1934.11 1476.9 M1920.51 1468.55 L1931.11 1468.55 M1941.03 1453.7 L1956.7 1476.9 M1956.7 1453.7 L1941.03 1476.9" stroke-width="2.4"/>
<path d="M1982.6 1462.28 L2004.2 1462.28 M1982.6 1469.01 L2004.2 1469.01" stroke-width="2.4"/>
<path d="M2075.2 1453.7 C2079.39 1453.7 2082.79 1458.89 2082.79 1465.3 C2082.79 1471.71 2079.39 1476.9 2075.2 1476.9 C2071 1476.9 2067.6 1471.71 2067.6 1465.3 C2067.6 1458.89 2071 1453.7 2075.2 1453.7 M2092.65 1475.28 C2093.21 1475.28 2093.66 1475.69 2093.66 1476.2 C2093.66 1476.72 2093.21 1477.13 2092.65 1477.13 C2092.09 1477.13 2091.64 1476.72 2091.64 1476.2 C2091.64 1475.69 2092.09 1475.28 2092.65 1475.28 M2111.36 1453.7 C2115.56 1453.7 2118.96 1458.89 2118.96 1465.3 C2118.96 1471.71 2115.56 1476.9 2111.36 1476.9 C2107.16 1476.9 2103.76 1471.71 2103.76 1465.3 C2103.76 1458.89 2107.16 1453.7 2111.36 1453.7 M2127.8 1453.7 L2140.68 1453.7 L2133.36 1462.98 C2138.92 1462.98 2142.2 1465.76 2142.2 1469.94 C2142.2 1474.12 2138.66 1476.9 2134.12 1476.9 C2130.58 1476.9 2127.8 1475.28 2126.54 1472.72" stroke-width="2.4"/>
<rect x="209" y="1100.5" width="44.69" height="64.8" fill="#00008B"/>
<rect x="253.39" y="1100.5" width="44.69" height="64.8" fill="#0020B8"/>
<rect x="297.77" y="1100.5" width="44.69" height="64.8" fill="#0033E0"/>
<rect x="342.16" y="1100.5" width="44.69" height="64.8" fill="#1A4DFF"/>
<rect x="386.55" y="1100.5" width="44.69" height="64.8" fill="#4078FF"/>
<rect x="430.94" y="1100.5" width="44.69" height="64.8" fill="#80A8FF"/>
<rect x="475.33" y="1100.5" width="44.69" height="64.8" fill="#B3CCFF"/>
<rect x="519.71" y="1100.5" width="44.69" height="64.8" fill="#D6E8FF"/>
<rect x="564.1" y="1100.5" width="44.69" height="64.8" fill="#FFEBDB"/>
<rect x="608.49" y="1100.5" width="44.69" height="64.8" fill="#FFCCB3"/>
<rect x="652.88" y="1100.5" width="44.69" height="64.8" fill="#FFA880"/>
<rect x="697.26" y="1100.5" width="44.69" height="64.8" fill="#FF7A45"/>
<rect x="741.65" y="1100.5" width="44.69" height="64.8" fill="#FF5219"/>
<rect x="786.04" y="1100.5" width="44.69" height="64.8" fill="#E03300"/>
<rect x="830.43" y="1100.5" width="44.69" height="64.8" fill="#B82800"/>
<rect x="874.81" y="1100.5" width="44.69" height="64.8" fill="#8B0000"/>
<g stroke="#000" fill="none">
<line x1="253.39" y1="1100.5" x2="253.39" y2="1165.3" stroke-width="2.2"/>
<line x1="297.77" y1="1100.5" x2="297.77" y2="1165.3" stroke-width="2.2"/>
<line x1="342.16" y1="1100.5" x2="342.16" y2="1165.3" stroke-width="2.2"/>
<line x1="386.55" y1="1100.5" x2="386.55" y2="1165.3" stroke-width="2.2"/>
<line x1="430.94" y1="1100.5" x2="430.94" y2="1165.3" stroke-width="2.2"/>
<line x1="475.33" y1="1100.5" x2="475.33" y2="1165.3" stroke-width="2.2"/>
<line x1="519.71" y1="1100.5" x2="519.71" y2="1165.3" stroke-width="2.2"/>
<line x1="564.1" y1="1100.5" x2="564.1" y2="1165.3" stroke-width="2.2"/>
<line x1="608.49" y1="1100.5" x2="608.49" y2="1165.3" stroke-width="2.2"/>
<line x1="652.88" y1="1100.5" x2="652.88" y2="1165.3" stroke-width="2.2"/>
<line x1="697.26" y1="1100.5" x2="697.26" y2="1165.3" stroke-width="2.2"/>
<line x1="741.65" y1="1100.5" x2="741.65" y2="1165.3" stroke-width="2.2"/>
<line x1="786.04" y1="1100.5" x2="786.04" y2="1165.3" stroke-width="2.2"/>
<line x1="830.43" y1="1100.5" x2="830.43" y2="1165.3" stroke-width="2.2"/>
<line x1="874.81" y1="1100.5" x2="874.81" y2="1165.3" stroke-width="2.2"/>
<rect x="209" y="1100.5" width="710.2" height="64.8" stroke-width="2.6"/>
</g>
<path d="M240.31 1186.5 C244 1186.5 246.99 1190.95 246.99 1196.45 C246.99 1201.95 244 1206.4 240.31 1206.4 C236.63 1206.4 233.64 1201.95 233.64 1196.45 C233.64 1190.95 236.63 1186.5 240.31 1186.5 M255.65 1205.01 C256.14 1205.01 256.53 1205.36 256.53 1205.8 C256.53 1206.24 256.14 1206.6 255.65 1206.6 C255.16 1206.6 254.76 1206.24 254.76 1205.8 C254.76 1205.36 255.16 1205.01 255.65 1205.01 M268.74 1191.28 C271.41 1189.88 273.63 1188.49 274.74 1186.5 L274.74 1206.4" stroke-width="2.4"/>
<path d="M325.45 1186.5 C329.28 1186.5 332.38 1190.95 332.38 1196.45 C332.38 1201.95 329.28 1206.4 325.45 1206.4 C321.62 1206.4 318.51 1201.95 318.51 1196.45 C318.51 1190.95 321.62 1186.5 325.45 1186.5 M341.37 1205.01 C341.88 1205.01 342.29 1205.36 342.29 1205.8 C342.29 1206.24 341.88 1206.6 341.37 1206.6 C340.86 1206.6 340.45 1206.24 340.45 1205.8 C340.45 1205.36 340.86 1205.01 341.37 1205.01 M352.67 1186.5 L364.43 1186.5 L357.74 1194.46 C362.82 1194.46 365.81 1196.85 365.81 1200.43 C365.81 1204.01 362.58 1206.4 358.43 1206.4 C355.21 1206.4 352.67 1205.01 351.52 1202.82" stroke-width="2.4"/>
<path d="M414.47 1186.5 C418.17 1186.5 421.16 1190.95 421.16 1196.45 C421.16 1201.95 418.17 1206.4 414.47 1206.4 C410.78 1206.4 407.79 1201.95 407.79 1196.45 C407.79 1190.95 410.78 1186.5 414.47 1186.5 M429.83 1205.01 C430.32 1205.01 430.72 1205.36 430.72 1205.8 C430.72 1206.24 430.32 1206.6 429.83 1206.6 C429.34 1206.6 428.94 1206.24 428.94 1205.8 C428.94 1205.36 429.34 1205.01 429.83 1205.01 M452.45 1186.5 L442.18 1186.5 L441.01 1195.26 C442.88 1193.86 444.75 1193.46 446.85 1193.46 C451.29 1193.46 454.09 1196.25 454.09 1199.83 C454.09 1203.81 450.82 1206.4 446.62 1206.4 C443.35 1206.4 440.78 1205.01 439.61 1202.82" stroke-width="2.4"/>
<path d="M503.67 1186.5 C507.32 1186.5 510.28 1190.95 510.28 1196.45 C510.28 1201.95 507.32 1206.4 503.67 1206.4 C500.02 1206.4 497.06 1201.95 497.06 1196.45 C497.06 1190.95 500.02 1186.5 503.67 1186.5 M518.85 1205.01 C519.33 1205.01 519.73 1205.36 519.73 1205.8 C519.73 1206.24 519.33 1206.6 518.85 1206.6 C518.36 1206.6 517.97 1206.24 517.97 1205.8 C517.97 1205.36 518.36 1205.01 518.85 1205.01 M528.52 1186.5 L542.36 1186.5 L532.91 1206.4" stroke-width="2.4"/>
<path d="M592.67 1186.5 C596.45 1186.5 599.51 1190.95 599.51 1196.45 C599.51 1201.95 596.45 1206.4 592.67 1206.4 C588.9 1206.4 585.84 1201.95 585.84 1196.45 C585.84 1190.95 588.9 1186.5 592.67 1186.5 M608.38 1205.01 C608.88 1205.01 609.29 1205.36 609.29 1205.8 C609.29 1206.24 608.88 1206.6 608.38 1206.6 C607.87 1206.6 607.47 1206.24 607.47 1205.8 C607.47 1205.36 607.87 1205.01 608.38 1205.01 M619.63 1203.81 C620.68 1205.4 622.56 1206.4 624.65 1206.4 C629.05 1206.4 631.14 1201.62 631.14 1195.45 C631.14 1189.48 628.63 1186.5 624.65 1186.5 C620.89 1186.5 618.38 1189.29 618.38 1192.87 C618.38 1196.45 620.89 1198.84 624.44 1198.84 C628 1198.84 630.51 1196.65 631.14 1194.06" stroke-width="2.4"/>
<path d="M678.76 1191.28 C681.41 1189.88 683.61 1188.49 684.71 1186.5 L684.71 1206.4 M698.81 1205.01 C699.3 1205.01 699.69 1205.36 699.69 1205.8 C699.69 1206.24 699.3 1206.6 698.81 1206.6 C698.33 1206.6 697.93 1206.24 697.93 1205.8 C697.93 1205.36 698.33 1205.01 698.81 1205.01 M711.81 1191.28 C714.46 1189.88 716.66 1188.49 717.76 1186.5 L717.76 1206.4" stroke-width="2.4"/>
<path d="M764.49 1191.28 C767.11 1189.88 769.3 1188.49 770.39 1186.5 L770.39 1206.4 M784.4 1205.01 C784.88 1205.01 785.27 1205.36 785.27 1205.8 C785.27 1206.24 784.88 1206.6 784.4 1206.6 C783.91 1206.6 783.52 1206.24 783.52 1205.8 C783.52 1205.36 783.91 1205.01 784.4 1205.01 M795.12 1186.5 L806.27 1186.5 L799.93 1194.46 C804.74 1194.46 807.59 1196.85 807.59 1200.43 C807.59 1204.01 804.52 1206.4 800.59 1206.4 C797.52 1206.4 795.12 1205.01 794.02 1202.82" stroke-width="2.4"/>
<path d="M853.76 1191.28 C856.29 1189.88 858.39 1188.49 859.44 1186.5 L859.44 1206.4 M872.91 1205.01 C873.37 1205.01 873.75 1205.36 873.75 1205.8 C873.75 1206.24 873.37 1206.6 872.91 1206.6 C872.44 1206.6 872.07 1206.24 872.07 1205.8 C872.07 1205.36 872.44 1205.01 872.91 1205.01 M894.32 1186.5 L884.6 1186.5 L883.49 1195.26 C885.26 1193.86 887.03 1193.46 889.01 1193.46 C893.21 1193.46 895.86 1196.25 895.86 1199.83 C895.86 1203.81 892.77 1206.4 888.79 1206.4 C885.7 1206.4 883.27 1205.01 882.17 1202.82" stroke-width="2.4"/>
<rect x="1345.5" y="1100.5" width="44.69" height="64.8" fill="#00008B"/>
<rect x="1389.89" y="1100.5" width="44.69" height="64.8" fill="#0020B8"/>
<rect x="1434.28" y="1100.5" width="44.69" height="64.8" fill="#0033E0"/>
<rect x="1478.66" y="1100.5" width="44.69" height="64.8" fill="#1A4DFF"/>
<rect x="1523.05" y="1100.5" width="44.69" height="64.8" fill="#4078FF"/>
<rect x="1567.44" y="1100.5" width="44.69" height="64.8" fill="#80A8FF"/>
<rect x="1611.82" y="1100.5" width="44.69" height="64.8" fill="#B3CCFF"/>
<rect x="1656.21" y="1100.5" width="44.69" height="64.8" fill="#D6E8FF"/>
<rect x="1700.6" y="1100.5" width="44.69" height="64.8" fill="#FFEBDB"/>
<rect x="1744.99" y="1100.5" width="44.69" height="64.8" fill="#FFCCB3"/>
<rect x="1789.38" y="1100.5" width="44.69" height="64.8" fill="#FFA880"/>
<rect x="1833.76" y="1100.5" width="44.69" height="64.8" fill="#FF7A45"/>
<rect x="1878.15" y="1100.5" width="44.69" height="64.8" fill="#FF5219"/>
<rect x="1922.54" y="1100.5" width="44.69" height="64.8" fill="#E03300"/>
<rect x="1966.92" y="1100.5" width="44.69" height="64.8" fill="#B82800"/>
<rect x="2011.31" y="1100.5" width="44.69" height="64.8" fill="#8B0000"/>
<g stroke="#000" fill="none">
<line x1="1389.89" y1="1100.5" x2="1389.89" y2="1165.3" stroke-width="2.2"/>
<line x1="1434.28" y1="1100.5" x2="1434.28" y2="1165.3" stroke-width="2.2"/>
<line x1="1478.66" y1="1100.5" x2="1478.66" y2="1165.3" stroke-width="2.2"/>
<line x1="1523.05" y1="1100.5" x2="1523.05" y2="1165.3" stroke-width="2.2"/>
<line x1="1567.44" y1="1100.5" x2="1567.44" y2="1165.3" stroke-width="2.2"/>
<line x1="1611.82" y1="1100.5" x2="1611.82" y2="1165.3" stroke-width="2.2"/>
<line x1="1656.21" y1="1100.5" x2="1656.21" y2="1165.3" stroke-width="2.2"/>
<line x1="1700.6" y1="1100.5" x2="1700.6" y2="1165.3" stroke-width="2.2"/>
<line x1="1744.99" y1="1100.5" x2="1744.99" y2="1165.3" stroke-width="2.2"/>
<line x1="1789.38" y1="1100.5" x2="1789.38" y2="1165.3" stroke-width="2.2"/>
<line x1="1833.76" y1="1100.5" x2="1833.76" y2="1165.3" stroke-width="2.2"/>
<line x1="1878.15" y1="1100.5" x2="1878.15" y2="1165.3" stroke-width="2.2"/>
<line x1="1922.54" y1="1100.5" x2="1922.54" y2="1165.3" stroke-width="2.2"/>
<line x1="1966.92" y1="1100.5" x2="1966.92" y2="1165.3" stroke-width="2.2"/>
<line x1="2011.31" y1="1100.5" x2="2011.31" y2="1165.3" stroke-width="2.2"/>
<rect x="1345.5" y="1100.5" width="710.2" height="64.8" stroke-width="2.6"/>
</g>
<path d="M1376.81 1186.5 C1380.5 1186.5 1383.49 1190.95 1383.49 1196.45 C1383.49 1201.95 1380.5 1206.4 1376.81 1206.4 C1373.13 1206.4 1370.14 1201.95 1370.14 1196.45 C1370.14 1190.95 1373.13 1186.5 1376.81 1186.5 M1392.15 1205.01 C1392.64 1205.01 1393.03 1205.36 1393.03 1205.8 C1393.03 1206.24 1392.64 1206.6 1392.15 1206.6 C1391.66 1206.6 1391.26 1206.24 1391.26 1205.8 C1391.26 1205.36 1391.66 1205.01 1392.15 1205.01 M1405.24 1191.28 C1407.91 1189.88 1410.13 1188.49 1411.24 1186.5 L1411.24 1206.4" stroke-width="2.4"/>
<path d="M1461.95 1186.5 C1465.78 1186.5 1468.88 1190.95 1468.88 1196.45 C1468.88 1201.95 1465.78 1206.4 1461.95 1206.4 C1458.12 1206.4 1455.01 1201.95 1455.01 1196.45 C1455.01 1190.95 1458.12 1186.5 1461.95 1186.5 M1477.87 1205.01 C1478.38 1205.01 1478.79 1205.36 1478.79 1205.8 C1478.79 1206.24 1478.38 1206.6 1477.87 1206.6 C1477.36 1206.6 1476.95 1206.24 1476.95 1205.8 C1476.95 1205.36 1477.36 1205.01 1477.87 1205.01 M1489.17 1186.5 L1500.93 1186.5 L1494.24 1194.46 C1499.32 1194.46 1502.31 1196.85 1502.31 1200.43 C1502.31 1204.01 1499.08 1206.4 1494.93 1206.4 C1491.71 1206.4 1489.17 1205.01 1488.02 1202.82" stroke-width="2.4"/>
<path d="M1550.97 1186.5 C1554.67 1186.5 1557.66 1190.95 1557.66 1196.45 C1557.66 1201.95 1554.67 1206.4 1550.97 1206.4 C1547.28 1206.4 1544.29 1201.95 1544.29 1196.45 C1544.29 1190.95 1547.28 1186.5 1550.97 1186.5 M1566.33 1205.01 C1566.82 1205.01 1567.22 1205.36 1567.22 1205.8 C1567.22 1206.24 1566.82 1206.6 1566.33 1206.6 C1565.84 1206.6 1565.44 1206.24 1565.44 1205.8 C1565.44 1205.36 1565.84 1205.01 1566.33 1205.01 M1588.95 1186.5 L1578.68 1186.5 L1577.51 1195.26 C1579.38 1193.86 1581.25 1193.46 1583.35 1193.46 C1587.79 1193.46 1590.59 1196.25 1590.59 1199.83 C1590.59 1203.81 1587.32 1206.4 1583.12 1206.4 C1579.85 1206.4 1577.28 1205.01 1576.11 1202.82" stroke-width="2.4"/>
<path d="M1640.17 1186.5 C1643.82 1186.5 1646.78 1190.95 1646.78 1196.45 C1646.78 1201.95 1643.82 1206.4 1640.17 1206.4 C1636.52 1206.4 1633.56 1201.95 1633.56 1196.45 C1633.56 1190.95 1636.52 1186.5 1640.17 1186.5 M1655.35 1205.01 C1655.83 1205.01 1656.23 1205.36 1656.23 1205.8 C1656.23 1206.24 1655.83 1206.6 1655.35 1206.6 C1654.86 1206.6 1654.47 1206.24 1654.47 1205.8 C1654.47 1205.36 1654.86 1205.01 1655.35 1205.01 M1665.02 1186.5 L1678.86 1186.5 L1669.41 1206.4" stroke-width="2.4"/>
<path d="M1729.17 1186.5 C1732.95 1186.5 1736.01 1190.95 1736.01 1196.45 C1736.01 1201.95 1732.95 1206.4 1729.17 1206.4 C1725.4 1206.4 1722.34 1201.95 1722.34 1196.45 C1722.34 1190.95 1725.4 1186.5 1729.17 1186.5 M1744.88 1205.01 C1745.38 1205.01 1745.79 1205.36 1745.79 1205.8 C1745.79 1206.24 1745.38 1206.6 1744.88 1206.6 C1744.37 1206.6 1743.97 1206.24 1743.97 1205.8 C1743.97 1205.36 1744.37 1205.01 1744.88 1205.01 M1756.13 1203.81 C1757.18 1205.4 1759.06 1206.4 1761.15 1206.4 C1765.55 1206.4 1767.64 1201.62 1767.64 1195.45 C1767.64 1189.48 1765.13 1186.5 1761.15 1186.5 C1757.39 1186.5 1754.88 1189.29 1754.88 1192.87 C1754.88 1196.45 1757.39 1198.84 1760.94 1198.84 C1764.5 1198.84 1767.01 1196.65 1767.64 1194.06" stroke-width="2.4"/>
<path d="M1815.26 1191.28 C1817.91 1189.88 1820.11 1188.49 1821.21 1186.5 L1821.21 1206.4 M1835.31 1205.01 C1835.8 1205.01 1836.19 1205.36 1836.19 1205.8 C1836.19 1206.24 1835.8 1206.6 1835.31 1206.6 C1834.83 1206.6 1834.43 1206.24 1834.43 1205.8 C1834.43 1205.36 1834.83 1205.01 1835.31 1205.01 M1848.31 1191.28 C1850.96 1189.88 1853.16 1188.49 1854.26 1186.5 L1854.26 1206.4" stroke-width="2.4"/>
<path d="M1900.99 1191.28 C1903.61 1189.88 1905.8 1188.49 1906.89 1186.5 L1906.89 1206.4 M1920.9 1205.01 C1921.38 1205.01 1921.77 1205.36 1921.77 1205.8 C1921.77 1206.24 1921.38 1206.6 1920.9 1206.6 C1920.41 1206.6 1920.02 1206.24 1920.02 1205.8 C1920.02 1205.36 1920.41 1205.01 1920.9 1205.01 M1931.62 1186.5 L1942.77 1186.5 L1936.43 1194.46 C1941.24 1194.46 1944.09 1196.85 1944.09 1200.43 C1944.09 1204.01 1941.02 1206.4 1937.09 1206.4 C1934.02 1206.4 1931.62 1205.01 1930.52 1202.82" stroke-width="2.4"/>
<path d="M1990.26 1191.28 C1992.79 1189.88 1994.89 1188.49 1995.94 1186.5 L1995.94 1206.4 M2009.41 1205.01 C2009.87 1205.01 2010.25 1205.36 2010.25 1205.8 C2010.25 1206.24 2009.87 1206.6 2009.41 1206.6 C2008.94 1206.6 2008.57 1206.24 2008.57 1205.8 C2008.57 1205.36 2008.94 1205.01 2009.41 1205.01 M2030.82 1186.5 L2021.1 1186.5 L2019.99 1195.26 C2021.76 1193.86 2023.53 1193.46 2025.51 1193.46 C2029.71 1193.46 2032.36 1196.25 2032.36 1199.83 C2032.36 1203.81 2029.27 1206.4 2025.29 1206.4 C2022.2 1206.4 2019.77 1205.01 2018.67 1202.82" stroke-width="2.4"/>
<rect x="1775.8" y="2090.11" width="99" height="36.99" fill="#00008B"/>
<rect x="1775.8" y="2053.43" width="99" height="36.99" fill="#0020B8"/>
<rect x="1775.8" y="2016.74" width="99" height="36.99" fill="#0033E0"/>
<rect x="1775.8" y="1980.05" width="99" height="36.99" fill="#1A4DFF"/>
<rect x="1775.8" y="1943.36" width="99" height="36.99" fill="#4078FF"/>
<rect x="1775.8" y="1906.68" width="99" height="36.99" fill="#80A8FF"/>
<rect x="1775.8" y="1869.99" width="99" height="36.99" fill="#B3CCFF"/>
<rect x="1775.8" y="1833.3" width="99" height="36.99" fill="#D6E8FF"/>
<rect x="1775.8" y="1796.61" width="99" height="36.99" fill="#FFEBDB"/>
<rect x="1775.8" y="1759.93" width="99" height="36.99" fill="#FFCCB3"/>
<rect x="1775.8" y="1723.24" width="99" height="36.99" fill="#FFA880"/>
<rect x="1775.8" y="1686.55" width="99" height="36.99" fill="#FF7A45"/>
<rect x="1775.8" y="1649.86" width="99" height="36.99" fill="#FF5219"/>
<rect x="1775.8" y="1613.17" width="99" height="36.99" fill="#E03300"/>
<rect x="1775.8" y="1576.49" width="99" height="36.99" fill="#B82800"/>
<rect x="1775.8" y="1539.8" width="99" height="36.99" fill="#8B0000"/>
<g stroke="#000" fill="none">
<line x1="1775.8" y1="2090.11" x2="1874.8" y2="2090.11" stroke-width="2.2"/>
<line x1="1775.8" y1="2053.43" x2="1874.8" y2="2053.43" stroke-width="2.2"/>
<line x1="1775.8" y1="2016.74" x2="1874.8" y2="2016.74" stroke-width="2.2"/>
<line x1="1775.8" y1="1980.05" x2="1874.8" y2="1980.05" stroke-width="2.2"/>
<line x1="1775.8" y1="1943.36" x2="1874.8" y2="1943.36" stroke-width="2.2"/>
<line x1="1775.8" y1="1906.68" x2="1874.8" y2="1906.68" stroke-width="2.2"/>
<line x1="1775.8" y1="1869.99" x2="1874.8" y2="1869.99" stroke-width="2.2"/>
<line x1="1775.8" y1="1833.3" x2="1874.8" y2="1833.3" stroke-width="2.2"/>
<line x1="1775.8" y1="1796.61" x2="1874.8" y2="1796.61" stroke-width="2.2"/>
<line x1="1775.8" y1="1759.93" x2="1874.8" y2="1759.93" stroke-width="2.2"/>
<line x1="1775.8" y1="1723.24" x2="1874.8" y2="1723.24" stroke-width="2.2"/>
<line x1="1775.8" y1="1686.55" x2="1874.8" y2="1686.55" stroke-width="2.2"/>
<line x1="1775.8" y1="1649.86" x2="1874.8" y2="1649.86" stroke-width="2.2"/>
<line x1="1775.8" y1="1613.17" x2="1874.8" y2="1613.17" stroke-width="2.2"/>
<line x1="1775.8" y1="1576.49" x2="1874.8" y2="1576.49" stroke-width="2.2"/>
<rect x="1775.8" y="1539.8" width="99" height="587" stroke-width="2.6"/>
</g>
<path d="M1888.5 2091.17 L1906.62 2091.17 M1920.22 2079.51 C1923.98 2079.51 1927.03 2084.26 1927.03 2090.11 C1927.03 2095.97 1923.98 2100.71 1920.22 2100.71 C1916.46 2100.71 1913.41 2095.97 1913.41 2090.11 C1913.41 2084.26 1916.46 2079.51 1920.22 2079.51 M1935.87 2099.23 C1936.37 2099.23 1936.77 2099.61 1936.77 2100.08 C1936.77 2100.54 1936.37 2100.92 1935.87 2100.92 C1935.37 2100.92 1934.96 2100.54 1934.96 2100.08 C1934.96 2099.61 1935.37 2099.23 1935.87 2099.23 M1945.83 2079.51 L1960.1 2079.51 L1950.36 2100.71" stroke-width="2.4"/>
<path d="M1888.5 2054.49 L1907.21 2054.49 M1921.25 2042.83 C1925.14 2042.83 1928.28 2047.57 1928.28 2053.43 C1928.28 2059.28 1925.14 2064.03 1921.25 2064.03 C1917.37 2064.03 1914.22 2059.28 1914.22 2053.43 C1914.22 2047.57 1917.37 2042.83 1921.25 2042.83 M1937.4 2062.54 C1937.92 2062.54 1938.34 2062.92 1938.34 2063.39 C1938.34 2063.86 1937.92 2064.24 1937.4 2064.24 C1936.89 2064.24 1936.47 2063.86 1936.47 2063.39 C1936.47 2062.92 1936.89 2062.54 1937.4 2062.54 M1958.88 2045.58 C1957.86 2043.89 1956.03 2042.83 1954 2042.83 C1949.73 2042.83 1947.69 2047.91 1947.69 2054.49 C1947.69 2060.85 1950.13 2064.03 1954 2064.03 C1957.66 2064.03 1960.1 2061.06 1960.1 2057.24 C1960.1 2053.43 1957.66 2050.88 1954.2 2050.88 C1950.74 2050.88 1948.3 2053.21 1947.69 2055.97" stroke-width="2.4"/>
<path d="M1888.5 2017.8 L1906.5 2017.8 M1920.01 2006.14 C1923.75 2006.14 1926.78 2010.88 1926.78 2016.74 C1926.78 2022.59 1923.75 2027.34 1920.01 2027.34 C1916.28 2027.34 1913.25 2022.59 1913.25 2016.74 C1913.25 2010.88 1916.28 2006.14 1920.01 2006.14 M1935.55 2025.85 C1936.05 2025.85 1936.45 2026.23 1936.45 2026.7 C1936.45 2027.17 1936.05 2027.55 1935.55 2027.55 C1935.06 2027.55 1934.65 2027.17 1934.65 2026.7 C1934.65 2026.23 1935.06 2025.85 1935.55 2025.85 M1958.45 2006.14 L1948.05 2006.14 L1946.87 2015.47 C1948.76 2013.98 1950.65 2013.56 1952.78 2013.56 C1957.27 2013.56 1960.1 2016.53 1960.1 2020.34 C1960.1 2024.58 1956.79 2027.34 1952.54 2027.34 C1949.23 2027.34 1946.63 2025.85 1945.45 2023.52" stroke-width="2.4"/>
<path d="M1888.5 1981.11 L1906.56 1981.11 M1920.12 1969.45 C1923.87 1969.45 1926.91 1974.2 1926.91 1980.05 C1926.91 1985.9 1923.87 1990.65 1920.12 1990.65 C1916.37 1990.65 1913.33 1985.9 1913.33 1980.05 C1913.33 1974.2 1916.37 1969.45 1920.12 1969.45 M1935.72 1989.17 C1936.22 1989.17 1936.62 1989.55 1936.62 1990.01 C1936.62 1990.48 1936.22 1990.86 1935.72 1990.86 C1935.22 1990.86 1934.81 1990.48 1934.81 1990.01 C1934.81 1989.55 1935.22 1989.17 1935.72 1989.17 M1956.26 1990.65 L1956.26 1969.45 L1945.65 1984.08 L1960.1 1984.08" stroke-width="2.4"/>
<path d="M1888.5 1944.42 L1906.68 1944.42 M1920.32 1932.76 C1924.1 1932.76 1927.16 1937.51 1927.16 1943.36 C1927.16 1949.22 1924.1 1953.96 1920.32 1953.96 C1916.55 1953.96 1913.49 1949.22 1913.49 1943.36 C1913.49 1937.51 1916.55 1932.76 1920.32 1932.76 M1936.02 1952.48 C1936.52 1952.48 1936.93 1952.86 1936.93 1953.33 C1936.93 1953.79 1936.52 1954.17 1936.02 1954.17 C1935.51 1954.17 1935.11 1953.79 1935.11 1953.33 C1935.11 1952.86 1935.51 1952.48 1936.02 1952.48 M1947.15 1932.76 L1958.74 1932.76 L1952.15 1941.24 C1957.15 1941.24 1960.1 1943.79 1960.1 1947.6 C1960.1 1951.42 1956.92 1953.96 1952.83 1953.96 C1949.65 1953.96 1947.15 1952.48 1946.01 1950.15" stroke-width="2.4"/>
<path d="M1888.5 1907.74 L1906.62 1907.74 M1920.22 1896.08 C1923.98 1896.08 1927.03 1900.82 1927.03 1906.68 C1927.03 1912.53 1923.98 1917.28 1920.22 1917.28 C1916.46 1917.28 1913.41 1912.53 1913.41 1906.68 C1913.41 1900.82 1916.46 1896.08 1920.22 1896.08 M1935.87 1915.79 C1936.37 1915.79 1936.77 1916.17 1936.77 1916.64 C1936.77 1917.11 1936.37 1917.49 1935.87 1917.49 C1935.37 1917.49 1934.96 1917.11 1934.96 1916.64 C1934.96 1916.17 1935.37 1915.79 1935.87 1915.79 M1946.74 1901.59 C1946.74 1897.98 1949.68 1896.08 1953.08 1896.08 C1956.7 1896.08 1959.65 1898.2 1959.65 1901.8 C1959.65 1905.19 1957.16 1907.1 1953.98 1909.43 L1945.83 1917.28 L1960.1 1917.28" stroke-width="2.4"/>
<path d="M1890.85 1871.05 L1908.98 1871.05 M1922.6 1859.39 C1926.36 1859.39 1929.42 1864.13 1929.42 1869.99 C1929.42 1875.84 1926.36 1880.59 1922.6 1880.59 C1918.84 1880.59 1915.78 1875.84 1915.78 1869.99 C1915.78 1864.13 1918.84 1859.39 1922.6 1859.39 M1938.26 1879.1 C1938.76 1879.1 1939.16 1879.48 1939.16 1879.95 C1939.16 1880.42 1938.76 1880.8 1938.26 1880.8 C1937.76 1880.8 1937.35 1880.42 1937.35 1879.95 C1937.35 1879.48 1937.76 1879.1 1938.26 1879.1 M1951.63 1864.48 C1954.35 1862.99 1956.62 1861.51 1957.75 1859.39 L1957.75 1880.59" stroke-width="2.4"/>
<path d="M1924.3 1822.7 C1928.28 1822.7 1931.5 1827.45 1931.5 1833.3 C1931.5 1839.15 1928.28 1843.9 1924.3 1843.9 C1920.32 1843.9 1917.1 1839.15 1917.1 1833.3 C1917.1 1827.45 1920.32 1822.7 1924.3 1822.7" stroke-width="2.4"/>
<path d="M1910.8 1786.01 C1914.38 1786.01 1917.29 1790.76 1917.29 1796.61 C1917.29 1802.47 1914.38 1807.21 1910.8 1807.21 C1907.21 1807.21 1904.3 1802.47 1904.3 1796.61 C1904.3 1790.76 1907.21 1786.01 1910.8 1786.01 M1925.72 1805.73 C1926.2 1805.73 1926.58 1806.11 1926.58 1806.58 C1926.58 1807.04 1926.2 1807.42 1925.72 1807.42 C1925.24 1807.42 1924.86 1807.04 1924.86 1806.58 C1924.86 1806.11 1925.24 1805.73 1925.72 1805.73 M1938.47 1791.1 C1941.06 1789.62 1943.22 1788.13 1944.3 1786.01 L1944.3 1807.21" stroke-width="2.4"/>
<path d="M1907.62 1749.33 C1911.42 1749.33 1914.49 1754.07 1914.49 1759.93 C1914.49 1765.78 1911.42 1770.53 1907.62 1770.53 C1903.83 1770.53 1900.75 1765.78 1900.75 1759.93 C1900.75 1754.07 1903.83 1749.33 1907.62 1749.33 M1923.4 1769.04 C1923.91 1769.04 1924.32 1769.42 1924.32 1769.89 C1924.32 1770.36 1923.91 1770.74 1923.4 1770.74 C1922.9 1770.74 1922.49 1770.36 1922.49 1769.89 C1922.49 1769.42 1922.9 1769.04 1923.4 1769.04 M1934.37 1754.84 C1934.37 1751.23 1937.34 1749.33 1940.77 1749.33 C1944.42 1749.33 1947.39 1751.45 1947.39 1755.05 C1947.39 1758.44 1944.88 1760.35 1941.68 1762.68 L1933.46 1770.53 L1947.85 1770.53" stroke-width="2.4"/>
<path d="M1907.65 1712.64 C1911.47 1712.64 1914.56 1717.38 1914.56 1723.24 C1914.56 1729.09 1911.47 1733.84 1907.65 1733.84 C1903.84 1733.84 1900.75 1729.09 1900.75 1723.24 C1900.75 1717.38 1903.84 1712.64 1907.65 1712.64 M1923.51 1732.35 C1924.02 1732.35 1924.43 1732.73 1924.43 1733.2 C1924.43 1733.67 1924.02 1734.05 1923.51 1734.05 C1923.01 1734.05 1922.59 1733.67 1922.59 1733.2 C1922.59 1732.73 1923.01 1732.35 1923.51 1732.35 M1934.76 1712.64 L1946.47 1712.64 L1939.81 1721.12 C1944.87 1721.12 1947.85 1723.66 1947.85 1727.48 C1947.85 1731.29 1944.64 1733.84 1940.5 1733.84 C1937.29 1733.84 1934.76 1732.35 1933.61 1730.02" stroke-width="2.4"/>
<path d="M1907.59 1675.95 C1911.36 1675.95 1914.42 1680.7 1914.42 1686.55 C1914.42 1692.4 1911.36 1697.15 1907.59 1697.15 C1903.81 1697.15 1900.75 1692.4 1900.75 1686.55 C1900.75 1680.7 1903.81 1675.95 1907.59 1675.95 M1923.29 1695.67 C1923.8 1695.67 1924.2 1696.05 1924.2 1696.51 C1924.2 1696.98 1923.8 1697.36 1923.29 1697.36 C1922.79 1697.36 1922.38 1696.98 1922.38 1696.51 C1922.38 1696.05 1922.79 1695.67 1923.29 1695.67 M1943.98 1697.15 L1943.98 1675.95 L1933.3 1690.58 L1947.85 1690.58" stroke-width="2.4"/>
<path d="M1907.55 1639.26 C1911.31 1639.26 1914.35 1644.01 1914.35 1649.86 C1914.35 1655.72 1911.31 1660.46 1907.55 1660.46 C1903.79 1660.46 1900.75 1655.72 1900.75 1649.86 C1900.75 1644.01 1903.79 1639.26 1907.55 1639.26 M1923.17 1658.98 C1923.67 1658.98 1924.08 1659.36 1924.08 1659.83 C1924.08 1660.29 1923.67 1660.67 1923.17 1660.67 C1922.67 1660.67 1922.27 1660.29 1922.27 1659.83 C1922.27 1659.36 1922.67 1658.98 1923.17 1658.98 M1946.19 1639.26 L1935.74 1639.26 L1934.55 1648.59 C1936.45 1647.11 1938.35 1646.68 1940.49 1646.68 C1945 1646.68 1947.85 1649.65 1947.85 1653.47 C1947.85 1657.71 1944.53 1660.46 1940.25 1660.46 C1936.93 1660.46 1934.31 1658.98 1933.13 1656.65" stroke-width="2.4"/>
<path d="M1907.97 1602.58 C1911.95 1602.58 1915.19 1607.32 1915.19 1613.17 C1915.19 1619.03 1911.95 1623.77 1907.97 1623.77 C1903.98 1623.77 1900.75 1619.03 1900.75 1613.17 C1900.75 1607.32 1903.98 1602.58 1907.97 1602.58 M1924.55 1622.29 C1925.08 1622.29 1925.51 1622.67 1925.51 1623.14 C1925.51 1623.61 1925.08 1623.99 1924.55 1623.99 C1924.02 1623.99 1923.59 1623.61 1923.59 1623.14 C1923.59 1622.67 1924.02 1622.29 1924.55 1622.29 M1946.6 1605.33 C1945.55 1603.63 1943.67 1602.58 1941.58 1602.58 C1937.2 1602.58 1935.11 1607.66 1935.11 1614.23 C1935.11 1620.59 1937.62 1623.77 1941.58 1623.77 C1945.34 1623.77 1947.85 1620.81 1947.85 1616.99 C1947.85 1613.17 1945.34 1610.63 1941.79 1610.63 C1938.24 1610.63 1935.74 1612.96 1935.11 1615.72" stroke-width="2.4"/>
<path d="M1907.62 1565.89 C1911.42 1565.89 1914.49 1570.63 1914.49 1576.49 C1914.49 1582.34 1911.42 1587.09 1907.62 1587.09 C1903.83 1587.09 1900.75 1582.34 1900.75 1576.49 C1900.75 1570.63 1903.83 1565.89 1907.62 1565.89 M1923.4 1585.6 C1923.91 1585.6 1924.32 1585.98 1924.32 1586.45 C1924.32 1586.92 1923.91 1587.3 1923.4 1587.3 C1922.9 1587.3 1922.49 1586.92 1922.49 1586.45 C1922.49 1585.98 1922.9 1585.6 1923.4 1585.6 M1933.46 1565.89 L1947.85 1565.89 L1938.03 1587.09" stroke-width="2.4"/>
</svg></body></html>
